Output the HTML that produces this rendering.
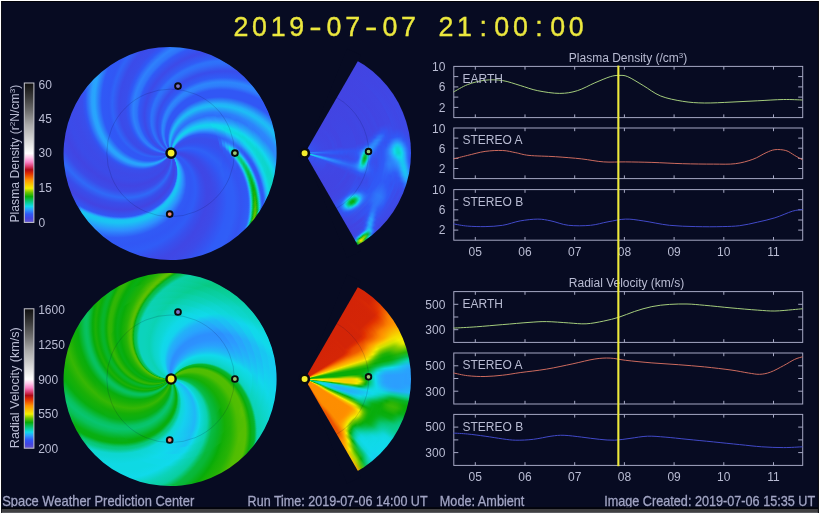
<!DOCTYPE html><html><head><meta charset="utf-8"><title>WSA-Enlil</title><style>
html,body{margin:0;padding:0;background:#070b22;}
#w{position:relative;width:820px;height:514px;overflow:hidden;background:#070b22;font-family:"Liberation Sans",sans-serif;}
.d{position:absolute;width:212.6px;height:212.6px;}
.d i{position:absolute;display:block;border-radius:50%;left:calc(106.3px - var(--r)*1px);top:calc(106.3px - var(--r)*1px);width:calc(var(--r)*2px);height:calc(var(--r)*2px);transform:rotate(calc(var(--r)*0.895deg));}
.f{position:absolute;width:212.6px;height:212.6px;}
.f i{position:absolute;display:block;border-radius:50%;}
.dn i{background:conic-gradient(from 90deg,#3f47e5 0deg,#384fed 8deg,#305cf7 16deg,#3157f5 24deg,#305bf6 32deg,#2d91fe 40deg,#1ac4f3 48deg,#19c6f2 51deg,#21b4f8 52deg,#2c96fe 53deg,#3157f5 55deg,#4244e2 63deg,#394deb 71deg,#2f6af8 78deg,#3c4be9 86deg,#4145e3 94deg,#3b4be9 102deg,#3d4ae8 110deg,#394eec 118deg,#3157f5 121deg,#2aa1fd 128deg,#27a6fc 131deg,#3059f6 139deg,#3157f5 147deg,#2f64f8 151deg,#3b4be9 159deg,#394eec 167deg,#3058f6 171deg,#2e82fc 177deg,#2e74fa 182deg,#3059f6 185deg,#3d4ae8 193deg,#305cf6 201deg,#2e73fa 204deg,#2f6ff9 207deg,#394deb 215deg,#305bf6 222deg,#2d87fc 227deg,#2e7efb 231deg,#3157f5 236deg,#3157f5 244deg,#23aff9 252deg,#1dbdf5 255deg,#2e7cfb 263deg,#2f6ff9 268deg,#23b1f9 276deg,#13d4ee 281deg,#19c7f2 285deg,#2c9cff 289deg,#3157f5 296deg,#394eec 304deg,#384fed 312deg,#3255f3 320deg,#2f61f7 328deg,#3058f6 336deg,#384fed 344deg,#3e48e6 352deg,#3f47e5 360deg);}
.dn i.k50{background:conic-gradient(from 90deg,#3f47e5 0deg,#384fed 8deg,#305cf7 16deg,#3157f5 24deg,#305bf6 32deg,#2d91fe 40deg,#1ac4f3 48deg,#19c6f2 51deg,#21b4f8 52deg,#2c96fe 53deg,#3157f5 55deg,#4244e2 63deg,#394deb 71deg,#2f6af8 78deg,#3c4be9 86deg,#4145e3 94deg,#3b4be9 102deg,#3d4ae8 110deg,#394eec 118deg,#3157f5 121deg,#2aa1fd 128deg,#27a6fc 131deg,#3059f6 139deg,#3157f5 147deg,#2f64f8 151deg,#3b4be9 159deg,#394eec 167deg,#3058f6 171deg,#2e82fc 177deg,#2e74fa 182deg,#3059f6 185deg,#3d4ae8 193deg,#305cf6 201deg,#2e73fa 204deg,#2f6ff9 207deg,#394deb 215deg,#305bf6 222deg,#2d87fc 227deg,#2e7efb 231deg,#3157f5 236deg,#3157f5 244deg,#23aff9 252deg,#1dbdf5 255deg,#2e7cfb 263deg,#2f6ef9 267deg,#2b9dff 274deg,#11d7ed 280deg,#10daec 283deg,#2d89fc 291deg,#305df7 296deg,#2f66f8 303deg,#384fed 311deg,#3355f3 319deg,#3060f7 327deg,#305af6 335deg,#3750ee 343deg,#3e49e7 351deg,#3f47e5 359deg,#3f47e5 360deg);}
.dn i.k53{background:conic-gradient(from 90deg,#3f47e5 0deg,#384fed 8deg,#305cf7 16deg,#3157f5 24deg,#305bf6 32deg,#2d91fe 40deg,#1ac4f3 48deg,#19c6f2 51deg,#21b4f8 52deg,#2c96fe 53deg,#3157f5 55deg,#4244e2 63deg,#394deb 71deg,#2f6af8 78deg,#3c4be9 86deg,#4145e3 94deg,#3b4be9 102deg,#3d4ae8 110deg,#394eec 118deg,#3157f5 121deg,#2aa1fd 128deg,#27a6fc 131deg,#3059f6 139deg,#3157f5 147deg,#2f64f8 151deg,#3b4be9 159deg,#394eec 167deg,#3058f6 171deg,#2e82fc 177deg,#2e74fa 182deg,#3059f6 185deg,#3d4ae8 193deg,#305cf6 201deg,#2e73fa 204deg,#2f6ff9 207deg,#394deb 215deg,#305bf6 222deg,#2d87fc 227deg,#2e7efb 231deg,#3157f5 236deg,#3157f5 244deg,#23aff9 252deg,#1dbdf5 255deg,#2e7cfb 263deg,#2f6ef9 267deg,#2d93fe 273deg,#11d9ec 280deg,#11d7ed 284deg,#2e7ffb 292deg,#2f63f7 296deg,#2d8dfd 302deg,#2d87fc 304deg,#305cf7 307deg,#3651ef 315deg,#3058f6 323deg,#2f61f7 331deg,#3355f3 339deg,#3b4cea 347deg,#3f47e5 355deg,#3f47e5 360deg);}
.dn i.k56{background:conic-gradient(from 90deg,#3f47e5 0deg,#384fed 8deg,#305cf7 16deg,#3157f5 24deg,#305bf6 32deg,#2d91fe 40deg,#1ac4f3 48deg,#19c6f2 51deg,#21b4f8 52deg,#2c96fe 53deg,#3157f5 55deg,#4244e2 63deg,#394deb 71deg,#2f6af8 78deg,#3c4be9 86deg,#4145e3 94deg,#3b4be9 102deg,#3d4ae8 110deg,#394eec 118deg,#3157f5 121deg,#2aa1fd 128deg,#27a6fc 131deg,#3059f6 139deg,#3157f5 147deg,#2f64f8 151deg,#3b4be9 159deg,#394eec 167deg,#3058f6 171deg,#2e82fc 177deg,#2e74fa 182deg,#3059f6 185deg,#3d4ae8 193deg,#305cf6 201deg,#2e73fa 204deg,#2f6ff9 207deg,#394deb 215deg,#305bf6 222deg,#2d87fc 227deg,#2e7efb 231deg,#3157f5 236deg,#3157f5 244deg,#23aff9 252deg,#1dbdf5 255deg,#2e7cfb 263deg,#2f6ef9 267deg,#2b9ffe 274deg,#10daec 280deg,#11d9ec 284deg,#2e80fb 292deg,#2f69f8 295deg,#2f6ef9 297deg,#2c99ff 300deg,#21b5f7 302deg,#20b6f7 303deg,#24adfa 304deg,#305cf6 308deg,#3552f0 316deg,#305af6 324deg,#3060f7 332deg,#3454f2 340deg,#3b4be9 348deg,#3f47e5 356deg,#3f47e5 360deg);}
.dn i.k59{background:conic-gradient(from 90deg,#3f47e5 0deg,#384fed 8deg,#305cf7 16deg,#3157f5 24deg,#305bf6 32deg,#2d91fe 40deg,#1ac4f3 48deg,#19c6f2 51deg,#21b4f8 52deg,#2c96fe 53deg,#3157f5 55deg,#4244e2 63deg,#394deb 71deg,#2f6af8 78deg,#3c4be9 86deg,#4145e3 94deg,#3b4be9 102deg,#3d4ae8 110deg,#394eec 118deg,#3157f5 121deg,#2aa1fd 128deg,#27a6fc 131deg,#3059f6 139deg,#3157f5 147deg,#2f64f8 151deg,#3b4be9 159deg,#394eec 167deg,#3058f6 171deg,#2e82fc 177deg,#2e74fa 182deg,#3059f6 185deg,#3d4ae8 193deg,#305cf6 201deg,#2e73fa 204deg,#2f6ff9 207deg,#394deb 215deg,#305bf6 222deg,#2d87fc 227deg,#2e7efb 231deg,#3157f5 236deg,#3157f5 244deg,#23aff9 252deg,#1dbdf5 255deg,#2e7cfb 263deg,#2f70f9 268deg,#2aa0fe 274deg,#12d5ed 279deg,#0fd9e5 283deg,#13d4ee 285deg,#2c99ff 290deg,#2f70f9 294deg,#2f6ff9 296deg,#2d87fc 298deg,#2b9dff 299deg,#15d0ef 301deg,#0fd9e5 302deg,#0fd9e3 303deg,#12d5ee 304deg,#2b9efe 306deg,#2f68f8 308deg,#3157f5 309deg,#3553f1 317deg,#305df7 325deg,#305ef7 333deg,#3553f1 341deg,#3c4ae8 349deg,#4047e5 357deg,#3f47e5 360deg);}
.dn i.k62{background:conic-gradient(from 90deg,#3f47e5 0deg,#384fed 8deg,#305cf7 16deg,#3157f5 24deg,#305bf6 32deg,#2d91fe 40deg,#1ac4f3 48deg,#19c6f2 51deg,#21b4f8 52deg,#2c96fe 53deg,#3157f5 55deg,#4244e2 63deg,#394deb 71deg,#2f6af8 78deg,#3c4be9 86deg,#4145e3 94deg,#3b4be9 102deg,#3d4ae8 110deg,#394eec 118deg,#3157f5 121deg,#2aa1fd 128deg,#27a6fc 131deg,#3059f6 139deg,#3157f5 147deg,#2f64f8 151deg,#3b4be9 159deg,#394eec 167deg,#3058f6 171deg,#2e82fc 177deg,#2e74fa 182deg,#3059f6 185deg,#3d4ae8 193deg,#305cf6 201deg,#2e73fa 204deg,#2f6ff9 207deg,#394deb 215deg,#305bf6 222deg,#2d87fc 227deg,#2e7efb 231deg,#3157f5 236deg,#3157f5 244deg,#23aff9 252deg,#1dbdf5 255deg,#2e7dfb 263deg,#2f70f9 267deg,#29a2fd 274deg,#11d7ed 279deg,#0fd8e1 282deg,#12d6ed 285deg,#2c9bff 290deg,#2f70f9 294deg,#2e72f9 296deg,#2c96fe 298deg,#11d7ed 300deg,#0dd5c8 301deg,#0bd1af 302deg,#0bd1ab 303deg,#0cd3bf 304deg,#0fd9e5 305deg,#1fb9f6 306deg,#2d93fe 307deg,#305cf7 309deg,#3553f1 317deg,#305df7 325deg,#305ef7 333deg,#3553f1 341deg,#3c4ae8 349deg,#4047e5 357deg,#3f47e5 360deg);}
.dn i.k65{background:conic-gradient(from 90deg,#3f47e5 0deg,#384fed 8deg,#305cf7 16deg,#3157f5 24deg,#305bf6 32deg,#2d91fe 40deg,#1ac4f3 48deg,#19c6f2 51deg,#21b4f8 52deg,#2c96fe 53deg,#3157f5 55deg,#4244e2 63deg,#394deb 71deg,#2f6af8 78deg,#3c4be9 86deg,#4145e3 94deg,#3b4be9 102deg,#3d4ae8 110deg,#394eec 118deg,#3157f5 121deg,#2aa1fd 128deg,#27a6fc 131deg,#3059f6 139deg,#3157f5 147deg,#2f64f8 151deg,#3b4be9 159deg,#394eec 167deg,#3058f6 171deg,#2e82fc 177deg,#2e74fa 182deg,#3059f6 185deg,#3d4ae8 193deg,#305cf6 201deg,#2e73fa 204deg,#2f6ff9 207deg,#394deb 215deg,#305bf6 222deg,#2d87fc 227deg,#2e7efb 231deg,#3157f5 236deg,#3157f5 244deg,#23aff9 252deg,#1dbdf5 255deg,#2e7efb 263deg,#2f71f9 267deg,#2c99ff 273deg,#10d9ec 279deg,#0fd8e0 283deg,#11d8ec 285deg,#2c9cff 290deg,#2f6af8 294deg,#2f68f8 295deg,#2f6ff9 296deg,#2e80fb 297deg,#2c9aff 298deg,#1dbef5 299deg,#0fd8df 300deg,#0bd2b4 301deg,#09ce98 302deg,#09cd94 303deg,#0ad0a8 304deg,#0ed6d2 305deg,#19c5f2 306deg,#2c9bff 307deg,#305ff7 309deg,#3553f1 317deg,#305df7 325deg,#305ef7 333deg,#3553f1 341deg,#3c4ae8 349deg,#4047e5 357deg,#3f47e5 360deg);}
.dn i.k68{background:conic-gradient(from 90deg,#3f47e5 0deg,#384fed 8deg,#305cf7 16deg,#3157f5 24deg,#305bf6 32deg,#2d91fe 40deg,#1ac4f3 48deg,#19c6f2 51deg,#21b4f8 52deg,#2c96fe 53deg,#3157f5 55deg,#4244e2 63deg,#394deb 71deg,#2f6af8 78deg,#3c4be9 86deg,#4145e3 94deg,#3b4be9 102deg,#3d4ae8 110deg,#394eec 118deg,#3157f5 121deg,#2aa1fd 128deg,#27a6fc 131deg,#3059f6 139deg,#3157f5 147deg,#2f64f8 151deg,#3b4be9 159deg,#394eec 167deg,#3058f6 171deg,#2e82fc 177deg,#2e74fa 182deg,#3059f6 185deg,#3d4ae8 193deg,#305cf6 201deg,#2e73fa 204deg,#2f6ff9 207deg,#394deb 215deg,#305bf6 222deg,#2d87fc 227deg,#2e7efb 231deg,#3157f5 236deg,#3157f5 244deg,#23aff9 252deg,#1dbdf5 255deg,#2e7efb 263deg,#2e73fa 267deg,#22b3f8 275deg,#10daeb 279deg,#0fd8dc 282deg,#10daeb 285deg,#2d8efd 291deg,#2f64f8 294deg,#2f63f7 295deg,#2f6cf9 296deg,#2e7ffb 297deg,#2c9dff 298deg,#1ac4f3 299deg,#0ed6d3 300deg,#0ad0a4 301deg,#08cb87 302deg,#08ca82 303deg,#09ce98 304deg,#0dd4c4 305deg,#16cef0 306deg,#2aa1fd 307deg,#2e7dfb 308deg,#2f62f7 309deg,#3255f3 310deg,#3454f2 318deg,#305ef7 326deg,#305cf7 334deg,#3652f0 342deg,#3d4ae8 350deg,#4047e5 358deg,#3f47e5 360deg);}
.dn i.k71{background:conic-gradient(from 90deg,#3f47e5 0deg,#384fed 8deg,#305cf7 16deg,#3157f5 24deg,#305bf6 32deg,#2d91fe 40deg,#1ac4f3 48deg,#19c6f2 51deg,#21b4f8 52deg,#2c96fe 53deg,#3157f5 55deg,#4244e2 63deg,#394deb 71deg,#2f6af8 78deg,#3c4be9 86deg,#4145e3 94deg,#3b4be9 102deg,#3d4ae8 110deg,#394eec 118deg,#3157f5 121deg,#2aa1fd 128deg,#27a6fc 131deg,#3059f6 139deg,#3157f5 147deg,#2f64f8 151deg,#3b4be9 159deg,#394eec 167deg,#3058f6 171deg,#2e82fc 177deg,#2e74fa 182deg,#3059f6 185deg,#3d4ae8 193deg,#305cf6 201deg,#2e73fa 204deg,#2f6ff9 207deg,#394deb 215deg,#305bf6 222deg,#2d87fc 227deg,#2e7efb 231deg,#3157f5 236deg,#3157f5 244deg,#23aff9 252deg,#1dbef5 255deg,#2e7ffb 263deg,#2e77fa 268deg,#1bc1f4 276deg,#10d9e8 279deg,#0ed7da 282deg,#10d9e8 285deg,#23b0f9 289deg,#2f6af8 293deg,#305ff7 294deg,#305df7 295deg,#2f68f8 296deg,#2e7ffb 297deg,#2aa0fe 298deg,#17cbf1 299deg,#0dd5c6 300deg,#09cd95 301deg,#08c775 302deg,#08c570 303deg,#08cb88 304deg,#0cd2b6 305deg,#12d6ed 306deg,#27a7fc 307deg,#2e81fb 308deg,#2f64f8 309deg,#3256f4 310deg,#3454f2 318deg,#305ef7 326deg,#305cf7 334deg,#3652f0 342deg,#3d4ae8 350deg,#4047e5 358deg,#3f47e5 360deg);}
.dn i.k74{background:conic-gradient(from 90deg,#3f47e5 0deg,#384fed 8deg,#305cf7 16deg,#3157f5 24deg,#305bf6 32deg,#2d91fe 40deg,#1ac4f3 48deg,#19c6f2 51deg,#21b4f8 52deg,#2c96fe 53deg,#3157f5 55deg,#4244e2 63deg,#394deb 71deg,#2f6af8 78deg,#3c4be9 86deg,#4145e3 94deg,#3b4be9 102deg,#3d4ae8 110deg,#394eec 118deg,#3157f5 121deg,#2aa1fd 128deg,#27a6fc 131deg,#3059f6 139deg,#3157f5 147deg,#2f64f8 151deg,#3b4be9 159deg,#394eec 167deg,#3058f6 171deg,#2e82fc 177deg,#2e74fa 182deg,#3059f6 185deg,#3d4ae8 193deg,#305cf6 201deg,#2e73fa 204deg,#2f6ff9 207deg,#394deb 215deg,#305bf6 222deg,#2d87fc 227deg,#2e7efb 231deg,#3157f5 236deg,#3157f5 244deg,#23aff9 252deg,#1dbef5 255deg,#2e80fb 263deg,#2e76fa 267deg,#2aa0fe 273deg,#11d7ed 278deg,#0ed7d9 281deg,#11d7ed 286deg,#22b2f8 289deg,#2f65f8 293deg,#3059f6 294deg,#3058f6 295deg,#2f64f8 296deg,#2e7efb 297deg,#29a3fd 298deg,#14d2ef 299deg,#0cd3ba 300deg,#08ca86 301deg,#08c264 302deg,#08c15e 303deg,#08c777 304deg,#0ad0a8 305deg,#10d9e6 306deg,#24adfa 307deg,#2d84fc 308deg,#2f66f8 309deg,#3256f4 310deg,#3454f2 318deg,#305ef7 326deg,#305cf7 334deg,#3652f0 342deg,#3d4ae8 350deg,#4047e5 358deg,#3f47e5 360deg);}
.dn i.k77{background:conic-gradient(from 90deg,#3f47e5 0deg,#384fed 8deg,#305cf7 16deg,#3157f5 24deg,#305bf6 32deg,#2d91fe 40deg,#1ac4f3 48deg,#19c6f2 51deg,#21b4f8 52deg,#2c96fe 53deg,#3157f5 55deg,#4244e2 63deg,#394deb 71deg,#2f6af8 78deg,#3c4be9 86deg,#4145e3 94deg,#3b4be9 102deg,#3d4ae8 110deg,#394eec 118deg,#3157f5 121deg,#2aa1fd 128deg,#27a6fc 131deg,#3059f6 139deg,#3157f5 147deg,#2f64f8 151deg,#3b4be9 159deg,#394eec 167deg,#3058f6 171deg,#2e82fc 177deg,#2e74fa 182deg,#3059f6 185deg,#3d4ae8 193deg,#305cf6 201deg,#2e73fa 204deg,#2f6ff9 207deg,#394deb 215deg,#305bf6 222deg,#2d87fc 227deg,#2e7efb 231deg,#3157f5 236deg,#3157f5 244deg,#23aff9 252deg,#1dbef5 255deg,#2e81fb 263deg,#2e78fa 267deg,#1fbaf6 275deg,#11d9ec 278deg,#0ed7d5 282deg,#10d9ec 286deg,#21b4f8 289deg,#2f61f7 293deg,#3156f4 294deg,#3256f4 295deg,#2f61f7 296deg,#2e7efb 297deg,#27a6fc 298deg,#11d8ed 299deg,#0bd1ad 300deg,#08c776 301deg,#08be52 302deg,#08bd4c 303deg,#08c367 304deg,#09ce9a 305deg,#0fd8db 306deg,#21b4f8 307deg,#2d88fc 308deg,#2f68f8 309deg,#3157f5 310deg,#3454f2 318deg,#305ef7 326deg,#305cf7 334deg,#3652f0 342deg,#3d4ae8 350deg,#4047e5 358deg,#3f47e5 360deg);}
.dn i.k80{background:conic-gradient(from 90deg,#3f47e5 0deg,#384fed 8deg,#305cf7 16deg,#3157f5 24deg,#305bf6 32deg,#2d91fe 40deg,#1ac4f3 48deg,#19c6f2 51deg,#21b4f8 52deg,#2c96fe 53deg,#3157f5 55deg,#4244e2 63deg,#394deb 71deg,#2f6af8 78deg,#3c4be9 86deg,#4145e3 94deg,#3b4be9 102deg,#3d4ae8 110deg,#394eec 118deg,#3157f5 121deg,#2aa1fd 128deg,#27a6fc 131deg,#3059f6 139deg,#3157f5 147deg,#2f64f8 151deg,#3b4be9 159deg,#394eec 167deg,#3058f6 171deg,#2e82fc 177deg,#2e74fa 182deg,#3059f6 185deg,#3d4ae8 193deg,#305cf6 201deg,#2e73fa 204deg,#2f6ff9 207deg,#394deb 215deg,#305bf6 222deg,#2d87fc 227deg,#2e7efb 231deg,#3157f5 236deg,#3157f5 244deg,#23aff9 252deg,#1dbef5 255deg,#2e82fc 263deg,#2e79fa 267deg,#1ebcf5 275deg,#10daec 278deg,#0ed7d5 281deg,#0ed7d9 284deg,#10daea 286deg,#20b6f7 289deg,#305cf7 293deg,#3355f3 295deg,#305df7 296deg,#2e7dfb 297deg,#26a9fb 298deg,#0fd9e6 299deg,#0acfa1 300deg,#08c366 301deg,#08ba40 302deg,#08b83a 303deg,#08bf56 304deg,#08cc8c 305deg,#0ed6d0 306deg,#1fbaf6 307deg,#2d8cfd 308deg,#2f6bf8 309deg,#3157f5 310deg,#3454f2 318deg,#305ef7 326deg,#305cf7 334deg,#3652f0 342deg,#3d4ae8 350deg,#4047e5 358deg,#3f47e5 360deg);}
.dn i.k83{background:conic-gradient(from 90deg,#3f47e5 0deg,#384fed 8deg,#305cf7 16deg,#3157f5 24deg,#305bf6 32deg,#2d91fe 40deg,#1ac4f3 48deg,#19c6f2 51deg,#21b4f8 52deg,#2c96fe 53deg,#3157f5 55deg,#4244e2 63deg,#394deb 71deg,#2f6af8 78deg,#3c4be9 86deg,#4145e3 94deg,#3b4be9 102deg,#3d4ae8 110deg,#394eec 118deg,#3157f5 121deg,#2aa1fd 128deg,#27a6fc 131deg,#3059f6 139deg,#3157f5 147deg,#2f64f8 151deg,#3b4be9 159deg,#394eec 167deg,#3058f6 171deg,#2e82fc 177deg,#2e74fa 182deg,#3059f6 185deg,#3d4ae8 193deg,#305cf6 201deg,#2e73fa 204deg,#2f6ff9 207deg,#394deb 215deg,#305bf6 222deg,#2d87fc 227deg,#2e7efb 231deg,#3157f5 236deg,#3157f5 244deg,#23b0f9 252deg,#1dbef5 255deg,#2d83fc 263deg,#2e7efb 268deg,#18c9f1 276deg,#10dae9 278deg,#0ed6d1 282deg,#0fd8dd 285deg,#13d4ee 287deg,#29a4fd 290deg,#3058f6 293deg,#3553f1 295deg,#3059f6 296deg,#2e7cfb 297deg,#25adfa 298deg,#0fd8dd 299deg,#09cd94 300deg,#08bf56 301deg,#08b52f 302deg,#08b428 303deg,#08bb45 304deg,#08c97e 305deg,#0dd4c5 306deg,#1cc0f4 307deg,#2d90fd 308deg,#2f6df9 309deg,#3157f5 310deg,#3454f2 318deg,#305ef7 326deg,#305cf7 334deg,#3652f0 342deg,#3d4ae8 350deg,#4047e5 358deg,#3f47e5 360deg);}
.dn i.k86{background:conic-gradient(from 90deg,#3f47e5 0deg,#384fed 8deg,#305cf7 16deg,#3157f5 24deg,#305bf6 32deg,#2d91fe 40deg,#1ac4f3 48deg,#19c6f2 51deg,#21b4f8 52deg,#2c96fe 53deg,#3157f5 55deg,#4244e2 63deg,#394deb 71deg,#2f6af8 78deg,#3c4be9 86deg,#4145e3 94deg,#3b4be9 102deg,#3d4ae8 110deg,#394eec 118deg,#3157f5 121deg,#2aa1fd 128deg,#27a6fc 131deg,#3059f6 139deg,#3157f5 147deg,#2f64f8 151deg,#3b4be9 159deg,#394eec 167deg,#3058f6 171deg,#2e82fc 177deg,#2e74fa 182deg,#3059f6 185deg,#3d4ae8 193deg,#305cf6 201deg,#2e73fa 204deg,#2f6ff9 207deg,#394deb 215deg,#305bf6 222deg,#2d87fc 227deg,#2e7efb 231deg,#3157f5 236deg,#3157f5 244deg,#23b0f9 252deg,#1dbef4 255deg,#2d84fc 263deg,#2e7cfb 267deg,#1cc0f4 275deg,#12d5ee 277deg,#0ed6d0 281deg,#0ed6d3 284deg,#12d6ed 287deg,#1fbaf6 289deg,#2d8bfd 291deg,#3157f5 293deg,#3652f0 295deg,#3058f6 296deg,#2e7dfb 297deg,#23b0f9 298deg,#0ed6d4 299deg,#08cb87 300deg,#08bb45 301deg,#08b11d 302deg,#08af16 303deg,#08b734 304deg,#08c56f 305deg,#0cd3ba 306deg,#19c6f2 307deg,#2c94fe 308deg,#2f70f9 309deg,#3058f6 310deg,#3454f2 318deg,#305ef7 326deg,#305cf7 334deg,#3652f0 342deg,#3d4ae8 350deg,#4047e5 358deg,#3f47e5 360deg);}
.dn i.k89{background:conic-gradient(from 90deg,#3f47e5 0deg,#384fed 8deg,#305cf7 16deg,#3157f5 24deg,#305bf6 32deg,#2d91fe 40deg,#1ac4f3 48deg,#19c6f2 51deg,#21b4f8 52deg,#2c96fe 53deg,#3157f5 55deg,#4244e2 63deg,#394deb 71deg,#2f6af8 78deg,#3c4be9 86deg,#4145e3 94deg,#3b4be9 102deg,#3d4ae8 110deg,#394eec 118deg,#3157f5 121deg,#2aa1fd 128deg,#27a6fc 131deg,#3059f6 139deg,#3157f5 147deg,#2f64f8 151deg,#3b4be9 159deg,#394eec 167deg,#3058f6 171deg,#2e82fc 177deg,#2e74fa 182deg,#3059f6 185deg,#3d4ae8 193deg,#305cf6 201deg,#2e73fa 204deg,#2f6ff9 207deg,#394deb 215deg,#305bf6 222deg,#2d87fc 227deg,#2e7efb 231deg,#3157f5 236deg,#3157f5 244deg,#23b0f9 252deg,#1cbff4 255deg,#2d85fc 263deg,#2e7efb 267deg,#1bc1f4 275deg,#12d7ed 277deg,#0ed6ce 281deg,#0ed6d1 284deg,#11d8ec 287deg,#1dbcf5 289deg,#2d8efd 291deg,#3057f5 293deg,#3553f1 295deg,#305af6 296deg,#2e81fb 297deg,#20b7f7 298deg,#0dd5c9 299deg,#08c779 300deg,#08b735 301deg,#08ad0b 302deg,#0cad08 303deg,#08b223 304deg,#08c160 305deg,#0bd1ae 306deg,#16cdf0 307deg,#2c98fe 308deg,#2e72f9 309deg,#3059f6 310deg,#3454f2 318deg,#305ef7 326deg,#305cf7 334deg,#3652f0 342deg,#3d4ae8 350deg,#4047e5 358deg,#3f47e5 360deg);}
.dn i.k92{background:conic-gradient(from 90deg,#3f47e5 0deg,#384fed 8deg,#305cf7 16deg,#3157f5 24deg,#305bf6 32deg,#2d91fe 40deg,#1ac4f3 48deg,#19c6f2 51deg,#21b4f8 52deg,#2c96fe 53deg,#3157f5 55deg,#4244e2 63deg,#394deb 71deg,#2f6af8 78deg,#3c4be9 86deg,#4145e3 94deg,#3b4be9 102deg,#3d4ae8 110deg,#394eec 118deg,#3157f5 121deg,#2aa1fd 128deg,#27a6fc 131deg,#3059f6 139deg,#3157f5 147deg,#2f64f8 151deg,#3b4be9 159deg,#394eec 167deg,#3058f6 171deg,#2e82fc 177deg,#2e74fa 182deg,#3059f6 185deg,#3d4ae8 193deg,#305cf6 201deg,#2e73fa 204deg,#2f6ff9 207deg,#394deb 215deg,#305bf6 222deg,#2d87fc 227deg,#2e7efb 231deg,#3157f5 236deg,#3157f5 244deg,#23b0f9 252deg,#1cbff4 255deg,#2d86fc 263deg,#2d83fc 268deg,#15cef0 276deg,#11d8ed 277deg,#0dd5cc 281deg,#0ed6ce 284deg,#10daeb 287deg,#1cbff4 289deg,#2d90fd 291deg,#3059f6 293deg,#3453f1 295deg,#305ef7 296deg,#2d86fc 297deg,#1dbdf5 298deg,#0cd3be 299deg,#08c46b 300deg,#08b324 301deg,#18b007 302deg,#1fb106 303deg,#08ae12 304deg,#08be52 305deg,#0acfa3 306deg,#13d3ee 307deg,#2c9cff 308deg,#2e75fa 309deg,#305af6 310deg,#3454f2 318deg,#305ef7 326deg,#305cf7 334deg,#3652f0 342deg,#3d4ae8 350deg,#4047e5 358deg,#3f47e5 360deg);}
.dn i.k95{background:conic-gradient(from 90deg,#3f47e5 0deg,#384fed 8deg,#305cf7 16deg,#3157f5 24deg,#305bf6 32deg,#2d91fe 40deg,#1ac4f3 48deg,#19c6f2 51deg,#21b4f8 52deg,#2c96fe 53deg,#3157f5 55deg,#4244e2 63deg,#394deb 71deg,#2f6af8 78deg,#3c4be9 86deg,#4145e3 94deg,#3b4be9 102deg,#3d4ae8 110deg,#394eec 118deg,#3157f5 121deg,#2aa1fd 128deg,#27a6fc 131deg,#3059f6 139deg,#3157f5 147deg,#2f64f8 151deg,#3b4be9 159deg,#394eec 167deg,#3058f6 171deg,#2e82fc 177deg,#2e74fa 182deg,#3059f6 185deg,#3d4ae8 193deg,#305cf6 201deg,#2e73fa 204deg,#2f6ff9 207deg,#394deb 215deg,#305bf6 222deg,#2d87fc 227deg,#2e7efb 231deg,#3157f5 236deg,#3157f5 244deg,#23b0f9 252deg,#1cbff4 255deg,#2d87fc 263deg,#2e81fb 267deg,#19c5f2 275deg,#10daec 277deg,#0dd5ca 281deg,#0ed6d2 285deg,#10d9e8 287deg,#1bc1f4 289deg,#2d92fe 291deg,#305bf6 293deg,#3354f2 295deg,#2f61f7 296deg,#2d8afd 297deg,#1ac4f3 298deg,#0bd2b3 299deg,#08c15d 300deg,#08af14 301deg,#2bb405 302deg,#32b605 303deg,#10ae07 304deg,#08ba43 305deg,#10daec 307deg,#2aa0fe 308deg,#2e77fa 309deg,#305cf6 310deg,#3454f2 318deg,#305ef7 326deg,#305cf7 334deg,#3652f0 342deg,#3d4ae8 350deg,#4047e5 358deg,#3f47e5 360deg);}
.dn i.k98{background:conic-gradient(from 90deg,#3f47e5 0deg,#384fed 8deg,#305cf7 16deg,#3157f5 24deg,#305bf6 32deg,#2d91fe 40deg,#1ac4f3 48deg,#19c6f2 51deg,#21b4f8 52deg,#2c96fe 53deg,#3157f5 55deg,#4244e2 63deg,#394deb 71deg,#2f6af8 78deg,#3c4be9 86deg,#4145e3 94deg,#3b4be9 102deg,#3d4ae8 110deg,#394eec 118deg,#3157f5 121deg,#2aa1fd 128deg,#27a6fc 131deg,#3059f6 139deg,#3157f5 147deg,#2f64f8 151deg,#3b4be9 159deg,#394eec 167deg,#3058f6 171deg,#2e82fc 177deg,#2e74fa 182deg,#3059f6 185deg,#3d4ae8 193deg,#305cf6 201deg,#2e73fa 204deg,#2f6ff9 207deg,#394deb 215deg,#305bf6 222deg,#2d87fc 227deg,#2e7efb 231deg,#3157f5 236deg,#3157f5 244deg,#23b0f9 252deg,#1cbff4 255deg,#2d88fc 263deg,#2d83fc 267deg,#19c7f2 275deg,#10daea 277deg,#0dd5c7 281deg,#0dd5c9 284deg,#0fd9e5 287deg,#13d3ee 288deg,#24aff9 290deg,#2c95fe 291deg,#305df7 293deg,#3355f3 295deg,#2f65f8 296deg,#2d8ffd 297deg,#17caf1 298deg,#0ad0a8 299deg,#08bd4f 300deg,#0dad08 301deg,#3db904 302deg,#45ba03 303deg,#21b206 304deg,#08b734 305deg,#0fd9e4 307deg,#28a4fc 308deg,#2e7afa 309deg,#305df7 310deg,#3454f2 318deg,#305ef7 326deg,#305cf7 334deg,#3652f0 342deg,#3d4ae8 350deg,#4047e5 358deg,#3f47e5 360deg);}
.dn i.k101{background:conic-gradient(from 90deg,#3f47e5 0deg,#384fed 8deg,#305cf7 16deg,#3157f5 24deg,#305bf6 32deg,#2d91fe 40deg,#1ac4f3 48deg,#19c6f2 51deg,#21b4f8 52deg,#2c96fe 53deg,#3157f5 55deg,#4244e2 63deg,#394deb 71deg,#2f6af8 78deg,#3c4be9 86deg,#4145e3 94deg,#3b4be9 102deg,#3d4ae8 110deg,#394eec 118deg,#3157f5 121deg,#2aa1fd 128deg,#27a6fc 131deg,#3059f6 139deg,#3157f5 147deg,#2f64f8 151deg,#3b4be9 159deg,#394eec 167deg,#3058f6 171deg,#2e82fc 177deg,#2e74fa 182deg,#3059f6 185deg,#3d4ae8 193deg,#305cf6 201deg,#2e73fa 204deg,#2f6ff9 207deg,#394deb 215deg,#305bf6 222deg,#2d87fc 227deg,#2e7efb 231deg,#3157f5 236deg,#3157f5 244deg,#23b0f9 252deg,#1cc0f4 255deg,#2d89fd 263deg,#2d84fc 267deg,#18c8f2 275deg,#10dae9 277deg,#0dd5c7 281deg,#0ed6cf 285deg,#0fd9e4 287deg,#13d4ee 288deg,#23b0f9 290deg,#2c96fe 291deg,#305ff7 293deg,#3255f3 294deg,#3256f4 295deg,#2f68f8 296deg,#2d93fe 297deg,#14d1ef 298deg,#09ce9d 299deg,#08ba41 300deg,#1eb106 301deg,#50bd02 302deg,#58bf02 303deg,#33b605 304deg,#08b325 305deg,#0fd8dc 307deg,#26a9fb 308deg,#2e7cfb 309deg,#305ff7 310deg,#3454f2 318deg,#305ef7 326deg,#305cf7 334deg,#3652f0 342deg,#3d4ae8 350deg,#4047e5 358deg,#3f47e5 360deg);}
.dn i.k104{background:conic-gradient(from 90deg,#3f47e5 0deg,#384fed 8deg,#305cf7 16deg,#3157f5 24deg,#305bf6 32deg,#2d91fe 40deg,#1ac4f3 48deg,#19c6f2 51deg,#21b4f8 52deg,#2c96fe 53deg,#3157f5 55deg,#4244e2 63deg,#394deb 71deg,#2f6af8 78deg,#3c4be9 86deg,#4145e3 94deg,#3b4be9 102deg,#3d4ae8 110deg,#394eec 118deg,#3157f5 121deg,#2aa1fd 128deg,#27a6fc 131deg,#3059f6 139deg,#3157f5 147deg,#2f64f8 151deg,#3b4be9 159deg,#394eec 167deg,#3058f6 171deg,#2e82fc 177deg,#2e74fa 182deg,#3059f6 185deg,#3d4ae8 193deg,#305cf6 201deg,#2e73fa 204deg,#2f6ff9 207deg,#394deb 215deg,#305bf6 222deg,#2d87fc 227deg,#2e7efb 231deg,#3157f5 236deg,#3157f5 244deg,#23b0f9 252deg,#1cc0f4 255deg,#2d8afd 263deg,#2d8afd 268deg,#13d3ee 276deg,#0dd5c7 281deg,#0dd5c8 284deg,#12d5ee 288deg,#22b1f9 290deg,#2f61f7 293deg,#3256f4 294deg,#3156f4 295deg,#2f6bf9 296deg,#2c97fe 297deg,#11d7ed 298deg,#09cd92 299deg,#08b633 300deg,#2fb505 301deg,#63c101 302deg,#6bc300 303deg,#45ba03 304deg,#08af16 305deg,#0ed6d3 307deg,#24adfa 308deg,#2e7ffb 309deg,#3060f7 310deg,#3454f2 318deg,#305ef7 326deg,#305cf7 334deg,#3652f0 342deg,#3d4ae8 350deg,#4047e5 358deg,#3f47e5 360deg);}
.dn i.k107{background:conic-gradient(from 90deg,#3f47e5 0deg,#384fed 8deg,#305cf7 16deg,#3157f5 24deg,#305bf6 32deg,#2d91fe 40deg,#1ac4f3 48deg,#19c6f2 51deg,#21b4f8 52deg,#2c96fe 53deg,#3157f5 55deg,#4244e2 63deg,#394deb 71deg,#2f6af8 78deg,#3c4be9 86deg,#4145e3 94deg,#3b4be9 102deg,#3d4ae8 110deg,#394eec 118deg,#3157f5 121deg,#2aa1fd 128deg,#27a6fc 131deg,#3059f6 139deg,#3157f5 147deg,#2f64f8 151deg,#3b4be9 159deg,#394eec 167deg,#3058f6 171deg,#2e82fc 177deg,#2e74fa 182deg,#3059f6 185deg,#3d4ae8 193deg,#305cf6 201deg,#2e73fa 204deg,#2f6ff9 207deg,#394deb 215deg,#305bf6 222deg,#2d87fc 227deg,#2e7efb 231deg,#3157f5 236deg,#3157f5 244deg,#23b1f9 252deg,#1cc1f4 255deg,#2d8bfd 263deg,#2d8bfd 268deg,#13d4ee 276deg,#0dd5c7 281deg,#0dd5c8 284deg,#12d5ed 288deg,#22b2f8 290deg,#2c98ff 291deg,#2f62f7 293deg,#3256f4 294deg,#3157f5 295deg,#2f6ef9 296deg,#2c9bff 297deg,#10d9e8 298deg,#08cb87 299deg,#08b325 300deg,#40b904 301deg,#78c700 302deg,#83cb00 303deg,#57bf02 304deg,#09ac08 305deg,#0dd5cb 307deg,#22b2f8 308deg,#2e81fb 309deg,#2f62f7 310deg,#3255f3 311deg,#3355f3 319deg,#3060f7 327deg,#305af6 335deg,#3750ee 343deg,#3e49e7 351deg,#3f47e5 359deg,#3f47e5 360deg);}
.vl i{background:conic-gradient(from 90deg,#0bd2b2 0deg,#0ed7d8 8deg,#10dae9 10deg,#20b7f7 17deg,#19c5f2 25deg,#14d1ef 33deg,#0fd8db 41deg,#0ed7d6 43deg,#08ca85 48deg,#08c87a 50deg,#08b221 54deg,#08ae10 55deg,#08ae0e 58deg,#08be50 66deg,#08c56f 71deg,#08c265 75deg,#08af15 83deg,#14af07 91deg,#36b704 99deg,#18b007 107deg,#08ad0c 113deg,#08c059 120deg,#08c262 122deg,#08bf57 124deg,#08ac0a 129deg,#1db106 132deg,#0bad08 135deg,#08b52b 139deg,#08b42b 141deg,#0bad08 144deg,#29b405 146deg,#35b704 148deg,#09ac08 154deg,#08af16 157deg,#08ac08 161deg,#26b306 168deg,#56be02 173deg,#58bf02 174deg,#4dbc03 175deg,#2fb505 176deg,#08ad0a 177deg,#08b734 178deg,#08be52 179deg,#08c264 181deg,#0bd1ab 184deg,#0cd3bd 185deg,#0cd3bb 193deg,#0bd2b4 201deg,#0dd5ca 209deg,#0ed7d5 217deg,#10d9e8 225deg,#13d4ee 233deg,#22b2f8 241deg,#28a4fd 249deg,#2d8ffd 257deg,#2d92fe 265deg,#29a2fd 273deg,#1ebcf5 281deg,#10daeb 287deg,#0ed6d3 295deg,#0cd3bf 300deg,#0bd1ac 301deg,#08bb44 303deg,#08b52e 304deg,#08b019 307deg,#08ac0a 308deg,#53be02 313deg,#4ebd02 321deg,#25b306 329deg,#13af07 337deg,#08b42b 345deg,#08bc4b 353deg,#0ad0a8 359deg,#0bd2b2 360deg);}
.vl i.k58{background:conic-gradient(from 90deg,#0bd1b1 0deg,#0ed7d5 8deg,#11d8ec 11deg,#1ebbf5 17deg,#18c8f1 25deg,#13d3ee 33deg,#0fd7da 41deg,#0ed7d6 43deg,#08ca85 48deg,#08c87a 50deg,#08b220 54deg,#08ae10 55deg,#08ad0e 58deg,#08be50 66deg,#08c56f 71deg,#08c265 75deg,#08af15 83deg,#14af07 91deg,#36b704 99deg,#18b007 107deg,#08ad0c 113deg,#08c059 120deg,#08c262 122deg,#08bf57 124deg,#08ac0a 129deg,#1db106 132deg,#0bad08 135deg,#08b52b 139deg,#08b42b 141deg,#0bad08 144deg,#29b405 146deg,#35b704 148deg,#09ac08 154deg,#08af16 157deg,#08ac08 161deg,#26b306 168deg,#56be02 173deg,#58bf02 174deg,#4dbc03 175deg,#2fb505 176deg,#08ac0a 177deg,#08b633 178deg,#08be51 179deg,#08c264 181deg,#0bd1ab 184deg,#0cd3bc 185deg,#0cd3ba 193deg,#0bd2b3 201deg,#0dd5c9 209deg,#0ed7d4 217deg,#10d9e8 225deg,#13d4ee 233deg,#22b2f8 241deg,#28a4fd 249deg,#2d8ffd 257deg,#2d92fe 265deg,#29a2fd 273deg,#1ebcf5 281deg,#10daeb 287deg,#0ed6d3 295deg,#0cd3bf 300deg,#0bd1ac 301deg,#08bb44 303deg,#08b52e 304deg,#08b019 307deg,#08ac0a 308deg,#53be02 313deg,#4ebd02 321deg,#25b306 329deg,#13af07 337deg,#08ac09 340deg,#08b83a 348deg,#08ba42 352deg,#08c366 355deg,#0ad0a7 359deg,#0bd1b1 360deg);}
.vl i.k64{background:conic-gradient(from 90deg,#0bd1ad 0deg,#0ed6cf 8deg,#11d7ed 12deg,#1bc2f3 17deg,#15cfef 25deg,#12d6ed 33deg,#0ed7d9 41deg,#0ed7d4 43deg,#08ca84 48deg,#08c87a 50deg,#08b220 54deg,#08ae10 55deg,#08ad0e 58deg,#08be50 66deg,#08c56f 71deg,#08c265 75deg,#08af15 83deg,#14af07 91deg,#36b704 99deg,#18b007 107deg,#08ad0c 113deg,#08c059 120deg,#08c262 122deg,#08bf57 124deg,#08ac0a 129deg,#1db106 132deg,#0bad08 135deg,#08b52b 139deg,#08b42b 141deg,#0bad08 144deg,#29b405 146deg,#35b704 148deg,#09ac08 154deg,#08af16 157deg,#09ac08 161deg,#27b306 168deg,#57bf02 173deg,#5abf02 174deg,#4fbd02 175deg,#31b605 176deg,#08ac08 177deg,#08b631 178deg,#08bd4f 179deg,#08c261 181deg,#0ad0a8 184deg,#0cd3b9 185deg,#0bd2b5 193deg,#0bd1ac 201deg,#0dd4c2 209deg,#0ed6cf 217deg,#0fd9e4 225deg,#12d6ed 233deg,#22b3f8 241deg,#28a4fd 249deg,#2d8ffd 257deg,#2d92fe 265deg,#29a2fd 273deg,#1ebcf5 281deg,#10daeb 287deg,#0ed6d3 295deg,#0cd3bf 300deg,#0bd1ac 301deg,#08bb44 303deg,#08b52e 304deg,#08b019 307deg,#08ac0a 308deg,#53be02 313deg,#4ebd02 321deg,#25b306 329deg,#14af07 337deg,#08b42a 345deg,#08bc48 353deg,#0acfa4 359deg,#0bd1ad 360deg);}
.vl i.k70{background:conic-gradient(from 90deg,#0ad0aa 0deg,#0dd5c9 8deg,#11d7ed 13deg,#16cef0 21deg,#11d8ed 29deg,#0fd8e0 37deg,#0ed6d3 43deg,#08ca84 48deg,#08c779 50deg,#08b220 54deg,#08ae10 55deg,#08ad0e 58deg,#08be50 66deg,#08c56f 71deg,#08c265 75deg,#08af15 83deg,#14af07 91deg,#36b704 99deg,#18b007 107deg,#08ad0c 113deg,#08c059 120deg,#08c262 122deg,#08bf57 124deg,#08ac0a 129deg,#1db106 132deg,#0bad08 135deg,#08b52b 139deg,#08b42b 141deg,#0bad08 144deg,#29b405 146deg,#35b704 148deg,#09ac08 154deg,#08af16 157deg,#09ac08 161deg,#27b306 168deg,#59bf02 173deg,#5bbf02 174deg,#50bd02 175deg,#33b605 176deg,#0aac08 177deg,#08b52f 178deg,#08bd4d 179deg,#08c15e 181deg,#0ad0a5 184deg,#0bd2b6 185deg,#0bd1b0 193deg,#0ad0a5 201deg,#0cd3bb 209deg,#0dd5c8 217deg,#0fd8de 225deg,#10daea 233deg,#1ebaf6 241deg,#24adfa 249deg,#2c97fe 257deg,#2c9bff 265deg,#25abfb 273deg,#1bc2f3 281deg,#10daea 286deg,#0ed7d6 294deg,#0cd3bd 300deg,#0bd0aa 301deg,#08ba43 303deg,#08b52c 304deg,#08b223 306deg,#08ac09 308deg,#54be02 313deg,#4fbd02 321deg,#25b306 329deg,#14af07 337deg,#08b429 345deg,#08bb46 353deg,#0acfa0 359deg,#0ad0aa 360deg);}
.vl i.k76{background:conic-gradient(from 90deg,#0ad0a7 0deg,#0dd4c4 8deg,#11d9ec 14deg,#12d6ed 22deg,#10daea 30deg,#0fd7da 38deg,#0ed6d2 43deg,#08ca83 48deg,#08c779 50deg,#08b220 54deg,#08ae0f 55deg,#08b019 60deg,#08c261 68deg,#08c570 72deg,#08c15d 76deg,#08ae0f 84deg,#19b007 92deg,#37b704 100deg,#12ae07 108deg,#08ad0c 113deg,#08c059 120deg,#08c262 122deg,#08bf57 124deg,#08ac0a 129deg,#1db106 132deg,#0bad08 135deg,#08b52b 139deg,#08b42b 141deg,#0cad08 144deg,#32b605 147deg,#2eb505 150deg,#09ac08 154deg,#08af16 157deg,#09ac08 161deg,#28b405 168deg,#5abf02 173deg,#5cc001 174deg,#52bd02 175deg,#34b605 176deg,#0cad08 177deg,#08bc4a 179deg,#08c05c 181deg,#0acfa2 184deg,#0bd2b3 185deg,#0bd1ab 193deg,#0acf9e 201deg,#0bd2b3 209deg,#0cd4c1 217deg,#0ed7d7 225deg,#0fd9e3 233deg,#1ac3f3 241deg,#20b7f7 249deg,#29a3fd 257deg,#28a6fc 265deg,#21b4f8 273deg,#18c9f1 281deg,#10dae9 285deg,#0ed7d8 293deg,#0cd3bb 300deg,#0ad0a9 301deg,#08ba41 303deg,#08b42a 304deg,#08b221 306deg,#08ac08 308deg,#49bb03 312deg,#5bc001 314deg,#4abc03 322deg,#21b206 330deg,#11ae07 338deg,#08b52e 346deg,#08bb44 353deg,#09cf9d 359deg,#0ad0a7 360deg);}
.vl i.k82{background:conic-gradient(from 90deg,#0acfa3 0deg,#0cd3be 8deg,#10daeb 15deg,#10d9e8 23deg,#10d9e6 31deg,#0ed7d6 39deg,#0ed6d1 43deg,#08ca82 48deg,#08c778 50deg,#08be51 52deg,#08b21f 54deg,#08ae0f 55deg,#08af12 59deg,#08c059 67deg,#08c570 72deg,#08c15d 76deg,#08ae0f 84deg,#19b007 92deg,#37b704 100deg,#12ae07 108deg,#08ad0c 113deg,#08c059 120deg,#08c262 122deg,#08bf57 124deg,#08ac0a 129deg,#1db106 132deg,#0bad08 135deg,#08b52b 139deg,#08b42b 141deg,#0cad08 144deg,#32b605 147deg,#2eb505 150deg,#09ac08 154deg,#08af16 157deg,#09ac08 161deg,#29b405 168deg,#5bbf02 173deg,#5dc001 174deg,#54be02 175deg,#36b704 176deg,#0ead08 177deg,#08bc48 179deg,#08c059 181deg,#0acf9f 184deg,#0bd1af 185deg,#0ad0a6 193deg,#09ce98 201deg,#0bd1ac 209deg,#0cd3b9 217deg,#0ed6d0 225deg,#0fd8db 233deg,#16ccf0 241deg,#1bc2f3 249deg,#24aef9 257deg,#22b1f9 265deg,#1dbef5 273deg,#14d0ef 281deg,#0ed7da 289deg,#0cd4c0 297deg,#0cd3b9 300deg,#0ad0a7 301deg,#08b93f 303deg,#08b429 304deg,#08b220 306deg,#0aac08 308deg,#55be02 313deg,#4fbd02 321deg,#25b306 329deg,#14af07 337deg,#08ac08 340deg,#08b736 348deg,#08b83b 352deg,#08c05c 355deg,#09ce9a 359deg,#0acfa3 360deg);}
.vl i.k88{background:conic-gradient(from 90deg,#0acfa2 0deg,#0cd3bb 8deg,#10daea 16deg,#0fd9e3 24deg,#0fd9e4 32deg,#0ed6d4 40deg,#0ed6d0 43deg,#08ca82 48deg,#08c778 50deg,#08be51 52deg,#08b21f 54deg,#08ae0f 55deg,#08af12 59deg,#08c059 67deg,#08c570 72deg,#08c15d 76deg,#08ae0f 84deg,#19b007 92deg,#37b704 100deg,#12ae07 108deg,#08ad0c 113deg,#08c059 120deg,#08c262 122deg,#08bf57 124deg,#08ac0a 129deg,#1db106 132deg,#0bad08 135deg,#08b52b 139deg,#08b42b 141deg,#0cad08 144deg,#32b605 147deg,#2eb505 150deg,#09ac08 154deg,#08af14 158deg,#20b206 166deg,#33b605 169deg,#5cc001 173deg,#5fc001 174deg,#55be02 175deg,#38b704 176deg,#0fae07 177deg,#08bb46 179deg,#08bf56 181deg,#09ce9c 184deg,#0bd1ac 185deg,#0acfa0 193deg,#08cd91 201deg,#0ad0a4 209deg,#0bd2b2 217deg,#0dd5c9 225deg,#0ed7d4 233deg,#12d5ee 241deg,#16ccf0 249deg,#1fbaf6 257deg,#1dbcf5 265deg,#18c8f2 273deg,#11d8ed 281deg,#0ed7d5 289deg,#0cd3bd 297deg,#0cd2b7 300deg,#0ad0a5 301deg,#08b93d 303deg,#08b327 304deg,#08b11e 306deg,#0bad08 308deg,#56be02 313deg,#54be02 320deg,#2ab405 328deg,#16af07 336deg,#08ac08 340deg,#08b736 348deg,#08ba41 353deg,#09ce99 359deg,#0acfa2 360deg);}
.vl i.k94{background:conic-gradient(from 90deg,#0acfa2 0deg,#0cd3bb 8deg,#10daea 16deg,#0fd9e3 24deg,#0fd9e4 32deg,#0ed6d4 40deg,#0ed6d0 43deg,#08ca82 48deg,#08c778 50deg,#08be51 52deg,#08b21f 54deg,#08ae0f 55deg,#08af12 59deg,#08c059 67deg,#08c570 72deg,#08c15d 76deg,#08ae0f 84deg,#19b007 92deg,#37b704 100deg,#12ae07 108deg,#08ad0c 113deg,#08c059 120deg,#08c262 122deg,#08bf57 124deg,#08ac0a 129deg,#1db106 132deg,#0bad08 135deg,#08b52b 139deg,#08b42b 141deg,#0cad08 144deg,#32b605 147deg,#2eb505 150deg,#09ac08 154deg,#08af14 158deg,#20b206 166deg,#5dc001 173deg,#60c101 174deg,#57bf02 175deg,#3ab804 176deg,#11ae07 177deg,#08b327 178deg,#08ba43 179deg,#08be53 181deg,#09ce99 184deg,#0ad0a9 185deg,#09ce9b 193deg,#08cb8a 201deg,#09ce9d 209deg,#0bd1ab 217deg,#0dd4c3 225deg,#0dd6cd 233deg,#10dae9 241deg,#11d7ed 249deg,#19c5f2 257deg,#18c8f2 265deg,#14d1ef 273deg,#10d9e8 281deg,#0ed6d1 289deg,#0cd3ba 297deg,#0bd2b5 300deg,#0acfa3 301deg,#08b83b 303deg,#08b325 304deg,#08b11d 306deg,#0cad08 308deg,#57bf02 313deg,#50bd02 321deg,#25b306 329deg,#14af07 337deg,#08ac08 340deg,#08b736 348deg,#08ba41 353deg,#09ce99 359deg,#0acfa2 360deg);}
.vl i.k100{background:conic-gradient(from 90deg,#0acfa2 0deg,#0cd3bb 8deg,#10daea 16deg,#0fd9e3 24deg,#0fd9e4 32deg,#0ed6d4 40deg,#0ed6d0 43deg,#08ca82 48deg,#08c778 50deg,#08be51 52deg,#08b21f 54deg,#08ae0f 55deg,#08af12 59deg,#08c059 67deg,#08c570 72deg,#08c15d 76deg,#08ae0f 84deg,#19b007 92deg,#37b704 100deg,#12ae07 108deg,#08ad0c 113deg,#08c059 120deg,#08c262 122deg,#08bf57 124deg,#08ac0a 129deg,#1db106 132deg,#0bad08 135deg,#08b52b 139deg,#08b42b 141deg,#0cad08 144deg,#32b605 147deg,#2eb505 150deg,#09ac08 154deg,#08af14 158deg,#0aad08 161deg,#2bb405 168deg,#5ec001 173deg,#61c101 174deg,#58bf02 175deg,#3bb804 176deg,#13af07 177deg,#08b324 178deg,#08ba41 179deg,#08be50 181deg,#09cd96 184deg,#0ad0a6 185deg,#09cd96 193deg,#08c982 201deg,#09cd96 209deg,#0ad0a5 217deg,#0cd3bd 225deg,#0dd5c9 233deg,#0fd9e4 241deg,#10daea 249deg,#17cbf1 257deg,#16cdf0 265deg,#12d6ed 273deg,#0fd9e4 281deg,#0ed6ce 289deg,#0cd3b9 297deg,#0bd2b4 300deg,#0acfa2 301deg,#08b83a 303deg,#08b324 304deg,#08b11c 306deg,#0dad08 308deg,#57bf02 313deg,#50bd02 321deg,#25b306 329deg,#14af07 337deg,#08ac08 340deg,#08b736 348deg,#08ba41 353deg,#09ce99 359deg,#0acfa2 360deg);}
.vl i.k106{background:conic-gradient(from 90deg,#0acfa2 0deg,#0cd3bb 8deg,#10daea 16deg,#0fd9e3 24deg,#0fd9e4 32deg,#0ed6d4 40deg,#0ed6d0 43deg,#08ca82 48deg,#08c778 50deg,#08be51 52deg,#08b21f 54deg,#08ae0f 55deg,#08af12 59deg,#08c059 67deg,#08c570 72deg,#08c15d 76deg,#08ae0f 84deg,#19b007 92deg,#37b704 100deg,#12ae07 108deg,#08ad0c 113deg,#08c059 120deg,#08c262 122deg,#08bf57 124deg,#08ac0a 129deg,#1db106 132deg,#0bad08 135deg,#08b52b 139deg,#08b42b 141deg,#0cad08 144deg,#32b605 147deg,#2eb505 150deg,#09ac08 154deg,#08af14 158deg,#0aad08 161deg,#2bb405 168deg,#58bf02 172deg,#61c101 174deg,#59bf02 175deg,#3cb804 176deg,#14af07 177deg,#08b324 178deg,#08ba40 179deg,#08bd50 181deg,#08c262 182deg,#09cd95 184deg,#0ad0a5 185deg,#09cd94 193deg,#08c97f 201deg,#09cd94 209deg,#0acfa3 217deg,#0cd3bc 225deg,#0dd5c8 233deg,#0fd9e4 241deg,#10daea 249deg,#17cbf1 257deg,#16cdf0 265deg,#12d6ed 273deg,#0fd9e4 281deg,#0ed6ce 289deg,#0cd3b9 297deg,#0bd2b4 300deg,#0acfa2 301deg,#08b83a 303deg,#08b324 304deg,#08b11c 306deg,#0dad08 308deg,#57bf02 313deg,#50bd02 321deg,#25b306 329deg,#14af07 337deg,#08ac08 340deg,#08b736 348deg,#08ba41 353deg,#09ce99 359deg,#0acfa2 360deg);}
svg{position:absolute;left:0;top:0;}
.t{font-family:"Liberation Sans",sans-serif;font-size:12px;fill:#b9bcd3;}
.b{font-family:"Liberation Sans",sans-serif;font-size:14.4px;fill:#a2a5c4;stroke:#a2a5c4;stroke-width:0.3px;}
.h{font-family:"Liberation Sans",sans-serif;font-size:26.8px;fill:#ece83e;stroke:#ece83e;stroke-width:0.35px;}
</style></head><body><div id="w">
<div class="d dn" style="left:64.3px;top:46.6px">
<i class="k104" style="--r:106.3"></i><i class="k104" style="--r:105"></i><i class="k104" style="--r:104"></i><i class="k101" style="--r:103"></i><i class="k101" style="--r:102"></i><i class="k101" style="--r:101"></i><i class="k98" style="--r:100"></i><i class="k98" style="--r:99"></i><i class="k98" style="--r:98"></i><i class="k95" style="--r:97"></i><i class="k95" style="--r:96"></i><i class="k95" style="--r:95"></i><i class="k92" style="--r:94"></i><i class="k92" style="--r:93"></i><i class="k92" style="--r:92"></i><i class="k89" style="--r:91"></i><i class="k89" style="--r:90"></i><i class="k89" style="--r:89"></i><i class="k86" style="--r:88"></i><i class="k86" style="--r:87"></i><i class="k86" style="--r:86"></i><i class="k83" style="--r:85"></i><i class="k83" style="--r:84"></i><i class="k83" style="--r:83"></i><i class="k80" style="--r:82"></i><i class="k80" style="--r:81"></i><i class="k80" style="--r:80"></i><i class="k77" style="--r:79"></i><i class="k77" style="--r:78"></i><i class="k77" style="--r:77"></i><i class="k74" style="--r:76"></i><i class="k74" style="--r:75"></i><i class="k74" style="--r:74"></i><i class="k71" style="--r:73"></i><i class="k71" style="--r:72"></i><i class="k71" style="--r:71"></i><i class="k68" style="--r:70"></i><i class="k68" style="--r:69"></i><i class="k68" style="--r:68"></i><i class="k65" style="--r:67"></i><i class="k65" style="--r:66"></i><i class="k65" style="--r:65"></i><i class="k62" style="--r:64"></i><i class="k62" style="--r:63"></i><i class="k62" style="--r:62"></i><i class="k59" style="--r:61"></i><i class="k59" style="--r:60"></i><i class="k59" style="--r:59"></i><i class="k56" style="--r:58"></i><i class="k56" style="--r:57"></i><i class="k56" style="--r:56"></i><i class="k53" style="--r:55"></i><i class="k53" style="--r:54"></i><i class="k53" style="--r:53"></i><i class="k50" style="--r:52"></i><i class="k50" style="--r:51"></i><i class="k50" style="--r:50"></i><i style="--r:49"></i><i style="--r:48"></i><i style="--r:47"></i><i style="--r:46"></i><i style="--r:45"></i><i style="--r:44"></i><i style="--r:43"></i><i style="--r:42"></i><i style="--r:41"></i><i style="--r:40"></i><i style="--r:39"></i><i style="--r:38"></i><i style="--r:37"></i><i style="--r:36"></i><i style="--r:35"></i><i style="--r:34"></i><i style="--r:33"></i><i style="--r:32"></i><i style="--r:31"></i><i style="--r:30"></i><i style="--r:29"></i><i style="--r:28"></i><i style="--r:27"></i><i style="--r:26"></i><i style="--r:25"></i><i style="--r:24"></i><i style="--r:23"></i><i style="--r:22"></i><i style="--r:21"></i><i style="--r:20"></i><i style="--r:19"></i><i style="--r:18"></i><i style="--r:17"></i><i style="--r:16"></i><i style="--r:15"></i><i style="--r:14"></i><i style="--r:13"></i><i style="--r:12"></i><i style="--r:11"></i><i style="--r:10"></i><i style="--r:9"></i><i style="--r:8"></i><i style="--r:7"></i><i style="--r:6"></i><i style="--r:5"></i><i style="--r:4"></i><i style="--r:3"></i><i style="--r:2"></i><i style="--r:1"></i>
</div>
<div class="d vl" style="left:64.3px;top:272.5px">
<i class="k106" style="--r:106.3"></i><i class="k100" style="--r:105"></i><i class="k100" style="--r:104"></i><i class="k100" style="--r:103"></i><i class="k100" style="--r:102"></i><i class="k100" style="--r:101"></i><i class="k100" style="--r:100"></i><i class="k94" style="--r:99"></i><i class="k94" style="--r:98"></i><i class="k94" style="--r:97"></i><i class="k94" style="--r:96"></i><i class="k94" style="--r:95"></i><i class="k94" style="--r:94"></i><i class="k88" style="--r:93"></i><i class="k88" style="--r:92"></i><i class="k88" style="--r:91"></i><i class="k88" style="--r:90"></i><i class="k88" style="--r:89"></i><i class="k88" style="--r:88"></i><i class="k82" style="--r:87"></i><i class="k82" style="--r:86"></i><i class="k82" style="--r:85"></i><i class="k82" style="--r:84"></i><i class="k82" style="--r:83"></i><i class="k82" style="--r:82"></i><i class="k76" style="--r:81"></i><i class="k76" style="--r:80"></i><i class="k76" style="--r:79"></i><i class="k76" style="--r:78"></i><i class="k76" style="--r:77"></i><i class="k76" style="--r:76"></i><i class="k70" style="--r:75"></i><i class="k70" style="--r:74"></i><i class="k70" style="--r:73"></i><i class="k70" style="--r:72"></i><i class="k70" style="--r:71"></i><i class="k70" style="--r:70"></i><i class="k64" style="--r:69"></i><i class="k64" style="--r:68"></i><i class="k64" style="--r:67"></i><i class="k64" style="--r:66"></i><i class="k64" style="--r:65"></i><i class="k64" style="--r:64"></i><i class="k58" style="--r:63"></i><i class="k58" style="--r:62"></i><i class="k58" style="--r:61"></i><i class="k58" style="--r:60"></i><i class="k58" style="--r:59"></i><i class="k58" style="--r:58"></i><i style="--r:57"></i><i style="--r:56"></i><i style="--r:55"></i><i style="--r:54"></i><i style="--r:53"></i><i style="--r:52"></i><i style="--r:51"></i><i style="--r:50"></i><i style="--r:49"></i><i style="--r:48"></i><i style="--r:47"></i><i style="--r:46"></i><i style="--r:45"></i><i style="--r:44"></i><i style="--r:43"></i><i style="--r:42"></i><i style="--r:41"></i><i style="--r:40"></i><i style="--r:39"></i><i style="--r:38"></i><i style="--r:37"></i><i style="--r:36"></i><i style="--r:35"></i><i style="--r:34"></i><i style="--r:33"></i><i style="--r:32"></i><i style="--r:31"></i><i style="--r:30"></i><i style="--r:29"></i><i style="--r:28"></i><i style="--r:27"></i><i style="--r:26"></i><i style="--r:25"></i><i style="--r:24"></i><i style="--r:23"></i><i style="--r:22"></i><i style="--r:21"></i><i style="--r:20"></i><i style="--r:19"></i><i style="--r:18"></i><i style="--r:17"></i><i style="--r:16"></i><i style="--r:15"></i><i style="--r:14"></i><i style="--r:13"></i><i style="--r:12"></i><i style="--r:11"></i><i style="--r:10"></i><i style="--r:9"></i><i style="--r:8"></i><i style="--r:7"></i><i style="--r:6"></i><i style="--r:5"></i><i style="--r:4"></i><i style="--r:3"></i><i style="--r:2"></i><i style="--r:1"></i>
</div>
<div class="f" style="left:198.5px;top:46.9px">
<i style="width:212.6px;height:212.6px;left:0px;top:0px;background:conic-gradient(from 26deg,#4244e2 0deg,#4244e2 4deg,#3e48e6 54deg,#3355f3 64deg,#3355f3 69deg,#2f67f8 71.5deg,#2d90fd 74deg,#24aff9 76.5deg,#29a2fd 79deg,#2f71f9 81.5deg,#3651ef 84deg,#3f47e5 89deg,#3e48e6 111.5deg,#305bf6 114deg,#0fd8dc 116.5deg,#08ba40 119deg,#9dd300 121.5deg,#08b838 124deg,#08b838 128deg,rgba(0,0,0,0) 128deg)"></i>
<i style="width:210.6px;height:210.6px;left:1px;top:1px;background:conic-gradient(from 26deg,#4244e2 0deg,#4244e2 4deg,#3d49e7 54deg,#3058f6 64deg,#3157f5 66.5deg,#305ef7 69deg,#2e7bfb 71.5deg,#28a4fc 74deg,#1fbaf6 76.5deg,#2aa0fe 79deg,#2f6af8 81.5deg,#3850ee 84deg,#3f47e5 89deg,#4046e4 109deg,#3c4be9 111.5deg,#2e79fa 114deg,#08cb88 116.5deg,#43ba03 119deg,#f6e000 121.5deg,#08ad0b 124deg,#08ad0b 128deg,rgba(0,0,0,0) 128deg)"></i>
<i style="width:208.6px;height:208.6px;left:2px;top:2px;background:conic-gradient(from 26deg,#4244e2 0deg,#4244e2 4deg,#3c4be9 54deg,#2f64f8 64deg,#2f65f8 66.5deg,#2f71f9 69deg,#2d90fd 71.5deg,#20b6f7 74deg,#1cbff4 76.5deg,#2c99ff 79deg,#2f62f7 81.5deg,#384fed 84deg,#3f47e5 109deg,#394eec 111.5deg,#2c96fe 114deg,#08bc4a 116.5deg,#8ecf00 119deg,#f6e300 121.5deg,#08b736 124deg,#08b736 128deg,rgba(0,0,0,0) 128deg)"></i>
<i style="width:206.6px;height:206.6px;left:3px;top:3px;background:conic-gradient(from 26deg,#4244e2 0deg,#4244e2 4deg,#3e48e6 51.5deg,#3057f5 59deg,#2f6af8 61.5deg,#2e76fa 66.5deg,#2d85fc 69deg,#28a5fc 71.5deg,#1bc2f3 74deg,#1dbdf5 76.5deg,#2d90fd 79deg,#305af6 81.5deg,#394eec 84deg,#3e48e6 109deg,#3652f0 111.5deg,#23b0f9 114deg,#08b83a 116.5deg,#85cc00 119deg,#99d200 121.5deg,#09ce9b 124deg,#09ce9b 128deg,rgba(0,0,0,0) 128deg)"></i>
<i style="width:204.6px;height:204.6px;left:4px;top:4px;background:conic-gradient(from 26deg,#4244e2 0deg,#4244e2 4deg,#3d49e7 51.5deg,#3453f1 56.5deg,#2f61f7 59deg,#2e78fa 61.5deg,#2d89fd 66.5deg,#2c99ff 69deg,#20b6f7 71.5deg,#18c8f2 74deg,#21b5f7 76.5deg,#2d84fc 79deg,#3156f4 81.5deg,#3d4ae8 86.5deg,#3c4ae8 109deg,#3157f5 111.5deg,#1cc0f4 114deg,#08c05a 116.5deg,#31b605 119deg,#08ae11 121.5deg,#19c5f2 124deg,#19c5f2 128deg,rgba(0,0,0,0) 128deg)"></i>
<i style="width:202.6px;height:202.6px;left:5px;top:5px;background:conic-gradient(from 26deg,#4244e2 0deg,#4244e2 4deg,#3d4ae8 51.5deg,#3256f4 56.5deg,#2d87fc 61.5deg,#2c96fe 64deg,#2b9dff 66.5deg,#25acfa 69deg,#1bc2f3 71.5deg,#19c6f2 74deg,#26a8fb 76.5deg,#2e77fa 79deg,#3355f3 81.5deg,#3c4ae8 86.5deg,#3a4deb 109deg,#2f6af8 111.5deg,#19c6f2 114deg,#0acf9f 116.5deg,#08c05b 119deg,#0acfa2 121.5deg,#2e82fc 124deg,#2e82fc 128deg,rgba(0,0,0,0) 128deg)"></i>
<i style="width:200.6px;height:200.6px;left:6px;top:6px;background:conic-gradient(from 26deg,#4244e2 0deg,#4244e2 4deg,#3f47e5 49deg,#3059f6 56.5deg,#2c98ff 61.5deg,#26aafb 64deg,#19c7f2 71.5deg,#1cbef4 74deg,#2c99ff 76.5deg,#2f6bf9 79deg,#3453f1 81.5deg,#3c4be9 86.5deg,#3c4be9 106.5deg,#3651ef 109deg,#2e81fb 111.5deg,#1cc0f4 114deg,#13d4ee 116.5deg,#0fd8de 119deg,#21b4f8 121.5deg,#3157f5 124deg,#3157f5 128deg,rgba(0,0,0,0) 128deg)"></i>
<i style="width:198.6px;height:198.6px;left:7px;top:7px;background:conic-gradient(from 26deg,#4244e2 0deg,#4244e2 4deg,#3f48e6 49deg,#3552f0 54deg,#2f63f7 56.5deg,#2d89fc 59deg,#25abfa 61.5deg,#1cbff4 64deg,#19c5f2 71.5deg,#22b2f8 74deg,#2d8afd 76.5deg,#2f61f7 79deg,#3552f0 81.5deg,#3a4deb 106.5deg,#3156f4 109deg,#2c96fe 111.5deg,#22b2f8 114deg,#2c96fe 116.5deg,#2d90fd 119deg,#2f6ff9 121.5deg,#394eec 124deg,#394eec 128deg,rgba(0,0,0,0) 128deg)"></i>
<i style="width:196.6px;height:196.6px;left:8px;top:8px;background:conic-gradient(from 26deg,#4244e2 0deg,#4244e2 4deg,#3e48e6 49deg,#3454f2 54deg,#2f6cf9 56.5deg,#2c97fe 59deg,#1cbff4 61.5deg,#14d2ee 64deg,#17cbf1 69deg,#1dbef5 71.5deg,#29a2fd 74deg,#3059f6 79deg,#3a4deb 86.5deg,#3750ee 106.5deg,#2f68f8 109deg,#27a8fb 111.5deg,#2b9efe 114deg,#2f68f8 116.5deg,#3058f6 119deg,#3e49e7 124deg,#3e49e7 128deg,rgba(0,0,0,0) 128deg)"></i>
<i style="width:194.6px;height:194.6px;left:9px;top:9px;background:conic-gradient(from 26deg,#4244e2 0deg,#4244e2 4deg,#3e49e7 49deg,#3255f3 54deg,#2e75fa 56.5deg,#28a5fc 59deg,#14d0ef 61.5deg,#0fd8e2 64deg,#10daeb 66.5deg,#22b3f8 71.5deg,#2c94fe 74deg,#2f70f9 76.5deg,#3157f5 79deg,#394eec 86.5deg,#3750ee 104deg,#3454f2 106.5deg,#2e7efb 109deg,#23b0f9 111.5deg,#2d87fc 114deg,#3453f1 116.5deg,#4046e4 124deg,#4046e4 128deg,rgba(0,0,0,0) 128deg)"></i>
<i style="width:192.6px;height:192.6px;left:10px;top:10px;background:conic-gradient(from 26deg,#4244e2 0deg,#4244e2 4deg,#3d49e7 49deg,#3157f5 54deg,#2e7dfb 56.5deg,#22b2f8 59deg,#0fd9e5 61.5deg,#0ed6d2 64deg,#10d9e6 66.5deg,#1ac3f3 69deg,#27a6fc 71.5deg,#2f67f8 76.5deg,#3256f4 79deg,#384fed 86.5deg,#3256f4 99deg,#3552f0 104deg,#3059f6 106.5deg,#2d91fe 109deg,#24adfa 111.5deg,#2f70f9 114deg,#3a4deb 116.5deg,#4145e3 124deg,#4145e3 128deg,rgba(0,0,0,0) 128deg)"></i>
<i style="width:190.6px;height:190.6px;left:11px;top:11px;background:conic-gradient(from 26deg,#4244e2 0deg,#4244e2 4deg,#3d4ae8 49deg,#3058f6 54deg,#2d83fc 56.5deg,#1ebbf5 59deg,#0ed7d7 61.5deg,#0dd5c9 64deg,#10d9e7 66.5deg,#2c9aff 71.5deg,#2f61f7 76.5deg,#3355f3 79deg,#305af6 96.5deg,#3355f3 104deg,#2f69f8 106.5deg,#2b9efe 109deg,#2b9ffe 111.5deg,#3059f6 114deg,#3d49e7 116.5deg,#4244e2 124deg,#4244e2 128deg,rgba(0,0,0,0) 128deg)"></i>
<i style="width:188.6px;height:188.6px;left:12px;top:12px;background:conic-gradient(from 26deg,#4244e2 0deg,#4244e2 4deg,#3c4ae8 49deg,#3059f6 54deg,#2d87fc 56.5deg,#1bc2f3 59deg,#0ed6cf 61.5deg,#0dd4c6 64deg,#10d9ec 66.5deg,#23b0f9 69deg,#2d90fd 71.5deg,#305ef7 76.5deg,#3355f3 79deg,#3057f5 91.5deg,#3060f7 96.5deg,#3157f5 101.5deg,#3058f6 104deg,#2e79fa 106.5deg,#2aa1fd 109deg,#2d8afd 111.5deg,#3552f0 114deg,#3f47e5 116.5deg,#4244e2 124deg,#4244e2 128deg,rgba(0,0,0,0) 128deg)"></i>
<i style="width:186.6px;height:186.6px;left:13px;top:13px;background:conic-gradient(from 26deg,#4244e2 0deg,#4244e2 4deg,#3c4be9 49deg,#384fed 51.5deg,#305af6 54deg,#2d88fc 56.5deg,#1ac4f3 59deg,#0dd6ce 61.5deg,#0dd5ca 64deg,#14d1ef 66.5deg,#27a6fc 69deg,#2e72f9 74deg,#305df7 76.5deg,#3552f0 84deg,#305cf7 91.5deg,#2f66f8 96.5deg,#305af6 101.5deg,#2f62f7 104deg,#2d84fc 106.5deg,#2c9aff 109deg,#2e72f9 111.5deg,#394eec 114deg,#4244e2 119deg,#4244e2 124deg,#4244e2 128deg,rgba(0,0,0,0) 128deg)"></i>
<i style="width:184.6px;height:184.6px;left:14px;top:14px;background:conic-gradient(from 26deg,#4244e2 0deg,#4244e2 4deg,#3b4be9 49deg,#3059f6 54deg,#2d87fc 56.5deg,#1bc1f4 59deg,#0ed6d4 61.5deg,#0ed6d3 64deg,#18c7f2 66.5deg,#2c9dff 69deg,#305df7 76.5deg,#3453f1 84deg,#3157f5 89deg,#2f69f8 94deg,#3060f7 101.5deg,#2f6bf9 104deg,#2d88fc 106.5deg,#2d8bfd 109deg,#305bf6 111.5deg,#3c4ae8 114deg,#4244e2 124deg,#4244e2 128deg,rgba(0,0,0,0) 128deg)"></i>
<i style="width:182.6px;height:182.6px;left:15px;top:15px;background:conic-gradient(from 26deg,#4244e2 0deg,#4244e2 4deg,#4046e4 44deg,#3750ee 51.5deg,#3058f6 54deg,#2d84fc 56.5deg,#1ebbf6 59deg,#0fd8df 61.5deg,#0fd8e2 64deg,#1dbcf5 66.5deg,#2c96fe 69deg,#305ff7 76.5deg,#3354f2 84deg,#305af6 89deg,#2f6ef9 94deg,#2f6ff9 96.5deg,#2f66f8 101.5deg,#2d85fc 106.5deg,#2e78fa 109deg,#3453f1 111.5deg,#3e48e6 114deg,#4244e2 124deg,#4244e2 128deg,rgba(0,0,0,0) 128deg)"></i>
<i style="width:180.6px;height:180.6px;left:16px;top:16px;background:conic-gradient(from 26deg,#4244e2 0deg,#4244e2 4deg,#4047e5 44deg,#3157f5 54deg,#2e7efb 56.5deg,#23b1f9 59deg,#11d7ed 61.5deg,#12d5ee 64deg,#23b1f9 66.5deg,#2d90fd 69deg,#2f61f7 76.5deg,#3157f5 79deg,#3157f5 86.5deg,#2e72f9 94deg,#2f6cf9 101.5deg,#2e7cfb 106.5deg,#2f63f7 109deg,#394fed 111.5deg,#4244e2 124deg,#4244e2 128deg,rgba(0,0,0,0) 128deg)"></i>
<i style="width:178.6px;height:178.6px;left:17px;top:17px;background:conic-gradient(from 26deg,#4244e2 0deg,#4244e2 4deg,#4047e5 44deg,#3256f4 54deg,#2e77fa 56.5deg,#28a5fc 59deg,#18c8f2 61.5deg,#19c6f2 64deg,#28a6fc 66.5deg,#2d8bfd 69deg,#2e74fa 74deg,#3058f6 79deg,#3058f6 86.5deg,#2e75fa 94deg,#2f70f9 101.5deg,#2e75fa 104deg,#2f6ff9 106.5deg,#3256f4 109deg,#4046e4 114deg,#4244e2 124deg,#4244e2 128deg,rgba(0,0,0,0) 128deg)"></i>
<i style="width:176.6px;height:176.6px;left:18px;top:18px;background:conic-gradient(from 26deg,#4244e2 0deg,#4244e2 4deg,#4047e5 44deg,#3355f3 54deg,#2f6ff9 56.5deg,#2c98fe 59deg,#1fb8f6 61.5deg,#20b6f7 64deg,#2c9bff 66.5deg,#2d87fc 69deg,#2e75fa 74deg,#3059f6 79deg,#305af6 86.5deg,#2e78fa 94deg,#2f70f9 104deg,#2f61f7 106.5deg,#3652f0 109deg,#4046e4 114deg,#4244e2 124deg,#4244e2 128deg,rgba(0,0,0,0) 128deg)"></i>
<i style="width:174.6px;height:174.6px;left:19px;top:19px;background:conic-gradient(from 26deg,#4244e2 0deg,#4244e2 4deg,#4047e5 44deg,#3454f2 54deg,#2f67f8 56.5deg,#2d8bfd 59deg,#27a7fb 61.5deg,#27a7fc 64deg,#2d91fe 66.5deg,#2d83fc 69deg,#2e80fb 71.5deg,#2e76fa 74deg,#2f65f8 76.5deg,#305bf6 79deg,#3058f6 84deg,#305cf7 86.5deg,#2e79fa 94deg,#2f70f9 101.5deg,#2f68f8 104deg,#3157f5 106.5deg,#4046e4 114deg,#4244e2 124deg,#4244e2 128deg,rgba(0,0,0,0) 128deg)"></i>
<i style="width:172.6px;height:172.6px;left:20px;top:20px;background:conic-gradient(from 26deg,#4244e2 0deg,#4244e2 4deg,#4047e5 44deg,#3652f0 49deg,#3453f1 54deg,#305ef7 56.5deg,#2e7ffb 59deg,#2c98fe 61.5deg,#2c99ff 64deg,#2d88fc 66.5deg,#2e7efb 69deg,#2e7efb 71.5deg,#2e76fa 74deg,#305cf7 79deg,#3058f6 84deg,#2e79fa 94deg,#2f6df9 101.5deg,#3454f2 106.5deg,#4244e2 124deg,#4244e2 128deg,rgba(0,0,0,0) 128deg)"></i>
<i style="width:170.6px;height:170.6px;left:21px;top:21px;background:conic-gradient(from 26deg,#4244e2 0deg,#4244e2 4deg,#4046e4 44deg,#3553f1 49deg,#3553f1 54deg,#3058f6 56.5deg,#2d8bfd 61.5deg,#2d8dfd 64deg,#2e80fb 66.5deg,#2e7afa 69deg,#2e7cfb 71.5deg,#2e74fa 74deg,#2f65f8 76.5deg,#3059f6 84deg,#2e78fa 94deg,#2e72f9 99deg,#3059f6 104deg,#4145e3 124deg,#4145e3 128deg,rgba(0,0,0,0) 128deg)"></i>
<i style="width:168.6px;height:168.6px;left:22px;top:22px;background:conic-gradient(from 26deg,#4244e2 0deg,#4244e2 4deg,#4046e4 44deg,#3354f2 49deg,#3256f4 56.5deg,#2e7ffb 61.5deg,#2e82fb 64deg,#2e78fa 66.5deg,#2e78fa 71.5deg,#305df7 79deg,#305af6 84deg,#2e77fa 94deg,#2f6ff9 99deg,#3157f5 104deg,#4145e3 124deg,#4145e3 128deg,rgba(0,0,0,0) 128deg)"></i>
<i style="width:166.6px;height:166.6px;left:23px;top:23px;background:conic-gradient(from 26deg,#4244e2 0deg,#4244e2 4deg,#4046e4 44deg,#3255f3 49deg,#3354f2 56.5deg,#3060f7 59deg,#2e74fa 61.5deg,#2e78fa 64deg,#2f70f9 66.5deg,#2e73fa 71.5deg,#305df7 79deg,#305df7 86.5deg,#2e74fa 94deg,#2f6cf9 99deg,#3256f4 104deg,#4145e3 124deg,#4145e3 128deg,rgba(0,0,0,0) 128deg)"></i>
<i style="width:164.6px;height:164.6px;left:24px;top:24px;background:conic-gradient(from 26deg,#4244e2 0deg,#4244e2 4deg,#4046e4 44deg,#3256f4 49deg,#305df7 51.5deg,#3453f1 56.5deg,#3058f6 59deg,#2f6af8 61.5deg,#2f6ff9 64deg,#2f69f8 69deg,#2f6df9 71.5deg,#3059f6 84deg,#2f71f9 94deg,#2f69f8 99deg,#3255f3 104deg,#4145e3 124deg,#4145e3 128deg,rgba(0,0,0,0) 128deg)"></i>
<i style="width:162.6px;height:162.6px;left:25px;top:25px;background:conic-gradient(from 26deg,#4244e2 0deg,#4244e2 4deg,#4146e4 44deg,#3156f4 49deg,#2f65f8 51.5deg,#3157f5 54deg,#3453f1 56.5deg,#3256f4 59deg,#2f62f7 61.5deg,#2f67f8 64deg,#2f62f7 69deg,#2f66f8 71.5deg,#3058f6 84deg,#2f6df9 94deg,#2f66f8 99deg,#3552f0 106.5deg,#4046e4 124deg,#4046e4 128deg,rgba(0,0,0,0) 128deg)"></i>
<i style="width:160.6px;height:160.6px;left:26px;top:26px;background:conic-gradient(from 26deg,#4244e2 0deg,#4244e2 4deg,#4145e3 44deg,#3156f4 49deg,#2f6bf9 51.5deg,#3454f2 56.5deg,#3060f7 64deg,#305cf6 69deg,#3058f6 86.5deg,#2f68f8 94deg,#4046e4 124deg,#4046e4 128deg,rgba(0,0,0,0) 128deg)"></i>
<i style="width:158.6px;height:158.6px;left:27px;top:27px;background:conic-gradient(from 26deg,#4244e2 0deg,#4244e2 4deg,#4145e3 44deg,#3d4ae8 46.5deg,#3256f4 49deg,#2f71f9 51.5deg,#3355f3 56.5deg,#305af6 64deg,#3059f6 89deg,#2f64f8 94deg,#3f47e5 124deg,#3f47e5 128deg,rgba(0,0,0,0) 128deg)"></i>
<i style="width:156.6px;height:156.6px;left:28px;top:28px;background:conic-gradient(from 26deg,#4244e2 0deg,#4244e2 4deg,#4145e3 44deg,#3d49e7 46.5deg,#3355f3 49deg,#2e74fa 51.5deg,#2f70f9 54deg,#3157f5 56.5deg,#305af6 91.5deg,#3060f7 101.5deg,#3f48e6 124deg,#3f48e6 128deg,rgba(0,0,0,0) 128deg)"></i>
<i style="width:154.6px;height:154.6px;left:29px;top:29px;background:conic-gradient(from 26deg,#4244e2 0deg,#4244e2 4deg,#3e48e6 46.5deg,#3453f1 49deg,#2e75fa 51.5deg,#2e79fa 54deg,#305cf7 56.5deg,#3354f2 59deg,#305af6 94deg,#2f67f8 104deg,#2f61f7 109deg,#3e48e6 124deg,#3e48e6 128deg,rgba(0,0,0,0) 128deg)"></i>
<i style="width:152.6px;height:152.6px;left:30px;top:30px;background:conic-gradient(from 26deg,#4244e2 0deg,#4244e2 4deg,#3f48e6 46.5deg,#3652f0 49deg,#2e73fa 51.5deg,#2e81fb 54deg,#2f66f8 56.5deg,#3256f4 59deg,#3157f5 94deg,#2e78fa 106.5deg,#2e74fa 109deg,#3059f6 114deg,#3d49e7 124deg,#3d49e7 128deg,rgba(0,0,0,0) 128deg)"></i>
<i style="width:150.6px;height:150.6px;left:31px;top:31px;background:conic-gradient(from 26deg,#4244e2 0deg,#4244e2 4deg,#3f47e5 46.5deg,#3750ee 49deg,#2f6ef9 51.5deg,#2d86fc 54deg,#3057f5 59deg,#3552f0 74deg,#3157f5 81.5deg,#3059f6 96.5deg,#2d90fd 106.5deg,#2d8ffd 109deg,#3157f5 116.5deg,#3d4ae8 124deg,#3d4ae8 128deg,rgba(0,0,0,0) 128deg)"></i>
<i style="width:148.6px;height:148.6px;left:32px;top:32px;background:conic-gradient(from 26deg,#4244e2 0deg,#4244e2 4deg,#4046e4 46.5deg,#394eec 49deg,#2f68f8 51.5deg,#2d88fc 54deg,#2e7bfb 56.5deg,#305ff7 59deg,#3156f4 61.5deg,#3651ef 74deg,#3156f4 81.5deg,#3058f6 96.5deg,#2f67f8 99deg,#2c9aff 104deg,#23b1f9 106.5deg,#21b3f8 109deg,#2aa0fe 111.5deg,#2f64f8 116.5deg,#3354f2 119deg,#3c4be9 124deg,#3c4be9 128deg,rgba(0,0,0,0) 128deg)"></i>
<i style="width:146.6px;height:146.6px;left:33px;top:33px;background:conic-gradient(from 26deg,#4244e2 0deg,#4244e2 4deg,#4046e4 46.5deg,#3a4cea 49deg,#305ff7 51.5deg,#2d86fc 54deg,#2d83fc 56.5deg,#2f68f8 59deg,#3058f6 61.5deg,#394eec 71.5deg,#3256f4 81.5deg,#3651ef 91.5deg,#3157f5 96.5deg,#2f69f8 99deg,#2d89fc 101.5deg,#21b4f8 104deg,#11d8ec 106.5deg,#0fd8e1 109deg,#17cbf0 111.5deg,#2aa1fe 114deg,#2e77fa 116.5deg,#3157f5 119deg,#3b4cea 124deg,#3b4cea 128deg,rgba(0,0,0,0) 128deg)"></i>
<i style="width:144.6px;height:144.6px;left:34px;top:34px;background:conic-gradient(from 26deg,#4244e2 0deg,#4244e2 4deg,#4145e3 46.5deg,#3157f5 51.5deg,#2e81fb 54deg,#2d89fc 56.5deg,#305ff7 61.5deg,#394eec 69deg,#3256f4 81.5deg,#3552f0 94deg,#3156f4 96.5deg,#2f6bf8 99deg,#2d93fe 101.5deg,#16cdf0 104deg,#0cd2b8 106.5deg,#0acf9e 109deg,#0cd3bf 111.5deg,#19c7f2 114deg,#2d8dfd 116.5deg,#2f62f7 119deg,#3552f0 121.5deg,#3a4deb 124deg,#3a4deb 128deg,rgba(0,0,0,0) 128deg)"></i>
<i style="width:142.6px;height:142.6px;left:35px;top:35px;background:conic-gradient(from 26deg,#4244e2 0deg,#4244e2 4deg,#4145e3 46.5deg,#3d49e7 49deg,#3354f2 51.5deg,#2e7afa 54deg,#2d8cfd 56.5deg,#3157f5 64deg,#394eec 71.5deg,#3058f6 79deg,#384fed 91.5deg,#3256f4 96.5deg,#2f6bf9 99deg,#2c9aff 101.5deg,#0fd8e1 104deg,#08cb86 106.5deg,#08c05c 109deg,#08c87d 111.5deg,#0ed6d2 114deg,#28a5fc 116.5deg,#2f6ff9 119deg,#3354f2 121.5deg,#394eec 124deg,#394eec 128deg,rgba(0,0,0,0) 128deg)"></i>
<i style="width:140.6px;height:140.6px;left:36px;top:36px;background:conic-gradient(from 26deg,#4244e2 0deg,#4244e2 4deg,#3e48e6 49deg,#3651ef 51.5deg,#2d8bfd 56.5deg,#2d85fc 59deg,#305df7 64deg,#384fed 69deg,#3058f6 79deg,#394eec 91.5deg,#3355f3 96.5deg,#2f69f8 99deg,#2c9dff 101.5deg,#0ed6d0 104deg,#08c262 106.5deg,#08b327 109deg,#08ba43 111.5deg,#0acfa4 114deg,#1dbcf5 116.5deg,#2e7afb 119deg,#3256f4 121.5deg,#384fed 124deg,#384fed 128deg,rgba(0,0,0,0) 128deg)"></i>
<i style="width:138.6px;height:138.6px;left:37px;top:37px;background:conic-gradient(from 26deg,#4244e2 0deg,#4244e2 4deg,#3f47e5 49deg,#384fed 51.5deg,#2f64f8 54deg,#2d87fc 56.5deg,#2d8cfd 59deg,#3355f3 66.5deg,#384fed 71.5deg,#305bf6 79deg,#3b4cea 89deg,#3454f2 96.5deg,#2f66f8 99deg,#2c9aff 101.5deg,#0ed6cf 104deg,#08be54 106.5deg,#08ac0a 109deg,#08b21f 111.5deg,#08ca83 114deg,#16cef0 116.5deg,#2d83fc 119deg,#3157f5 121.5deg,#384fed 124deg,#384fed 128deg,rgba(0,0,0,0) 128deg)"></i>
<i style="width:136.6px;height:136.6px;left:38px;top:38px;background:conic-gradient(from 26deg,#4244e2 0deg,#4244e2 4deg,#4046e4 49deg,#3059f6 54deg,#2e80fb 56.5deg,#2d91fd 59deg,#2d89fc 61.5deg,#3059f6 66.5deg,#3651ef 71.5deg,#305ef7 79deg,#3b4be9 89deg,#3553f1 96.5deg,#3060f7 99deg,#2d92fe 101.5deg,#0fd8dc 104deg,#08c15f 106.5deg,#08ad0c 109deg,#08b017 111.5deg,#08c777 114deg,#12d6ed 116.5deg,#2d88fc 119deg,#3058f6 121.5deg,#3750ee 124deg,#3750ee 128deg,rgba(0,0,0,0) 128deg)"></i>
<i style="width:134.6px;height:134.6px;left:39px;top:39px;background:conic-gradient(from 26deg,#4244e2 0deg,#4244e2 4deg,#4046e4 49deg,#3355f3 54deg,#2e78fa 56.5deg,#2c94fe 59deg,#2c96fe 61.5deg,#2d85fc 64deg,#2f69f8 66.5deg,#3156f4 69deg,#3156f4 74deg,#2f64f8 79deg,#3a4deb 86.5deg,#3651ef 96.5deg,#305af6 99deg,#2d86fc 101.5deg,#14d2ef 104deg,#08c982 106.5deg,#08b52d 109deg,#08b52e 111.5deg,#08ca82 114deg,#13d3ee 116.5deg,#2d88fc 119deg,#3058f6 121.5deg,#3750ee 124deg,#3750ee 128deg,rgba(0,0,0,0) 128deg)"></i>
<i style="width:132.6px;height:132.6px;left:40px;top:40px;background:conic-gradient(from 26deg,#4244e2 0deg,#4244e2 4deg,#4145e3 49deg,#3552f0 54deg,#2f6ff9 56.5deg,#2c95fe 59deg,#27a7fc 61.5deg,#2b9dff 64deg,#2f69f8 69deg,#305cf7 71.5deg,#305ff7 74deg,#2f69f8 76.5deg,#2f6af8 79deg,#3552f0 84deg,#3c4be9 91.5deg,#3156f4 99deg,#2e79fa 101.5deg,#20b7f7 104deg,#0bd2b3 106.5deg,#08c366 109deg,#08c15f 111.5deg,#0acfa3 114deg,#19c5f2 116.5deg,#2e82fc 119deg,#3157f5 121.5deg,#3850ee 124deg,#3850ee 128deg,rgba(0,0,0,0) 128deg)"></i>
<i style="width:130.6px;height:130.6px;left:41px;top:41px;background:conic-gradient(from 26deg,#4244e2 0deg,#4244e2 4deg,#3e48e6 51.5deg,#384fed 54deg,#2f65f8 56.5deg,#2c94fe 59deg,#1fb8f6 61.5deg,#1cc0f4 64deg,#25abfa 66.5deg,#2d8dfd 69deg,#2e78fa 71.5deg,#2e72f9 74deg,#2e73fa 79deg,#3453f1 84deg,#3d4ae8 91.5deg,#3354f2 99deg,#2f6af8 101.5deg,#2c9bff 104deg,#10daeb 106.5deg,#0ad0aa 109deg,#0acf9f 111.5deg,#0ed6d1 114deg,#23b0f9 116.5deg,#2e78fa 119deg,#3256f4 121.5deg,#384fed 124deg,#384fed 128deg,rgba(0,0,0,0) 128deg)"></i>
<i style="width:128.6px;height:128.6px;left:42px;top:42px;background:conic-gradient(from 26deg,#4244e2 0deg,#4244e2 4deg,#3f47e5 51.5deg,#3a4deb 54deg,#305bf6 56.5deg,#2d90fd 59deg,#19c7f2 61.5deg,#0fd8dc 64deg,#0fd8e1 66.5deg,#1ac5f3 69deg,#29a3fd 71.5deg,#2d8ffd 74deg,#2e7efb 79deg,#3354f2 84deg,#3c4ae8 89deg,#3552f0 99deg,#305df7 101.5deg,#2e82fc 104deg,#22b1f9 106.5deg,#10d9ec 109deg,#0fd8e2 111.5deg,#19c7f2 114deg,#2c97fe 116.5deg,#2f6cf9 119deg,#3355f3 121.5deg,#394eec 124deg,#394eec 128deg,rgba(0,0,0,0) 128deg)"></i>
<i style="width:126.6px;height:126.6px;left:43px;top:43px;background:conic-gradient(from 26deg,#4244e2 0deg,#4244e2 4deg,#4046e4 51.5deg,#3256f4 56.5deg,#2d89fc 59deg,#15cfef 61.5deg,#0bd1b0 64deg,#09cd94 66.5deg,#0bd1ac 69deg,#0fd9e3 71.5deg,#1fb9f6 74deg,#2aa0fe 76.5deg,#2d8bfd 79deg,#3255f3 84deg,#3d49e7 91.5deg,#3256f4 101.5deg,#2f6df9 104deg,#25aafb 109deg,#22b3f8 111.5deg,#2aa0fe 114deg,#3060f7 119deg,#3553f1 121.5deg,#394deb 124deg,#394deb 128deg,rgba(0,0,0,0) 128deg)"></i>
<i style="width:124.6px;height:124.6px;left:44px;top:44px;background:conic-gradient(from 26deg,#4244e2 0deg,#4244e2 4deg,#4046e4 51.5deg,#3453f1 56.5deg,#2e7ffb 59deg,#16ccf0 61.5deg,#09ce98 64deg,#08bf55 66.5deg,#08be54 69deg,#08cc8d 71.5deg,#0ed7d5 74deg,#1cbff4 76.5deg,#2c9bff 79deg,#3157f5 84deg,#3c4ae8 89deg,#3453f1 101.5deg,#305cf7 104deg,#2d87fc 109deg,#2d8dfd 111.5deg,#2e82fc 114deg,#3157f5 119deg,#3a4deb 124deg,#3a4deb 128deg,rgba(0,0,0,0) 128deg)"></i>
<i style="width:122.6px;height:122.6px;left:45px;top:45px;background:conic-gradient(from 26deg,#4244e2 0deg,#4244e2 4deg,#3e49e7 54deg,#3651ef 56.5deg,#2e73fa 59deg,#1dbef5 61.5deg,#0acf9e 64deg,#08b93f 66.5deg,#08b11d 69deg,#08bb47 71.5deg,#09ce9a 74deg,#10d9e8 76.5deg,#25acfa 79deg,#2e80fb 81.5deg,#3058f6 84deg,#3c4ae8 89deg,#3255f3 104deg,#2f6cf9 109deg,#2f71f9 111.5deg,#2f6af8 114deg,#305bf6 116.5deg,#3b4cea 124deg,#3b4cea 128deg,rgba(0,0,0,0) 128deg)"></i>
<i style="width:120.6px;height:120.6px;left:46px;top:46px;background:conic-gradient(from 26deg,#4244e2 0deg,#4244e2 4deg,#3e48e6 54deg,#384fed 56.5deg,#2f66f8 59deg,#26a8fb 61.5deg,#0cd4c0 64deg,#08c059 66.5deg,#08b21f 69deg,#08b631 71.5deg,#08c87b 74deg,#0ed6ce 76.5deg,#1fb8f6 79deg,#2d86fc 81.5deg,#305af6 84deg,#3c4ae8 89deg,#305cf7 111.5deg,#3c4be9 124deg,#3c4be9 128deg,rgba(0,0,0,0) 128deg)"></i>
<i style="width:118.6px;height:118.6px;left:47px;top:47px;background:conic-gradient(from 26deg,#4244e2 0deg,#4244e2 4deg,#3f47e5 54deg,#3a4deb 56.5deg,#305bf6 59deg,#2d92fe 61.5deg,#12d7ed 64deg,#09ce98 66.5deg,#08bf57 69deg,#08be51 71.5deg,#08ca84 74deg,#0dd5cb 76.5deg,#1dbcf5 79deg,#2d89fc 81.5deg,#305cf7 84deg,#3c4ae8 89deg,#3652f0 116.5deg,#3d4ae8 124deg,#3d4ae8 128deg,rgba(0,0,0,0) 128deg)"></i>
<i style="width:116.6px;height:116.6px;left:48px;top:48px;background:conic-gradient(from 26deg,#4244e2 0deg,#4244e2 4deg,#3f47e5 54deg,#3256f4 59deg,#2e7ffb 61.5deg,#23b0f9 64deg,#0fd9e3 66.5deg,#0bd1ae 69deg,#09ce9a 71.5deg,#0bd1b0 74deg,#0fd8df 76.5deg,#20b7f7 79deg,#2d88fc 81.5deg,#305cf6 84deg,#384fed 86.5deg,#3e49e7 124deg,#3e49e7 128deg,rgba(0,0,0,0) 128deg)"></i>
<i style="width:114.6px;height:114.6px;left:49px;top:49px;background:conic-gradient(from 26deg,#4244e2 0deg,#4244e2 4deg,#4046e4 54deg,#3454f2 59deg,#2d91fe 64deg,#18c7f2 69deg,#10d9ec 71.5deg,#10daec 74deg,#17caf1 76.5deg,#25acfa 79deg,#2d84fc 81.5deg,#305af6 84deg,#3d4ae8 89deg,#3e48e6 124deg,#3e48e6 128deg,rgba(0,0,0,0) 128deg)"></i>
<i style="width:112.6px;height:112.6px;left:50px;top:50px;background:conic-gradient(from 26deg,#4244e2 0deg,#4244e2 4deg,#4046e4 54deg,#3552f0 59deg,#2e7cfb 64deg,#2aa1fe 71.5deg,#25acfa 74deg,#24adfa 76.5deg,#2b9dff 79deg,#2e7efb 81.5deg,#3058f6 84deg,#3d49e7 89deg,#3f47e5 124deg,#3f47e5 128deg,rgba(0,0,0,0) 128deg)"></i>
<i style="width:110.6px;height:110.6px;left:51px;top:51px;background:conic-gradient(from 26deg,#4244e2 0deg,#4244e2 4deg,#4046e4 54deg,#3651ef 59deg,#2f6ef9 64deg,#2f71f9 69deg,#2c96fe 76.5deg,#2d91fe 79deg,#3157f5 84deg,#3e49e7 89deg,#3f47e5 124deg,#3f47e5 128deg,rgba(0,0,0,0) 128deg)"></i>
<i style="width:108.6px;height:108.6px;left:52px;top:52px;background:conic-gradient(from 26deg,#4244e2 0deg,#4244e2 4deg,#4146e4 54deg,#3058f6 61.5deg,#2f64f8 64deg,#305bf6 69deg,#2f62f7 71.5deg,#2d85fc 76.5deg,#2d86fc 79deg,#3256f4 84deg,#3e48e6 89deg,#4046e4 124deg,#4046e4 128deg,rgba(0,0,0,0) 128deg)"></i>
<i style="width:106.6px;height:106.6px;left:53px;top:53px;background:conic-gradient(from 26deg,#4244e2 0deg,#4244e2 4deg,#4145e3 54deg,#3157f5 61.5deg,#305df7 64deg,#3355f3 69deg,#3256f4 71.5deg,#2e79fa 76.5deg,#2e7efb 79deg,#3355f3 84deg,#3f48e6 89deg,#4046e4 124deg,#4046e4 128deg,rgba(0,0,0,0) 128deg)"></i>
<i style="width:104.6px;height:104.6px;left:54px;top:54px;background:conic-gradient(from 26deg,#4244e2 0deg,#4244e2 4deg,#3e48e6 56.5deg,#3256f4 61.5deg,#3453f1 71.5deg,#305bf6 74deg,#2f71f9 76.5deg,#2e78fa 79deg,#3454f2 84deg,#3f47e5 89deg,#4145e3 124deg,#4145e3 128deg,rgba(0,0,0,0) 128deg)"></i>
<i style="width:102.6px;height:102.6px;left:55px;top:55px;background:conic-gradient(from 26deg,#4244e2 0deg,#4244e2 4deg,#3e48e6 56.5deg,#3157f5 64deg,#3751ef 71.5deg,#3157f5 74deg,#2f6af8 76.5deg,#2e73fa 79deg,#3553f1 84deg,#4145e3 91.5deg,#4145e3 124deg,#4145e3 128deg,rgba(0,0,0,0) 128deg)"></i>
<i style="width:100.6px;height:100.6px;left:56px;top:56px;background:conic-gradient(from 26deg,#4244e2 0deg,#4244e2 4deg,#3e48e6 56.5deg,#3355f3 61.5deg,#384fed 71.5deg,#3355f3 74deg,#2f66f8 76.5deg,#2f70f9 79deg,#3552f0 84deg,#4145e3 91.5deg,#4145e3 124deg,#4145e3 128deg,rgba(0,0,0,0) 128deg)"></i>
<i style="width:98.6px;height:98.6px;left:57px;top:57px;background:conic-gradient(from 26deg,#4244e2 0deg,#4244e2 4deg,#3e48e6 56.5deg,#3354f2 61.5deg,#394eec 71.5deg,#3454f2 74deg,#2f6df9 79deg,#3552f0 84deg,#4046e4 89deg,#4145e3 124deg,#4145e3 128deg,rgba(0,0,0,0) 128deg)"></i>
<i style="width:96.6px;height:96.6px;left:58px;top:58px;background:conic-gradient(from 26deg,#4244e2 0deg,#4244e2 4deg,#3e48e6 56.5deg,#3354f2 61.5deg,#3a4deb 71.5deg,#3553f1 74deg,#2f6cf9 79deg,#3652f0 84deg,#4046e4 89deg,#4244e2 124deg,#4244e2 128deg,rgba(0,0,0,0) 128deg)"></i>
<i style="width:94.6px;height:94.6px;left:59px;top:59px;background:conic-gradient(from 26deg,#4244e2 0deg,#4244e2 4deg,#3e48e6 56.5deg,#3354f2 61.5deg,#3b4cea 71.5deg,#3552f0 74deg,#2f6bf9 79deg,#3c4ae8 86.5deg,#4244e2 124deg,#4244e2 128deg,rgba(0,0,0,0) 128deg)"></i>
<i style="width:92.6px;height:92.6px;left:60px;top:60px;background:conic-gradient(from 26deg,#4244e2 0deg,#4244e2 4deg,#3e48e6 56.5deg,#3354f2 61.5deg,#3b4cea 71.5deg,#3552f0 74deg,#2f6bf9 79deg,#3c4ae8 86.5deg,#4244e2 124deg,#4244e2 128deg,rgba(0,0,0,0) 128deg)"></i>
<i style="width:90.6px;height:90.6px;left:61px;top:61px;background:conic-gradient(from 26deg,#4244e2 0deg,#4244e2 4deg,#3e48e6 56.5deg,#3354f2 61.5deg,#3b4cea 71.5deg,#3552f0 74deg,#2f6cf9 79deg,#3652f0 84deg,#4046e4 89deg,#4244e2 124deg,#4244e2 128deg,rgba(0,0,0,0) 128deg)"></i>
<i style="width:88.6px;height:88.6px;left:62px;top:62px;background:conic-gradient(from 26deg,#4244e2 0deg,#4244e2 4deg,#3e48e6 56.5deg,#3355f3 61.5deg,#3b4be9 69deg,#3552f0 74deg,#2f6df9 79deg,#3652f0 84deg,#4046e4 89deg,#4244e2 124deg,#4244e2 128deg,rgba(0,0,0,0) 128deg)"></i>
<i style="width:86.6px;height:86.6px;left:63px;top:63px;background:conic-gradient(from 26deg,#4244e2 0deg,#4244e2 4deg,#3e48e6 56.5deg,#3355f3 61.5deg,#3b4be9 69deg,#3552f0 74deg,#2f6ff9 79deg,#3552f0 84deg,#4046e4 89deg,#4244e2 124deg,#4244e2 128deg,rgba(0,0,0,0) 128deg)"></i>
<i style="width:84.6px;height:84.6px;left:64px;top:64px;background:conic-gradient(from 26deg,#4244e2 0deg,#4244e2 4deg,#3e48e6 56.5deg,#3355f3 61.5deg,#3256f4 64deg,#3b4be9 69deg,#3553f1 74deg,#2f70f9 79deg,#3552f0 84deg,#4046e4 89deg,#4244e2 124deg,#4244e2 128deg,rgba(0,0,0,0) 128deg)"></i>
<i style="width:82.6px;height:82.6px;left:65px;top:65px;background:conic-gradient(from 26deg,#4244e2 0deg,#4244e2 4deg,#3e48e6 56.5deg,#3355f3 61.5deg,#3b4be9 69deg,#3553f1 74deg,#2e72f9 79deg,#3553f1 84deg,#4046e4 89deg,#4244e2 124deg,#4244e2 128deg,rgba(0,0,0,0) 128deg)"></i>
<i style="width:80.6px;height:80.6px;left:66px;top:66px;background:conic-gradient(from 26deg,#4244e2 0deg,#4244e2 4deg,#3e48e6 56.5deg,#3255f3 61.5deg,#3b4cea 71.5deg,#3453f1 74deg,#2e73fa 79deg,#3553f1 84deg,#4046e4 89deg,#4244e2 124deg,#4244e2 128deg,rgba(0,0,0,0) 128deg)"></i>
<i style="width:78.6px;height:78.6px;left:67px;top:67px;background:conic-gradient(from 26deg,#4244e2 0deg,#4244e2 4deg,#3e48e6 56.5deg,#3255f3 61.5deg,#3a4cea 71.5deg,#3453f1 74deg,#2e75fa 79deg,#3453f1 84deg,#4046e4 89deg,#4244e2 124deg,#4244e2 128deg,rgba(0,0,0,0) 128deg)"></i>
<i style="width:76.6px;height:76.6px;left:68px;top:68px;background:conic-gradient(from 26deg,#4244e2 0deg,#4244e2 4deg,#4145e3 54deg,#3256f4 61.5deg,#3157f5 64deg,#3b4cea 69deg,#3a4cea 71.5deg,#3454f2 74deg,#2e77fa 79deg,#3453f1 84deg,#4046e4 89deg,#4244e2 124deg,#4244e2 128deg,rgba(0,0,0,0) 128deg)"></i>
<i style="width:74.6px;height:74.6px;left:69px;top:69px;background:conic-gradient(from 26deg,#4244e2 0deg,#4244e2 4deg,#4145e3 54deg,#3256f4 61.5deg,#3157f5 64deg,#3b4cea 69deg,#3454f2 74deg,#2f6af8 76.5deg,#2e79fa 79deg,#2f6af8 81.5deg,#3454f2 84deg,#4046e4 89deg,#4244e2 124deg,#4244e2 128deg,rgba(0,0,0,0) 128deg)"></i>
<i style="width:72.6px;height:72.6px;left:70px;top:70px;background:conic-gradient(from 26deg,#4244e2 0deg,#4244e2 4deg,#4145e3 54deg,#3256f4 61.5deg,#3157f5 64deg,#3b4cea 69deg,#3354f2 74deg,#2f6cf9 76.5deg,#2e7bfb 79deg,#2f6cf9 81.5deg,#3454f2 84deg,#4046e4 89deg,#4244e2 124deg,#4244e2 128deg,rgba(0,0,0,0) 128deg)"></i>
<i style="width:70.6px;height:70.6px;left:71px;top:71px;background:conic-gradient(from 26deg,#4244e2 0deg,#4244e2 4deg,#4145e3 54deg,#3156f4 61.5deg,#3b4cea 69deg,#3a4deb 71.5deg,#3355f3 74deg,#2f6df9 76.5deg,#2e7dfb 79deg,#2f6df9 81.5deg,#3354f2 84deg,#4047e5 89deg,#4244e2 124deg,#4244e2 128deg,rgba(0,0,0,0) 128deg)"></i>
<i style="width:68.6px;height:68.6px;left:72px;top:72px;background:conic-gradient(from 26deg,#4244e2 0deg,#4244e2 4deg,#4145e3 54deg,#3157f5 61.5deg,#3057f5 64deg,#3b4cea 69deg,#3a4deb 71.5deg,#3355f3 74deg,#2f6ff9 76.5deg,#2e7ffb 79deg,#2f6ff9 81.5deg,#3355f3 84deg,#4047e5 89deg,#4244e2 124deg,#4244e2 128deg,rgba(0,0,0,0) 128deg)"></i>
<i style="width:66.6px;height:66.6px;left:73px;top:73px;background:conic-gradient(from 26deg,#4244e2 0deg,#4244e2 4deg,#3e49e7 56.5deg,#3157f5 61.5deg,#3058f6 64deg,#3a4cea 69deg,#3a4deb 71.5deg,#3255f3 74deg,#2f71f9 76.5deg,#2e81fb 79deg,#2f71f9 81.5deg,#3355f3 84deg,#4047e5 89deg,#4244e2 124deg,#4244e2 128deg,rgba(0,0,0,0) 128deg)"></i>
<i style="width:64.6px;height:64.6px;left:74px;top:74px;background:conic-gradient(from 26deg,#4244e2 0deg,#4244e2 4deg,#4146e4 54deg,#3157f5 61.5deg,#3058f6 64deg,#3a4deb 69deg,#394eec 71.5deg,#3256f4 74deg,#2e73fa 76.5deg,#2d83fc 79deg,#2e73fa 81.5deg,#3255f3 84deg,#3f47e5 89deg,#4244e2 124deg,#4244e2 128deg,rgba(0,0,0,0) 128deg)"></i>
<i style="width:62.6px;height:62.6px;left:75px;top:75px;background:conic-gradient(from 26deg,#4244e2 0deg,#4244e2 4deg,#3d49e7 56.5deg,#3157f5 61.5deg,#3059f6 64deg,#3a4deb 69deg,#394eec 71.5deg,#3256f4 74deg,#2e75fa 76.5deg,#2d85fc 79deg,#2e75fa 81.5deg,#3256f4 84deg,#3f47e5 89deg,#4244e2 124deg,#4244e2 128deg,rgba(0,0,0,0) 128deg)"></i>
<i style="width:60.6px;height:60.6px;left:76px;top:76px;background:conic-gradient(from 26deg,#4245e3 0deg,#4245e3 4deg,#3d49e7 56.5deg,#3058f6 61.5deg,#305af6 64deg,#3a4deb 69deg,#394eec 71.5deg,#3156f4 74deg,#2e77fa 76.5deg,#2d88fc 79deg,#2e77fa 81.5deg,#3256f4 84deg,#3f47e5 89deg,#4245e3 124deg,#4245e3 128deg,rgba(0,0,0,0) 128deg)"></i>
<i style="width:58.6px;height:58.6px;left:77px;top:77px;background:conic-gradient(from 26deg,#4145e3 0deg,#4145e3 4deg,#3d49e7 56.5deg,#3058f6 61.5deg,#305bf6 64deg,#3a4deb 69deg,#394eec 71.5deg,#3157f5 74deg,#2e79fa 76.5deg,#2d8afd 79deg,#2e79fa 81.5deg,#3156f4 84deg,#3f47e5 89deg,#4145e3 124deg,#4145e3 128deg,rgba(0,0,0,0) 128deg)"></i>
<i style="width:56.6px;height:56.6px;left:78px;top:78px;background:conic-gradient(from 26deg,#4145e3 0deg,#4145e3 4deg,#4046e4 54deg,#3059f6 61.5deg,#305cf7 64deg,#3a4deb 69deg,#394fed 71.5deg,#3157f5 74deg,#2e7bfb 76.5deg,#2d8cfd 79deg,#2e7bfb 81.5deg,#3157f5 84deg,#3f47e5 89deg,#4145e3 124deg,#4145e3 128deg,rgba(0,0,0,0) 128deg)"></i>
<i style="width:54.6px;height:54.6px;left:79px;top:79px;background:conic-gradient(from 26deg,#4145e3 0deg,#4145e3 4deg,#4046e4 54deg,#305af6 61.5deg,#305df7 64deg,#394eec 69deg,#384fed 71.5deg,#3058f6 74deg,#2e7dfb 76.5deg,#2d8ffd 79deg,#2e7dfb 81.5deg,#3157f5 84deg,#3f47e5 89deg,#4145e3 124deg,#4145e3 128deg,rgba(0,0,0,0) 128deg)"></i>
<i style="width:52.6px;height:52.6px;left:80px;top:80px;background:conic-gradient(from 26deg,#4145e3 0deg,#4145e3 4deg,#4046e4 54deg,#305bf6 61.5deg,#305ef7 64deg,#394eec 69deg,#384fed 71.5deg,#3058f6 74deg,#2e7ffb 76.5deg,#2d92fe 79deg,#2e7ffb 81.5deg,#3058f6 84deg,#3f48e6 89deg,#4145e3 124deg,#4145e3 128deg,rgba(0,0,0,0) 128deg)"></i>
<i style="width:50.6px;height:50.6px;left:81px;top:81px;background:conic-gradient(from 26deg,#4145e3 0deg,#4145e3 4deg,#4046e4 54deg,#305cf7 61.5deg,#3060f7 64deg,#394eec 69deg,#384fed 71.5deg,#305af6 74deg,#2e82fc 76.5deg,#2c94fe 79deg,#2e82fc 81.5deg,#3059f6 84deg,#3f48e6 89deg,#4145e3 124deg,#4145e3 128deg,rgba(0,0,0,0) 128deg)"></i>
<i style="width:48.6px;height:48.6px;left:82px;top:82px;background:conic-gradient(from 26deg,#4145e3 0deg,#4145e3 4deg,#4047e5 54deg,#3552f0 59deg,#305ef7 61.5deg,#2f61f7 64deg,#3354f2 66.5deg,#394eec 69deg,#3750ee 71.5deg,#305cf7 74deg,#2d84fc 76.5deg,#2c97fe 79deg,#2d84fc 81.5deg,#305bf6 84deg,#394eec 86.5deg,#4145e3 124deg,#4145e3 128deg,rgba(0,0,0,0) 128deg)"></i>
<i style="width:46.6px;height:46.6px;left:83px;top:83px;background:conic-gradient(from 26deg,#4145e3 0deg,#4145e3 4deg,#4047e5 54deg,#3552f0 59deg,#305ff7 61.5deg,#2f63f7 64deg,#3355f3 66.5deg,#384fed 69deg,#3750ee 71.5deg,#305ef7 74deg,#2d87fc 76.5deg,#2c9aff 79deg,#2d87fc 81.5deg,#305df7 84deg,#394eec 86.5deg,#4145e3 124deg,#4145e3 128deg,rgba(0,0,0,0) 128deg)"></i>
<i style="width:44.6px;height:44.6px;left:84px;top:84px;background:conic-gradient(from 26deg,#4146e4 0deg,#4146e4 4deg,#3f47e5 54deg,#3553f1 59deg,#2f61f7 61.5deg,#2f64f8 64deg,#3355f3 66.5deg,#384fed 69deg,#3751ef 71.5deg,#3060f7 74deg,#2d8afd 76.5deg,#2b9dff 79deg,#2d8afd 81.5deg,#305ff7 84deg,#384fed 86.5deg,#4146e4 124deg,#4146e4 128deg,rgba(0,0,0,0) 128deg)"></i>
<i style="width:42.6px;height:42.6px;left:85px;top:85px;background:conic-gradient(from 26deg,#4046e4 0deg,#4046e4 4deg,#3f47e5 54deg,#3553f1 59deg,#2f62f7 61.5deg,#2f66f8 64deg,#3255f3 66.5deg,#384fed 69deg,#3651ef 71.5deg,#2f62f7 74deg,#2d8dfd 76.5deg,#2aa1fe 79deg,#2d8cfd 81.5deg,#2f61f7 84deg,#384fed 86.5deg,#4046e4 124deg,#4046e4 128deg,rgba(0,0,0,0) 128deg)"></i>
<i style="width:40.6px;height:40.6px;left:86px;top:86px;background:conic-gradient(from 26deg,#4046e4 0deg,#4046e4 4deg,#3f48e6 54deg,#3453f1 59deg,#2f64f8 61.5deg,#2f68f8 64deg,#3256f4 66.5deg,#3750ee 69deg,#3651ef 71.5deg,#2f64f8 74deg,#2d90fd 76.5deg,#28a5fc 79deg,#2d90fd 81.5deg,#2f63f7 84deg,#3850ee 86.5deg,#4046e4 124deg,#4046e4 128deg,rgba(0,0,0,0) 128deg)"></i>
<i style="width:38.6px;height:38.6px;left:87px;top:87px;background:conic-gradient(from 26deg,#4046e4 0deg,#4046e4 4deg,#3f48e6 54deg,#3454f2 59deg,#2f66f8 61.5deg,#2f6af8 64deg,#3156f4 66.5deg,#3750ee 69deg,#3552f0 71.5deg,#2f67f8 74deg,#2d93fe 76.5deg,#26a9fb 79deg,#2d93fe 81.5deg,#2f65f8 84deg,#3750ee 86.5deg,#4046e4 124deg,#4046e4 128deg,rgba(0,0,0,0) 128deg)"></i>
<i style="width:36.6px;height:36.6px;left:88px;top:88px;background:conic-gradient(from 26deg,#3f47e5 0deg,#3f47e5 4deg,#3e48e6 54deg,#3354f2 59deg,#2f68f8 61.5deg,#2f6cf9 64deg,#3157f5 66.5deg,#3751ef 69deg,#3553f1 71.5deg,#2f69f8 74deg,#2c96fe 76.5deg,#24adfa 79deg,#2c96fe 81.5deg,#2f68f8 84deg,#3751ef 86.5deg,#3f47e5 124deg,#3f47e5 128deg,rgba(0,0,0,0) 128deg)"></i>
<i style="width:34.6px;height:34.6px;left:89px;top:89px;background:conic-gradient(from 26deg,#3f47e5 0deg,#3f47e5 4deg,#3e49e7 54deg,#3355f3 59deg,#2f6af8 61.5deg,#2f6ef9 64deg,#3058f6 66.5deg,#3651ef 69deg,#3453f1 71.5deg,#2f6cf9 74deg,#2c9aff 76.5deg,#22b1f8 79deg,#2c9aff 81.5deg,#2f6bf8 84deg,#3651ef 86.5deg,#3f47e5 124deg,#3f47e5 128deg,rgba(0,0,0,0) 128deg)"></i>
<i style="width:32.6px;height:32.6px;left:90px;top:90px;background:conic-gradient(from 26deg,#3f48e6 0deg,#3f48e6 4deg,#3d49e7 54deg,#3256f4 59deg,#2f6df9 61.5deg,#2f71f9 64deg,#3059f6 66.5deg,#3552f0 69deg,#3454f2 71.5deg,#2f6ff9 74deg,#2b9efe 76.5deg,#20b6f7 79deg,#2b9efe 81.5deg,#2f6ef9 84deg,#3652f0 86.5deg,#3f48e6 124deg,#3f48e6 128deg,rgba(0,0,0,0) 128deg)"></i>
<i style="width:30.6px;height:30.6px;left:91px;top:91px;background:conic-gradient(from 26deg,#3e48e6 0deg,#3e48e6 4deg,#3d4ae8 54deg,#3156f4 59deg,#2f70f9 61.5deg,#2e73fa 64deg,#305cf6 66.5deg,#3553f1 69deg,#3355f3 71.5deg,#2e72fa 74deg,#29a3fd 76.5deg,#1ebbf5 79deg,#29a3fd 81.5deg,#2f71f9 84deg,#3553f1 86.5deg,#3e48e6 124deg,#3e48e6 128deg,rgba(0,0,0,0) 128deg)"></i>
<i style="width:28.6px;height:28.6px;left:92px;top:92px;background:conic-gradient(from 26deg,#3d49e7 0deg,#3d49e7 4deg,#3c4be9 54deg,#3157f5 59deg,#2e73fa 61.5deg,#2e77fa 64deg,#305ff7 66.5deg,#3454f2 69deg,#3256f4 71.5deg,#2e76fa 74deg,#27a8fb 76.5deg,#1bc1f4 79deg,#27a8fb 81.5deg,#2e75fa 84deg,#3453f1 86.5deg,#3d49e7 124deg,#3d49e7 128deg,rgba(0,0,0,0) 128deg)"></i>
<i style="width:26.6px;height:26.6px;left:93px;top:93px;background:conic-gradient(from 26deg,#3d4ae8 0deg,#3d4ae8 4deg,#3b4be9 54deg,#3058f6 59deg,#2e76fa 61.5deg,#2e7afb 64deg,#2f62f7 66.5deg,#3354f2 69deg,#3157f5 71.5deg,#2e7afb 74deg,#24adfa 76.5deg,#19c7f2 79deg,#24adfa 81.5deg,#2e79fa 84deg,#3354f2 86.5deg,#3d4ae8 124deg,#3d4ae8 128deg,rgba(0,0,0,0) 128deg)"></i>
<i style="width:24.6px;height:24.6px;left:94px;top:94px;background:conic-gradient(from 26deg,#3c4be9 0deg,#3c4be9 4deg,#3b4cea 54deg,#305cf7 59deg,#2e7afb 61.5deg,#2e7efb 64deg,#2f66f8 66.5deg,#3255f3 69deg,#3058f6 71.5deg,#2e7ffb 74deg,#21b3f8 76.5deg,#16cdf0 79deg,#22b3f8 81.5deg,#2e7efb 84deg,#3256f4 86.5deg,#3b4be9 91.5deg,#3c4be9 124deg,#3c4be9 128deg,rgba(0,0,0,0) 128deg)"></i>
<i style="width:22.6px;height:22.6px;left:95px;top:95px;background:conic-gradient(from 26deg,#3b4cea 0deg,#3b4cea 4deg,#3a4deb 54deg,#3652f0 56.5deg,#3060f7 59deg,#2e7ffb 61.5deg,#2d83fc 64deg,#3157f5 69deg,#305bf6 71.5deg,#2d84fc 74deg,#1fbaf6 76.5deg,#13d4ee 79deg,#1fbaf6 81.5deg,#2d83fc 84deg,#3157f5 86.5deg,#3b4cea 124deg,#3b4cea 128deg,rgba(0,0,0,0) 128deg)"></i>
<i style="width:20.6px;height:20.6px;left:96px;top:96px;background:conic-gradient(from 26deg,#3a4deb 0deg,#3a4deb 4deg,#394eec 54deg,#3553f1 56.5deg,#2f65f8 59deg,#2d83fc 61.5deg,#2d88fc 64deg,#3058f6 69deg,#3060f7 71.5deg,#2d89fd 74deg,#1bc1f4 76.5deg,#10daea 79deg,#1bc1f4 81.5deg,#2d88fc 84deg,#3059f6 86.5deg,#3a4deb 124deg,#3a4deb 128deg,rgba(0,0,0,0) 128deg)"></i>
<i style="width:18.6px;height:18.6px;left:97px;top:97px;background:conic-gradient(from 26deg,#394eec 0deg,#394eec 4deg,#3750ee 54deg,#3354f2 56.5deg,#2f6af8 59deg,#2d89fc 61.5deg,#2d8dfd 64deg,#305df7 69deg,#2f65f8 71.5deg,#2d90fd 74deg,#18c9f1 76.5deg,#0fd8df 79deg,#18c9f1 81.5deg,#2d8efd 84deg,#305ef7 86.5deg,#3552f0 89deg,#394eec 124deg,#394eec 128deg,rgba(0,0,0,0) 128deg)"></i>
<i style="width:16.6px;height:16.6px;left:98px;top:98px;background:conic-gradient(from 26deg,#3750ee 0deg,#3750ee 4deg,#3651ef 54deg,#3256f4 56.5deg,#2d8ffd 61.5deg,#2d93fe 64deg,#2f63f7 69deg,#2f6bf9 71.5deg,#2c97fe 74deg,#14d2ef 76.5deg,#0ed6d3 79deg,#14d1ef 81.5deg,#2c95fe 84deg,#2f64f8 86.5deg,#3454f2 89deg,#3750ee 124deg,#3750ee 128deg,rgba(0,0,0,0) 128deg)"></i>
<i style="width:14.6px;height:14.6px;left:99px;top:99px;background:conic-gradient(from 26deg,#3652f0 0deg,#3652f0 4deg,#3453f1 54deg,#3058f6 56.5deg,#2c96fe 61.5deg,#2c9bff 64deg,#2f6af8 69deg,#2e72f9 71.5deg,#2b9ffe 74deg,#10daea 76.5deg,#0dd4c6 79deg,#10daeb 81.5deg,#2b9dff 84deg,#2f6bf8 86.5deg,#3255f3 89deg,#3652f0 124deg,#3652f0 128deg,rgba(0,0,0,0) 128deg)"></i>
<i style="width:12.6px;height:12.6px;left:100px;top:100px;background:conic-gradient(from 26deg,#3454f2 0deg,#3454f2 4deg,#3255f3 54deg,#305ff7 56.5deg,#2b9ffe 61.5deg,#29a3fd 64deg,#2f71f9 69deg,#2e7afb 71.5deg,#26a8fb 74deg,#0fd8dd 76.5deg,#0cd2b8 79deg,#0fd8dd 81.5deg,#27a7fc 84deg,#2e73fa 86.5deg,#3058f6 89deg,#3454f2 124deg,#3454f2 128deg,rgba(0,0,0,0) 128deg)"></i>
<i style="width:10.6px;height:10.6px;left:101px;top:101px;background:conic-gradient(from 26deg,#3256f4 0deg,#3256f4 4deg,#3058f6 54deg,#2f67f8 56.5deg,#26a9fb 61.5deg,#24adfa 64deg,#2d92fe 66.5deg,#2e7afa 69deg,#2d83fc 71.5deg,#22b3f8 74deg,#0dd5cd 76.5deg,#0ad0a8 79deg,#0dd6cd 81.5deg,#22b2f8 84deg,#2e7cfb 86.5deg,#305ff7 89deg,#3157f5 91.5deg,#3256f4 124deg,#3256f4 128deg,rgba(0,0,0,0) 128deg)"></i>
<i style="width:8.6px;height:8.6px;left:102px;top:102px;background:conic-gradient(from 26deg,#305bf6 0deg,#305bf6 4deg,#305cf7 51.5deg,#2f61f7 54deg,#2f71f9 56.5deg,#2d91fe 59deg,#21b4f8 61.5deg,#1fb9f6 64deg,#2c9cff 66.5deg,#2d84fc 69deg,#2d8efd 71.5deg,#1cbff4 74deg,#0cd3bc 76.5deg,#09cd96 79deg,#0cd3bc 81.5deg,#1dbef5 84deg,#2d86fc 86.5deg,#2f69f8 89deg,#305ef7 91.5deg,#305bf6 124deg,#305bf6 128deg,rgba(0,0,0,0) 128deg)"></i>
<i style="width:6.6px;height:6.6px;left:103px;top:103px;background:conic-gradient(from 26deg,#2f66f8 0deg,#2f66f8 4deg,#2f67f8 51.5deg,#2f6cf9 54deg,#2e7cfb 56.5deg,#2c9dff 59deg,#1bc1f4 61.5deg,#19c6f2 64deg,#26a9fb 66.5deg,#2d8ffd 69deg,#2c99ff 71.5deg,#16cdf0 74deg,#0ad0a8 76.5deg,#08c981 79deg,#0ad0a9 81.5deg,#16ccf0 84deg,#2d92fe 86.5deg,#2e74fa 89deg,#2f69f8 91.5deg,#2f66f8 124deg,#2f66f8 128deg,rgba(0,0,0,0) 128deg)"></i>
<i style="width:4.6px;height:4.6px;left:104px;top:104px;background:conic-gradient(from 26deg,#2e73fa 0deg,#2e73fa 4deg,#2e74fa 51.5deg,#2e78fa 54deg,#2d89fc 56.5deg,#25abfa 59deg,#15d0ef 61.5deg,#12d5ee 64deg,#2c9dff 69deg,#27a8fb 71.5deg,#10d9e8 74deg,#09cd92 76.5deg,#08c46a 79deg,#09cd93 81.5deg,#10daea 84deg,#2b9ffe 86.5deg,#2e81fb 89deg,#2e76fa 91.5deg,#2e73fa 124deg,#2e73fa 128deg,rgba(0,0,0,0) 128deg)"></i>
<i style="width:2.6px;height:2.6px;left:105px;top:105px;background:conic-gradient(from 26deg,#2e81fb 0deg,#2e81fb 4deg,#2e82fc 51.5deg,#2d87fc 54deg,#2c98fe 56.5deg,#1ebcf5 59deg,#0fd9e3 61.5deg,#0fd8dd 64deg,#18c8f2 66.5deg,#24adfa 69deg,#1fb9f6 71.5deg,#0ed6d1 74deg,#08c779 76.5deg,#08bd50 79deg,#08c779 81.5deg,#0ed6d3 84deg,#23b0f9 86.5deg,#2d90fd 89deg,#2d85fc 91.5deg,#2e81fb 124deg,#2e81fb 128deg,rgba(0,0,0,0) 128deg)"></i>
</div>
<div class="f" style="left:198.5px;top:272.7px">
<i style="width:212.6px;height:212.6px;left:0px;top:0px;background:conic-gradient(from 26deg,#d32407 0deg,#d32407 4deg,#d52606 14deg,#e02e01 16.5deg,#eb4d00 21.5deg,#f87c00 26.5deg,#fd8b00 29deg,#fe9000 31.5deg,#fda400 34deg,#f6dd00 39deg,#f5eb00 41.5deg,#eced00 44deg,#89cd00 46.5deg,#29b405 49deg,#08bc4b 51.5deg,#0cd3be 54deg,#21b4f8 56.5deg,#2aa1fe 59deg,#2b9efe 66.5deg,#20b6f7 71.5deg,#0acfa0 74deg,#08b429 76.5deg,#08ac09 79deg,#08ac09 81.5deg,#08b220 84deg,#08be54 86.5deg,#08c981 89deg,#08cc8d 91.5deg,#08cd90 94deg,#0bd1b1 96.5deg,#0fd8e1 99deg,#10daea 101.5deg,#10daec 109deg,#14d1ef 111.5deg,#14d1ef 114deg,#0cd2b7 116.5deg,#08c05c 119deg,#60c101 121.5deg,#fca900 124deg,#fca900 128deg,rgba(0,0,0,0) 128deg)"></i>
<i style="width:210.6px;height:210.6px;left:1px;top:1px;background:conic-gradient(from 26deg,#d32407 0deg,#d32407 4deg,#d52606 14deg,#e53c00 19deg,#f16200 24deg,#f87a00 26.5deg,#fc8900 29deg,#fe8f00 31.5deg,#fda400 34deg,#f6dd00 39deg,#f5ec00 41.5deg,#e8ec00 44deg,#87cc00 46.5deg,#29b405 49deg,#08bc4a 51.5deg,#0cd3bc 54deg,#21b5f7 56.5deg,#2aa1fd 59deg,#2b9efe 66.5deg,#20b6f7 71.5deg,#0acfa0 74deg,#08b429 76.5deg,#08ac08 79deg,#09ac08 81.5deg,#08b11d 84deg,#08be51 86.5deg,#08c87d 89deg,#08cc8c 91.5deg,#08cd90 94deg,#0bd1b1 96.5deg,#0fd8e1 99deg,#10daea 101.5deg,#10daec 109deg,#14d1ef 111.5deg,#14d2ee 114deg,#0bd2b4 116.5deg,#08bf57 119deg,#62c101 121.5deg,#fcaa00 124deg,#fcaa00 128deg,rgba(0,0,0,0) 128deg)"></i>
<i style="width:208.6px;height:208.6px;left:2px;top:2px;background:conic-gradient(from 26deg,#d32407 0deg,#d32407 4deg,#d52606 14deg,#e53a00 19deg,#f05e00 24deg,#f77600 26.5deg,#fc8700 29deg,#fe8f00 31.5deg,#fda400 34deg,#f6dd00 39deg,#f4ed00 41.5deg,#e1ea00 44deg,#29b405 49deg,#08bc48 51.5deg,#0cd3b9 54deg,#20b6f7 56.5deg,#29a2fd 59deg,#2b9efe 66.5deg,#27a6fc 69deg,#21b5f7 71.5deg,#0acfa0 74deg,#08b428 76.5deg,#0aac08 79deg,#0cad08 81.5deg,#08b01a 84deg,#08bd4c 86.5deg,#08c777 89deg,#08cc8a 91.5deg,#08cd90 94deg,#0bd1b1 96.5deg,#0fd8e1 99deg,#10daea 101.5deg,#10daec 109deg,#14d2ee 111.5deg,#13d4ee 114deg,#0bd1af 116.5deg,#08be50 119deg,#65c201 121.5deg,#fcac00 124deg,#fcac00 128deg,rgba(0,0,0,0) 128deg)"></i>
<i style="width:206.6px;height:206.6px;left:3px;top:3px;background:conic-gradient(from 26deg,#d32407 0deg,#d32407 4deg,#d42606 14deg,#e43700 19deg,#e84500 21.5deg,#f67200 26.5deg,#fe8e00 31.5deg,#f6dd00 39deg,#f4ee00 41.5deg,#d9e700 44deg,#29b405 49deg,#08bb46 51.5deg,#0bd2b6 54deg,#20b7f7 56.5deg,#29a3fd 59deg,#2b9efe 66.5deg,#21b4f8 71.5deg,#0acfa0 74deg,#08b428 76.5deg,#0dad08 79deg,#10ae07 81.5deg,#08af16 84deg,#08bb46 86.5deg,#08c56f 89deg,#08cb88 91.5deg,#08cd90 94deg,#0bd1b1 96.5deg,#0fd8e1 99deg,#10daea 101.5deg,#10daec 109deg,#13d3ee 111.5deg,#12d6ed 114deg,#0ad0a8 116.5deg,#08bb47 119deg,#6ac300 121.5deg,#fcae00 124deg,#fcae00 128deg,rgba(0,0,0,0) 128deg)"></i>
<i style="width:204.6px;height:204.6px;left:4px;top:4px;background:conic-gradient(from 26deg,#d32407 0deg,#d32407 4deg,#d42506 14deg,#e33400 19deg,#e74100 21.5deg,#f97f00 29deg,#fe8d00 31.5deg,#f6dd00 39deg,#f4f000 41.5deg,#cee400 44deg,#80ca00 46.5deg,#29b405 49deg,#08ba43 51.5deg,#0bd1b1 54deg,#1fbaf6 56.5deg,#28a5fc 59deg,#2b9efe 61.5deg,#2b9efe 66.5deg,#28a5fc 69deg,#21b3f8 71.5deg,#0acfa0 74deg,#08b428 76.5deg,#10ae07 79deg,#15af07 81.5deg,#08ae11 84deg,#08b93f 86.5deg,#08ca85 91.5deg,#08cd90 94deg,#0bd1b1 96.5deg,#0fd8e1 99deg,#10daea 101.5deg,#10daeb 109deg,#13d4ee 111.5deg,#11d8ec 114deg,#0acfa0 116.5deg,#08b93c 119deg,#71c500 121.5deg,#fbb100 124deg,#fbb100 128deg,rgba(0,0,0,0) 128deg)"></i>
<i style="width:202.6px;height:202.6px;left:5px;top:5px;background:conic-gradient(from 26deg,#d32407 0deg,#d32407 4deg,#d42506 14deg,#e23100 19deg,#e53c00 21.5deg,#fd8c00 31.5deg,#f6de00 39deg,#eeee00 41.5deg,#c2e000 44deg,#7cc900 46.5deg,#29b405 49deg,#08b93f 51.5deg,#0bd1ac 54deg,#1ebcf5 56.5deg,#27a6fc 59deg,#2b9efe 61.5deg,#2b9efe 66.5deg,#29a4fd 69deg,#22b2f8 71.5deg,#0acfa0 74deg,#08b427 76.5deg,#13af07 79deg,#1bb007 81.5deg,#08ad0b 84deg,#08b736 86.5deg,#08ca82 91.5deg,#08cd90 94deg,#0bd1b1 96.5deg,#0fd8e1 99deg,#10daea 101.5deg,#10daeb 109deg,#12d5ee 111.5deg,#10daea 114deg,#09cd96 116.5deg,#08b630 119deg,#79c800 121.5deg,#fbb400 124deg,#fbb400 128deg,rgba(0,0,0,0) 128deg)"></i>
<i style="width:200.6px;height:200.6px;left:6px;top:6px;background:conic-gradient(from 26deg,#d32407 0deg,#d32407 4deg,#d42506 14deg,#e43600 21.5deg,#fd8b00 31.5deg,#fabf00 36.5deg,#f6de00 39deg,#e8ec00 41.5deg,#b6db00 44deg,#78c700 46.5deg,#29b405 49deg,#08b83b 51.5deg,#0ad0a6 54deg,#1cbff4 56.5deg,#27a8fb 59deg,#2b9ffe 61.5deg,#2b9efe 66.5deg,#29a3fd 69deg,#22b1f8 71.5deg,#0acfa0 74deg,#08b427 76.5deg,#17b007 79deg,#21b206 81.5deg,#0cad08 84deg,#08bd4e 89deg,#08c97e 91.5deg,#08cd90 94deg,#0bd1b1 96.5deg,#0fd8e0 99deg,#10dae9 101.5deg,#12d6ed 111.5deg,#0fd9e6 114deg,#08cc8c 116.5deg,#08b222 119deg,#83cb00 121.5deg,#fbb800 124deg,#fbb800 128deg,rgba(0,0,0,0) 128deg)"></i>
<i style="width:198.6px;height:198.6px;left:7px;top:7px;background:conic-gradient(from 26deg,#d32407 0deg,#d32407 4deg,#d32506 14deg,#e23100 21.5deg,#fd8a00 31.5deg,#f6de00 39deg,#e2ea00 41.5deg,#73c600 46.5deg,#29b405 49deg,#08b838 51.5deg,#0acfa0 54deg,#1bc1f4 56.5deg,#26a9fb 59deg,#2b9ffe 61.5deg,#29a2fd 69deg,#23b0f9 71.5deg,#0acfa0 74deg,#08b327 76.5deg,#1bb007 79deg,#26b306 81.5deg,#12ae07 84deg,#08b325 86.5deg,#08ba43 89deg,#08c87a 91.5deg,#08cc8f 94deg,#0bd1b0 96.5deg,#0fd8df 99deg,#10dae9 101.5deg,#11d8ed 111.5deg,#0fd9e2 114deg,#08ca82 116.5deg,#08af15 119deg,#8cce00 121.5deg,#fabb00 124deg,#fabb00 128deg,rgba(0,0,0,0) 128deg)"></i>
<i style="width:196.6px;height:196.6px;left:8px;top:8px;background:conic-gradient(from 26deg,#d32407 0deg,#d32407 4deg,#da2a04 19deg,#df2e01 21.5deg,#ed5400 26.5deg,#fc8900 31.5deg,#f6dd00 39deg,#dce800 41.5deg,#9dd300 44deg,#6dc400 46.5deg,#28b405 49deg,#08b733 51.5deg,#09ce9a 54deg,#1ac4f3 56.5deg,#25abfa 59deg,#2b9ffe 61.5deg,#2aa1fe 69deg,#23aff9 71.5deg,#0acfa0 74deg,#08b326 76.5deg,#1eb106 79deg,#2cb405 81.5deg,#18b007 84deg,#08b11d 86.5deg,#08b838 89deg,#08c776 91.5deg,#08cc8f 94deg,#0bd1b0 96.5deg,#0fd8de 99deg,#10d9e8 101.5deg,#11d9ec 111.5deg,#0fd8de 114deg,#08c779 116.5deg,#08ac09 119deg,#94d000 121.5deg,#fabe00 124deg,#fabe00 128deg,rgba(0,0,0,0) 128deg)"></i>
<i style="width:194.6px;height:194.6px;left:9px;top:9px;background:conic-gradient(from 26deg,#d32407 0deg,#d32407 4deg,#db2b03 21.5deg,#e53900 24deg,#f36900 29deg,#fc8800 31.5deg,#fabd00 36.5deg,#f6dd00 39deg,#d7e700 41.5deg,#93d000 44deg,#68c300 46.5deg,#27b306 49deg,#08b62f 51.5deg,#09cd94 54deg,#19c7f2 56.5deg,#25acfa 59deg,#2b9ffe 61.5deg,#2aa0fe 69deg,#24aef9 71.5deg,#0acfa0 74deg,#08b326 76.5deg,#21b206 79deg,#30b605 81.5deg,#1db106 84deg,#08af16 86.5deg,#08b52e 89deg,#08c672 91.5deg,#0bd1ae 96.5deg,#0fd7db 99deg,#0fd9e6 101.5deg,#10daec 111.5deg,#0fd8db 114deg,#08c571 116.5deg,#11ae07 119deg,#9bd300 121.5deg,#fac100 124deg,#fac100 128deg,rgba(0,0,0,0) 128deg)"></i>
<i style="width:192.6px;height:192.6px;left:10px;top:10px;background:conic-gradient(from 26deg,#d32407 0deg,#d32407 4deg,#d92904 21.5deg,#e43500 24deg,#f26600 29deg,#fc8700 31.5deg,#fabb00 36.5deg,#f6dc00 39deg,#d3e500 41.5deg,#8acd00 44deg,#62c101 46.5deg,#25b306 49deg,#08b52b 51.5deg,#08cc8d 54deg,#18c9f1 56.5deg,#24adfa 59deg,#2b9ffe 61.5deg,#2b9ffe 69deg,#24aefa 71.5deg,#0acfa0 74deg,#08b326 76.5deg,#24b306 79deg,#34b605 81.5deg,#21b206 84deg,#08ae10 86.5deg,#08b326 89deg,#08c46d 91.5deg,#0bd1ac 96.5deg,#0ed7d6 99deg,#0fd9e3 101.5deg,#10daeb 111.5deg,#0ed7d8 114deg,#08c46a 116.5deg,#1ab007 119deg,#a1d500 121.5deg,#f9c300 124deg,#f9c300 128deg,rgba(0,0,0,0) 128deg)"></i>
<i style="width:190.6px;height:190.6px;left:11px;top:11px;background:conic-gradient(from 26deg,#d32407 0deg,#d32407 4deg,#d72705 21.5deg,#e33300 24deg,#f16400 29deg,#fb8600 31.5deg,#fab900 36.5deg,#f6dc00 39deg,#d1e400 41.5deg,#83cb00 44deg,#5bc001 46.5deg,#22b206 49deg,#08b427 51.5deg,#08cb87 54deg,#16ccf0 56.5deg,#24aef9 59deg,#2b9ffe 61.5deg,#2b9ffe 69deg,#24adfa 71.5deg,#0acfa0 74deg,#08b326 76.5deg,#25b306 79deg,#37b704 81.5deg,#24b306 84deg,#08ad0c 86.5deg,#08b220 89deg,#08c368 91.5deg,#0ad0aa 96.5deg,#0ed6d1 99deg,#0fd8e0 101.5deg,#10daea 106.5deg,#10daeb 111.5deg,#0ed7d7 114deg,#08c366 116.5deg,#20b206 119deg,#a5d600 121.5deg,#f9c400 124deg,#f9c400 128deg,rgba(0,0,0,0) 128deg)"></i>
<i style="width:188.6px;height:188.6px;left:12px;top:12px;background:conic-gradient(from 26deg,#d32407 0deg,#d32407 4deg,#d52606 21.5deg,#e23100 24deg,#f16300 29deg,#fb8500 31.5deg,#fbb500 36.5deg,#f7db00 39deg,#cfe400 41.5deg,#7ec900 44deg,#53be02 46.5deg,#1fb106 49deg,#08b323 51.5deg,#08c981 54deg,#15cef0 56.5deg,#23aff9 59deg,#2b9ffe 61.5deg,#2b9efe 69deg,#24adfa 71.5deg,#0acfa0 74deg,#08b326 76.5deg,#26b306 79deg,#38b704 81.5deg,#26b306 84deg,#08ac0a 86.5deg,#08b11c 89deg,#08c263 91.5deg,#08cb88 94deg,#0dd5ca 99deg,#0fd8dc 101.5deg,#10d9e7 104deg,#10daea 111.5deg,#0ed7d5 114deg,#08c263 116.5deg,#24b306 119deg,#a8d700 121.5deg,#f9c500 124deg,#f9c500 128deg,rgba(0,0,0,0) 128deg)"></i>
<i style="width:186.6px;height:186.6px;left:13px;top:13px;background:conic-gradient(from 26deg,#d32407 0deg,#d32407 4deg,#d52606 21.5deg,#e23000 24deg,#f16200 29deg,#fb8500 31.5deg,#fbb200 36.5deg,#f7d900 39deg,#cee400 41.5deg,#7ac800 44deg,#1bb007 49deg,#08b220 51.5deg,#08c87a 54deg,#14d1ef 56.5deg,#23b0f9 59deg,#2b9ffe 61.5deg,#2b9efe 69deg,#24adfa 71.5deg,#0acfa0 74deg,#08b326 76.5deg,#27b306 79deg,#39b804 81.5deg,#27b306 84deg,#08ac08 86.5deg,#08b01a 89deg,#08c15d 91.5deg,#08ca85 94deg,#0cd4c1 99deg,#0ed7d7 101.5deg,#10d9e6 104deg,#10daea 111.5deg,#0ed7d5 114deg,#08c261 116.5deg,#26b306 119deg,#a9d800 121.5deg,#f9c600 124deg,#f9c600 128deg,rgba(0,0,0,0) 128deg)"></i>
<i style="width:184.6px;height:184.6px;left:14px;top:14px;background:conic-gradient(from 26deg,#d32407 0deg,#d32407 4deg,#d42606 21.5deg,#e13000 24deg,#e84500 26.5deg,#fb8400 31.5deg,#fcae00 36.5deg,#f7d800 39deg,#cee300 41.5deg,#77c700 44deg,#42ba03 46.5deg,#17b007 49deg,#08b11c 51.5deg,#08c674 54deg,#13d3ee 56.5deg,#23b0f9 59deg,#2b9ffe 61.5deg,#2b9efe 69deg,#24adfa 71.5deg,#0acfa1 74deg,#08b327 76.5deg,#27b306 79deg,#39b804 81.5deg,#27b306 84deg,#08ac08 86.5deg,#08b018 89deg,#08bf57 91.5deg,#08ca82 94deg,#0ed6d1 101.5deg,#0fd9e5 104deg,#10daea 111.5deg,#0ed7d4 114deg,#08c160 116.5deg,#28b405 119deg,#abd800 121.5deg,#f9c600 124deg,#f9c600 128deg,rgba(0,0,0,0) 128deg)"></i>
<i style="width:182.6px;height:182.6px;left:15px;top:15px;background:conic-gradient(from 26deg,#d32407 0deg,#d32407 4deg,#d42506 21.5deg,#e12f00 24deg,#f16100 29deg,#fb8300 31.5deg,#ff9600 34deg,#fcab00 36.5deg,#f7d700 39deg,#cee300 41.5deg,#74c600 44deg,#3ab804 46.5deg,#13af07 49deg,#08b018 51.5deg,#08c56e 54deg,#12d5ed 56.5deg,#23b0f9 59deg,#2b9ffe 61.5deg,#2b9efe 69deg,#24adfa 71.5deg,#0acfa1 74deg,#08b428 76.5deg,#26b306 79deg,#39b704 81.5deg,#27b306 84deg,#09ac08 86.5deg,#08af16 89deg,#08be52 91.5deg,#08c97e 94deg,#0fd9e3 104deg,#10daea 111.5deg,#0ed7d4 114deg,#08c15f 116.5deg,#2ab405 119deg,#add900 121.5deg,#f9c500 124deg,#f9c500 128deg,rgba(0,0,0,0) 128deg)"></i>
<i style="width:180.6px;height:180.6px;left:16px;top:16px;background:conic-gradient(from 26deg,#d32407 0deg,#d32407 4deg,#d42506 21.5deg,#e12f00 24deg,#f06100 29deg,#fa8200 31.5deg,#ff9300 34deg,#fda700 36.5deg,#f7d600 39deg,#cee300 41.5deg,#72c500 44deg,#32b605 46.5deg,#0fae07 49deg,#08af15 51.5deg,#08c469 54deg,#11d7ed 56.5deg,#23b1f9 59deg,#2b9ffe 61.5deg,#2b9efe 69deg,#24adfa 71.5deg,#0acfa3 74deg,#08b42b 76.5deg,#24b306 79deg,#38b704 81.5deg,#26b306 84deg,#09ac08 86.5deg,#08af15 89deg,#08bc4c 91.5deg,#08c779 94deg,#08cd92 96.5deg,#0ad0a4 99deg,#0fd8e1 104deg,#10daea 111.5deg,#0ed6d4 114deg,#08c15d 116.5deg,#2cb505 119deg,#b0da00 121.5deg,#f9c400 124deg,#f9c400 128deg,rgba(0,0,0,0) 128deg)"></i>
<i style="width:178.6px;height:178.6px;left:17px;top:17px;background:conic-gradient(from 26deg,#d32407 0deg,#d32407 4deg,#d42506 21.5deg,#e12f00 24deg,#f06000 29deg,#fa8000 31.5deg,#ff9000 34deg,#fda400 36.5deg,#f7d500 39deg,#cee300 41.5deg,#71c500 44deg,#2cb405 46.5deg,#0cad08 49deg,#08ae12 51.5deg,#08c265 54deg,#11d9ec 56.5deg,#23b1f9 59deg,#2b9ffe 61.5deg,#2b9ffe 69deg,#24aef9 71.5deg,#0ad0a5 74deg,#08b52f 76.5deg,#21b206 79deg,#36b704 81.5deg,#25b306 84deg,#09ac08 86.5deg,#08af14 89deg,#08c672 94deg,#08cb8a 96.5deg,#09ce99 99deg,#0fd8dd 104deg,#10dae9 109deg,#10daea 111.5deg,#0ed6d4 114deg,#08c05b 116.5deg,#30b505 119deg,#b6db00 121.5deg,#f9c300 124deg,#f9c300 128deg,rgba(0,0,0,0) 128deg)"></i>
<i style="width:176.6px;height:176.6px;left:18px;top:18px;background:conic-gradient(from 26deg,#d32407 0deg,#d32407 4deg,#d42506 21.5deg,#e12f00 24deg,#f05f00 29deg,#f97d00 31.5deg,#fda200 36.5deg,#f7d400 39deg,#cee300 41.5deg,#6fc400 44deg,#27b306 46.5deg,#0aac08 49deg,#08ae10 51.5deg,#08c261 54deg,#10daec 56.5deg,#22b1f8 59deg,#2b9ffe 61.5deg,#2b9ffe 69deg,#23aff9 71.5deg,#0ad0a9 74deg,#08b736 76.5deg,#1cb106 79deg,#33b605 81.5deg,#23b206 84deg,#08ac08 86.5deg,#08af13 89deg,#08c46b 94deg,#08c980 96.5deg,#08cc8d 99deg,#0ed7d7 104deg,#10dae9 109deg,#10daea 111.5deg,#0ed6d3 114deg,#08bf57 116.5deg,#36b704 119deg,#bede00 121.5deg,#fac000 124deg,#fac000 128deg,rgba(0,0,0,0) 128deg)"></i>
<i style="width:174.6px;height:174.6px;left:19px;top:19px;background:conic-gradient(from 26deg,#d32407 0deg,#d32407 4deg,#d42506 21.5deg,#e12f00 24deg,#f87900 31.5deg,#fc8900 34deg,#fda000 36.5deg,#f7d300 39deg,#cee300 41.5deg,#6ec400 44deg,#23b206 46.5deg,#08ac08 49deg,#08ae0e 51.5deg,#08c15f 54deg,#10daeb 56.5deg,#22b1f8 59deg,#2b9ffe 61.5deg,#2aa0fe 69deg,#22b1f9 71.5deg,#0bd1ad 74deg,#08b93f 76.5deg,#16af07 79deg,#2fb505 81.5deg,#21b206 84deg,#08ac08 86.5deg,#08ae12 89deg,#08c261 94deg,#08c674 96.5deg,#08c97f 99deg,#0ed6d0 104deg,#0fd8e0 106.5deg,#10daea 111.5deg,#0ed6d2 114deg,#08be52 116.5deg,#3eb904 119deg,#c8e200 121.5deg,#fabd00 124deg,#fabd00 128deg,rgba(0,0,0,0) 128deg)"></i>
<i style="width:172.6px;height:172.6px;left:20px;top:20px;background:conic-gradient(from 26deg,#d32407 0deg,#d32407 4deg,#d42506 21.5deg,#e12f00 24deg,#f67500 31.5deg,#fb8500 34deg,#fd9f00 36.5deg,#f7d300 39deg,#cee300 41.5deg,#6ec400 44deg,#21b206 46.5deg,#08ac09 49deg,#08ad0d 51.5deg,#08c15d 54deg,#10daea 56.5deg,#22b2f8 59deg,#2b9ffe 61.5deg,#2aa1fd 69deg,#22b3f8 71.5deg,#0bd2b3 74deg,#08bc4a 76.5deg,#0ead08 79deg,#2ab405 81.5deg,#1db106 84deg,#08ac08 86.5deg,#08ae11 89deg,#08bf56 94deg,#08c367 96.5deg,#08c571 99deg,#0dd5c8 104deg,#0fd8dc 106.5deg,#10d9e7 109deg,#10dae9 111.5deg,#0ed6d1 114deg,#08bc4c 116.5deg,#48bb03 119deg,#d5e600 121.5deg,#fab900 124deg,#fab900 128deg,rgba(0,0,0,0) 128deg)"></i>
<i style="width:170.6px;height:170.6px;left:21px;top:21px;background:conic-gradient(from 26deg,#d32407 0deg,#d32407 4deg,#d42506 21.5deg,#e12f00 24deg,#fa8200 34deg,#fe9e00 36.5deg,#f7d300 39deg,#cee400 41.5deg,#6ec400 44deg,#20b206 46.5deg,#08ac09 49deg,#08ad0d 51.5deg,#08c05c 54deg,#10dae9 56.5deg,#22b2f8 59deg,#2a9ffe 61.5deg,#29a2fd 69deg,#21b5f7 71.5deg,#0cd3ba 74deg,#08bf56 76.5deg,#08ad0b 79deg,#24b306 81.5deg,#1ab007 84deg,#08ac08 86.5deg,#08ae10 89deg,#08bc4a 94deg,#08c262 99deg,#0cd3be 104deg,#0ed7d7 106.5deg,#10d9e6 109deg,#10dae9 111.5deg,#0ed6d0 114deg,#08bb45 116.5deg,#54be02 119deg,#e5eb00 121.5deg,#fbb400 124deg,#fbb400 128deg,rgba(0,0,0,0) 128deg)"></i>
<i style="width:168.6px;height:168.6px;left:22px;top:22px;background:conic-gradient(from 26deg,#d32407 0deg,#d32407 4deg,#d42506 21.5deg,#e12f00 24deg,#f97e00 34deg,#fe9e00 36.5deg,#f7d200 39deg,#cfe400 41.5deg,#6fc400 44deg,#1fb206 46.5deg,#08ac0a 49deg,#08ad0d 51.5deg,#08c05b 54deg,#10d9e8 56.5deg,#22b2f8 59deg,#2aa0fe 61.5deg,#2b9efe 66.5deg,#29a4fd 69deg,#1fb8f6 71.5deg,#0cd4c1 74deg,#08c264 76.5deg,#08af14 79deg,#1db106 81.5deg,#16af07 84deg,#08ac09 86.5deg,#08ae0f 89deg,#08b93e 94deg,#08be53 99deg,#0bd2b4 104deg,#0ed6d1 106.5deg,#0fd9e5 109deg,#10d9e9 111.5deg,#0dd6ce 114deg,#08b93d 116.5deg,#61c101 119deg,#f4f000 121.5deg,#fcaf00 124deg,#fcaf00 128deg,rgba(0,0,0,0) 128deg)"></i>
<i style="width:166.6px;height:166.6px;left:23px;top:23px;background:conic-gradient(from 26deg,#d32407 0deg,#d32407 4deg,#d42506 21.5deg,#e12f00 24deg,#ed5700 29deg,#f87b00 34deg,#fe9d00 36.5deg,#f8d200 39deg,#d1e400 41.5deg,#70c500 44deg,#20b206 46.5deg,#08ac09 49deg,#08ad0c 51.5deg,#08c05b 54deg,#10d9e7 56.5deg,#22b3f8 59deg,#2aa0fe 61.5deg,#2b9ffe 66.5deg,#28a5fc 69deg,#1ebbf6 71.5deg,#0dd5c8 74deg,#08b11e 79deg,#17af07 81.5deg,#08ac09 86.5deg,#08ad0e 89deg,#08b632 94deg,#08bb44 99deg,#0ad0a9 104deg,#0dd5cb 106.5deg,#0fd9e3 109deg,#10d9e7 111.5deg,#0dd5cb 114deg,#08b734 116.5deg,#6ec400 119deg,#f5e900 121.5deg,#fcaa00 124deg,#fcaa00 128deg,rgba(0,0,0,0) 128deg)"></i>
<i style="width:164.6px;height:164.6px;left:24px;top:24px;background:conic-gradient(from 26deg,#d32407 0deg,#d32407 4deg,#d42506 21.5deg,#e12f01 24deg,#ed5400 29deg,#f06100 31.5deg,#f77800 34deg,#fe9d00 36.5deg,#f8d100 39deg,#d4e500 41.5deg,#74c600 44deg,#23b206 46.5deg,#08ac08 49deg,#08ad0c 51.5deg,#08c05a 54deg,#0fd9e6 56.5deg,#21b4f8 59deg,#2aa1fd 61.5deg,#2aa0fe 66.5deg,#27a7fc 69deg,#1dbdf5 71.5deg,#0ed6ce 74deg,#08c97f 76.5deg,#08b429 79deg,#10ae07 81.5deg,#08ad0d 89deg,#08b427 94deg,#08b737 99deg,#09cf9e 104deg,#0dd4c3 106.5deg,#0fd8e0 109deg,#0fd9e4 111.5deg,#0dd5c7 114deg,#08b52b 116.5deg,#80ca00 119deg,#f6e300 121.5deg,#fda600 124deg,#fda600 128deg,rgba(0,0,0,0) 128deg)"></i>
<i style="width:162.6px;height:162.6px;left:25px;top:25px;background:conic-gradient(from 26deg,#d32407 0deg,#d32407 4deg,#d42506 21.5deg,#e02f01 24deg,#ec5100 29deg,#ef5d00 31.5deg,#f77500 34deg,#fe9c00 36.5deg,#f8d000 39deg,#d9e700 41.5deg,#79c800 44deg,#26b306 46.5deg,#09ac08 49deg,#08ad0c 51.5deg,#08c059 54deg,#0fd9e3 56.5deg,#21b5f7 59deg,#29a2fd 61.5deg,#2aa1fd 66.5deg,#26aafb 69deg,#1cc0f4 71.5deg,#0ed7d4 74deg,#08cc8c 76.5deg,#08b734 79deg,#09ac08 81.5deg,#08ad0c 89deg,#08b11e 94deg,#08b52b 99deg,#08cd92 104deg,#0cd3bb 106.5deg,#0fd8dc 109deg,#0fd8e0 111.5deg,#0cd4c0 114deg,#08b221 116.5deg,#93d000 119deg,#f6dc00 121.5deg,#fda200 124deg,#fda200 128deg,rgba(0,0,0,0) 128deg)"></i>
<i style="width:160.6px;height:160.6px;left:26px;top:26px;background:conic-gradient(from 26deg,#d32407 0deg,#d32407 4deg,#d42506 21.5deg,#df2e01 24deg,#eb4e00 29deg,#ee5900 31.5deg,#f67300 34deg,#fe9c00 36.5deg,#f8ce00 39deg,#e1ea00 41.5deg,#81ca00 44deg,#2cb405 46.5deg,#0bad08 49deg,#08ad0c 51.5deg,#08bf57 54deg,#0fd8de 56.5deg,#1fb8f6 59deg,#28a5fc 61.5deg,#29a3fd 66.5deg,#24adfa 69deg,#1ac3f3 71.5deg,#0ed7d9 74deg,#09ce98 76.5deg,#08ba40 79deg,#08ae0f 81.5deg,#09ac08 84deg,#08b019 96.5deg,#08b222 99deg,#08bd50 101.5deg,#08ca85 104deg,#0bd2b2 106.5deg,#0ed7d6 109deg,#0ed7d9 111.5deg,#0cd2b8 114deg,#08af15 116.5deg,#a8d700 119deg,#f7d500 121.5deg,#fe9e00 124deg,#fe9e00 128deg,rgba(0,0,0,0) 128deg)"></i>
<i style="width:158.6px;height:158.6px;left:27px;top:27px;background:conic-gradient(from 26deg,#d32407 0deg,#d32407 4deg,#d42506 21.5deg,#de2d02 24deg,#ed5600 31.5deg,#f57200 34deg,#fe9b00 36.5deg,#f8cb00 39deg,#eced00 41.5deg,#8cce00 44deg,#34b605 46.5deg,#0ead08 49deg,#08ad0c 51.5deg,#08be54 54deg,#0ed7d8 56.5deg,#1ebcf5 59deg,#27a8fb 61.5deg,#27a6fc 66.5deg,#23b0f9 69deg,#19c6f2 71.5deg,#0fd8dd 74deg,#0acfa3 76.5deg,#08bd4d 79deg,#08af16 81.5deg,#08ac09 84deg,#08af13 96.5deg,#08b11b 99deg,#08bb45 101.5deg,#0ad0a7 106.5deg,#0dd6ce 109deg,#0ed6cf 111.5deg,#0bd1ac 114deg,#08ac08 116.5deg,#bdde00 119deg,#f8cd00 121.5deg,#fe9b00 124deg,#fe9b00 128deg,rgba(0,0,0,0) 128deg)"></i>
<i style="width:156.6px;height:156.6px;left:28px;top:28px;background:conic-gradient(from 26deg,#d32407 0deg,#d32407 4deg,#d42506 21.5deg,#ed5400 31.5deg,#f57100 34deg,#fe9a00 36.5deg,#f9c800 39deg,#f4ee00 41.5deg,#3db904 46.5deg,#12ae07 49deg,#08ad0c 51.5deg,#08be51 54deg,#0ed6d1 56.5deg,#1cc0f4 59deg,#25abfa 61.5deg,#26aafb 66.5deg,#21b5f7 69deg,#18c9f1 71.5deg,#0fd8e0 74deg,#0bd1ae 76.5deg,#08c05a 79deg,#08b11e 81.5deg,#08ad0a 84deg,#08ae0e 96.5deg,#08af15 99deg,#08b93c 101.5deg,#09ce9c 106.5deg,#0dd4c4 109deg,#0dd4c3 111.5deg,#09cf9e 114deg,#17af07 116.5deg,#d3e500 119deg,#f9c500 121.5deg,#fe9800 124deg,#fe9800 128deg,rgba(0,0,0,0) 128deg)"></i>
<i style="width:154.6px;height:154.6px;left:29px;top:29px;background:conic-gradient(from 26deg,#d32407 0deg,#d32407 4deg,#d42506 21.5deg,#e33500 26.5deg,#ec5200 31.5deg,#f57000 34deg,#fe9900 36.5deg,#f5e900 41.5deg,#a9d800 44deg,#48bb03 46.5deg,#16af07 49deg,#08ad0b 51.5deg,#08bd4d 54deg,#0dd5c9 56.5deg,#19c5f2 59deg,#23b0f9 61.5deg,#24aff9 66.5deg,#1fb9f6 69deg,#16ccf0 71.5deg,#0fd9e2 74deg,#0cd2b7 76.5deg,#08c368 79deg,#08b326 81.5deg,#08ad0c 84deg,#08ad0c 96.5deg,#08ae12 99deg,#08b632 101.5deg,#08c05b 104deg,#08cc8f 106.5deg,#0cd3b9 109deg,#0bd2b6 111.5deg,#08cc8e 114deg,#26b306 116.5deg,#eaed00 119deg,#fabd00 121.5deg,#ff9600 124deg,#ff9600 128deg,rgba(0,0,0,0) 128deg)"></i>
<i style="width:152.6px;height:152.6px;left:30px;top:30px;background:conic-gradient(from 26deg,#d32407 0deg,#d32407 4deg,#d32506 21.5deg,#e23000 26.5deg,#ec5100 31.5deg,#f57000 34deg,#fe9800 36.5deg,#f6e300 41.5deg,#badd00 44deg,#54be02 46.5deg,#1bb007 49deg,#08ad0b 51.5deg,#08bc49 54deg,#0cd3bf 56.5deg,#17cbf1 59deg,#21b5f7 61.5deg,#21b4f8 66.5deg,#15d0ef 71.5deg,#0fd9e4 74deg,#0cd4c1 76.5deg,#08b52e 81.5deg,#08ad0d 84deg,#08ac09 96.5deg,#08ae0e 99deg,#08b429 101.5deg,#08bd4d 104deg,#08c981 106.5deg,#0bd1ad 109deg,#0ad0a7 111.5deg,#08c87c 114deg,#37b704 116.5deg,#f5eb00 119deg,#fbb500 121.5deg,#ff9400 124deg,#ff9400 128deg,rgba(0,0,0,0) 128deg)"></i>
<i style="width:150.6px;height:150.6px;left:31px;top:31px;background:conic-gradient(from 26deg,#d32407 0deg,#d32407 4deg,#d32507 21.5deg,#df2e01 26.5deg,#e53a00 29deg,#eb4f00 31.5deg,#f56f00 34deg,#ff9600 36.5deg,#f6dd00 41.5deg,#cce300 44deg,#60c101 46.5deg,#20b206 49deg,#08ad0a 51.5deg,#08bb45 54deg,#0bd2b5 56.5deg,#14d1ef 59deg,#1ebaf6 61.5deg,#1fbaf6 66.5deg,#13d3ee 71.5deg,#0fd9e6 74deg,#0dd5c9 76.5deg,#08ca84 79deg,#08b737 81.5deg,#08ae0f 84deg,#08ad0a 99deg,#08b220 101.5deg,#08b93e 104deg,#08c673 106.5deg,#0acf9f 109deg,#09ce96 111.5deg,#08c368 114deg,#48bb03 116.5deg,#f6e300 119deg,#fcad00 121.5deg,#ff9200 124deg,#ff9200 128deg,rgba(0,0,0,0) 128deg)"></i>
<i style="width:148.6px;height:148.6px;left:32px;top:32px;background:conic-gradient(from 26deg,#d32407 0deg,#d32407 4deg,#d32507 21.5deg,#dc2b03 26.5deg,#e43600 29deg,#eb4e00 31.5deg,#ff9400 36.5deg,#f7d700 41.5deg,#dee900 44deg,#6dc400 46.5deg,#26b306 49deg,#08ac09 51.5deg,#08ba41 54deg,#0bd0ab 56.5deg,#11d9ec 59deg,#1cc0f4 61.5deg,#1bc1f4 66.5deg,#12d7ed 71.5deg,#10d9e7 74deg,#0ed6d2 76.5deg,#08cd91 79deg,#08ba40 81.5deg,#08af12 84deg,#0fae07 96.5deg,#0cad08 99deg,#08af15 101.5deg,#08b62f 104deg,#08c263 106.5deg,#08cd90 109deg,#08ca84 111.5deg,#08be53 114deg,#5bc001 116.5deg,#f6db00 119deg,#fda500 121.5deg,#fe8f00 124deg,#fe8f00 128deg,rgba(0,0,0,0) 128deg)"></i>
<i style="width:146.6px;height:146.6px;left:33px;top:33px;background:conic-gradient(from 26deg,#d32407 0deg,#d32407 4deg,#d52606 24deg,#e33200 29deg,#f46d00 34deg,#ff9200 36.5deg,#f0ef00 44deg,#7ec900 46.5deg,#2eb505 49deg,#09ac08 51.5deg,#08b93c 54deg,#0acf9f 56.5deg,#0fd9e3 59deg,#18c7f2 61.5deg,#17caf1 66.5deg,#10daec 71.5deg,#10d9e8 74deg,#0ed7d9 76.5deg,#09ce9d 79deg,#08bc4a 81.5deg,#08b018 84deg,#08ad0b 89deg,#17b007 96.5deg,#15af07 99deg,#08ac0a 101.5deg,#08b220 104deg,#08be53 106.5deg,#08c97f 109deg,#08c56f 111.5deg,#08b93c 114deg,#70c500 116.5deg,#f7d200 119deg,#fe9d00 121.5deg,#fd8c00 124deg,#fd8c00 128deg,rgba(0,0,0,0) 128deg)"></i>
<i style="width:144.6px;height:144.6px;left:34px;top:34px;background:conic-gradient(from 26deg,#d32407 0deg,#d32407 4deg,#d72705 26.5deg,#e23000 29deg,#fe8e00 36.5deg,#f5eb00 44deg,#8fcf00 46.5deg,#36b704 49deg,#0dad08 51.5deg,#08b737 54deg,#09cd93 56.5deg,#0ed7d7 59deg,#15cfef 61.5deg,#10daeb 69deg,#10d9e6 71.5deg,#10dae9 74deg,#0fd8df 76.5deg,#0ad0a9 79deg,#08bf55 81.5deg,#08b21f 84deg,#08ad0b 89deg,#1eb106 94deg,#23b206 96.5deg,#21b206 99deg,#14af07 101.5deg,#08ae11 104deg,#08ba42 106.5deg,#08c46b 109deg,#08bf58 111.5deg,#08b223 114deg,#8dce00 116.5deg,#f9c900 119deg,#ff9600 121.5deg,#fc8700 124deg,#fc8700 128deg,rgba(0,0,0,0) 128deg)"></i>
<i style="width:142.6px;height:142.6px;left:35px;top:35px;background:conic-gradient(from 26deg,#d32407 0deg,#d32407 4deg,#d52606 26.5deg,#e02f01 29deg,#fc8900 36.5deg,#f5e500 44deg,#a0d500 46.5deg,#40b904 49deg,#11ae07 51.5deg,#08b631 54deg,#08ca85 56.5deg,#0dd5c9 59deg,#11d9ec 61.5deg,#10daeb 64deg,#0fd8de 69deg,#10daea 74deg,#0fd9e5 76.5deg,#0bd2b3 79deg,#08c261 81.5deg,#08b429 84deg,#08b220 86.5deg,#08ad0b 89deg,#2cb405 94deg,#34b605 96.5deg,#32b605 99deg,#24b306 101.5deg,#0ead08 104deg,#08bf55 109deg,#08b93e 111.5deg,#09ac08 114deg,#add900 116.5deg,#fac000 119deg,#fe8e00 121.5deg,#fa8200 124deg,#fa8200 128deg,rgba(0,0,0,0) 128deg)"></i>
<i style="width:140.6px;height:140.6px;left:36px;top:36px;background:conic-gradient(from 26deg,#d32407 0deg,#d32407 4deg,#d42506 26.5deg,#df2e01 29deg,#fb8400 36.5deg,#f6df00 44deg,#b2da00 46.5deg,#4bbc03 49deg,#16af07 51.5deg,#08b52c 54deg,#0cd3ba 59deg,#0fd8e0 61.5deg,#0ed6d0 66.5deg,#0ed6d0 69deg,#10daea 74deg,#10daea 76.5deg,#0cd3be 79deg,#08c56e 81.5deg,#08b736 84deg,#08b429 86.5deg,#08ad0b 89deg,#3cb804 94deg,#48bb03 96.5deg,#46bb03 99deg,#1eb106 104deg,#08b11c 106.5deg,#08b93c 109deg,#08b222 111.5deg,#28b306 114deg,#cee400 116.5deg,#fbb700 119deg,#fb8500 121.5deg,#f87c00 124deg,#f87c00 128deg,rgba(0,0,0,0) 128deg)"></i>
<i style="width:138.6px;height:138.6px;left:37px;top:37px;background:conic-gradient(from 26deg,#d32407 0deg,#d32407 4deg,#d32506 26.5deg,#df2e01 29deg,#f97e00 36.5deg,#fe9e00 39deg,#f7d900 44deg,#c4e000 46.5deg,#57bf02 49deg,#1cb106 51.5deg,#08b326 54deg,#0ad0a9 59deg,#0ed6d2 61.5deg,#0cd3bc 66.5deg,#0cd4c0 69deg,#10daea 74deg,#11d8ec 76.5deg,#0dd5c7 79deg,#08c87b 81.5deg,#08ba44 84deg,#08b734 86.5deg,#08ad0c 89deg,#50bd02 94deg,#60c101 96.5deg,#5cc001 99deg,#2eb505 104deg,#09ac08 106.5deg,#08b221 109deg,#0cad08 111.5deg,#48bb03 114deg,#f2ef00 116.5deg,#fcae00 119deg,#f97d00 121.5deg,#f67500 124deg,#f67500 128deg,rgba(0,0,0,0) 128deg)"></i>
<i style="width:136.6px;height:136.6px;left:38px;top:38px;background:conic-gradient(from 26deg,#d32407 0deg,#d32407 4deg,#d32507 26.5deg,#df2d02 29deg,#ea4a00 31.5deg,#f77700 36.5deg,#fe9900 39deg,#f7d300 44deg,#d5e600 46.5deg,#63c101 49deg,#22b206 51.5deg,#08b220 54deg,#08bf58 56.5deg,#09ce98 59deg,#0dd4c3 61.5deg,#0cd2b8 64deg,#0ad0a6 66.5deg,#0bd1b0 69deg,#10daeb 74deg,#12d6ed 76.5deg,#0ed6d0 79deg,#08cb88 81.5deg,#08be53 84deg,#08b93f 86.5deg,#08ad0b 89deg,#64c201 94deg,#7cc900 96.5deg,#77c700 99deg,#1fb106 106.5deg,#0bad08 109deg,#2bb405 111.5deg,#68c300 114deg,#f5e400 116.5deg,#fda500 119deg,#f67500 121.5deg,#f56f00 124deg,#f56f00 128deg,rgba(0,0,0,0) 128deg)"></i>
<i style="width:134.6px;height:134.6px;left:39px;top:39px;background:conic-gradient(from 26deg,#d32407 0deg,#d32407 4deg,#d32507 26.5deg,#de2d02 29deg,#ea4a00 31.5deg,#f57100 36.5deg,#ff9400 39deg,#f8ce00 44deg,#e5eb00 46.5deg,#6fc400 49deg,#28b306 51.5deg,#08b01a 54deg,#08bc49 56.5deg,#08cb87 59deg,#0bd2b3 61.5deg,#0ad0a5 64deg,#08cc8e 66.5deg,#0acf9f 69deg,#10daeb 74deg,#13d3ee 76.5deg,#0ed7d8 79deg,#09cd95 81.5deg,#08c262 84deg,#08bc4a 86.5deg,#08ad0b 89deg,#7dc900 94deg,#9fd400 96.5deg,#98d200 99deg,#51bd02 104deg,#36b704 106.5deg,#28b405 109deg,#4cbc03 111.5deg,#92d000 114deg,#f7d800 116.5deg,#fe9d00 119deg,#f46e00 121.5deg,#f36800 124deg,#f36800 128deg,rgba(0,0,0,0) 128deg)"></i>
<i style="width:132.6px;height:132.6px;left:40px;top:40px;background:conic-gradient(from 26deg,#d32407 0deg,#d32407 4deg,#d32507 26.5deg,#de2d02 29deg,#ea4a00 31.5deg,#f46b00 36.5deg,#fe8e00 39deg,#f9c900 44deg,#f4f000 46.5deg,#7dc900 49deg,#2db505 51.5deg,#08af15 54deg,#08b93c 56.5deg,#08c776 59deg,#0acfa2 61.5deg,#08cd90 64deg,#08c675 66.5deg,#08cc8c 69deg,#10daeb 74deg,#14d0ef 76.5deg,#0fd8e0 79deg,#0acfa2 81.5deg,#08c570 84deg,#08be54 86.5deg,#08ac09 89deg,#4cbc03 91.5deg,#9ad200 94deg,#c1df00 96.5deg,#bbdd00 99deg,#64c201 104deg,#4fbd02 106.5deg,#47bb03 109deg,#6cc400 111.5deg,#bcde00 114deg,#f8cc00 116.5deg,#ff9500 119deg,#f26700 121.5deg,#f16200 124deg,#f16200 128deg,rgba(0,0,0,0) 128deg)"></i>
<i style="width:130.6px;height:130.6px;left:41px;top:41px;background:conic-gradient(from 26deg,#d32407 0deg,#d32407 4deg,#d32507 26.5deg,#de2d02 29deg,#ea4a00 31.5deg,#f26700 36.5deg,#fc8900 39deg,#f9c400 44deg,#f5ec00 46.5deg,#89cd00 49deg,#32b605 51.5deg,#08ae11 54deg,#08b630 56.5deg,#08c367 59deg,#08cd91 61.5deg,#08c779 64deg,#08c05a 66.5deg,#08c776 69deg,#10daea 74deg,#15cef0 76.5deg,#10d9e8 79deg,#0bd1ad 81.5deg,#08c97e 84deg,#08c05c 86.5deg,#0aac08 89deg,#58bf02 91.5deg,#b7dc00 94deg,#e4eb00 96.5deg,#dde800 99deg,#7fca00 104deg,#6ac300 106.5deg,#67c201 109deg,#97d100 111.5deg,#e5eb00 114deg,#f9c200 116.5deg,#fe8d00 119deg,#f16100 121.5deg,#ef5d00 124deg,#ef5d00 128deg,rgba(0,0,0,0) 128deg)"></i>
<i style="width:128.6px;height:128.6px;left:42px;top:42px;background:conic-gradient(from 26deg,#d32407 0deg,#d32407 4deg,#d32507 26.5deg,#de2d02 29deg,#ea4900 31.5deg,#f16300 36.5deg,#fb8500 39deg,#fac100 44deg,#f5e800 46.5deg,#36b704 51.5deg,#08ad0d 54deg,#08b326 56.5deg,#08bf58 59deg,#08c97e 61.5deg,#08b93e 66.5deg,#08c15f 69deg,#10dae9 74deg,#17ccf0 76.5deg,#11d8ed 79deg,#0cd2b8 81.5deg,#08c262 86.5deg,#0fae07 89deg,#65c201 91.5deg,#d3e500 94deg,#f5ea00 96.5deg,#f4ec00 99deg,#d1e400 101.5deg,#a1d500 104deg,#90cf00 106.5deg,#90cf00 109deg,#c2df00 111.5deg,#f5e800 114deg,#fb8600 119deg,#ef5d00 121.5deg,#ee5900 124deg,#ee5900 128deg,rgba(0,0,0,0) 128deg)"></i>
<i style="width:126.6px;height:126.6px;left:43px;top:43px;background:conic-gradient(from 26deg,#d32407 0deg,#d32407 4deg,#d32507 26.5deg,#de2d02 29deg,#e94900 31.5deg,#f06000 36.5deg,#fa8200 39deg,#fabf00 44deg,#f5e600 46.5deg,#99d200 49deg,#39b704 51.5deg,#08ad0b 54deg,#08b11f 56.5deg,#08bc4c 59deg,#08c46a 61.5deg,#08b21f 66.5deg,#08bb45 69deg,#10d9e8 74deg,#18c9f1 76.5deg,#13d4ee 79deg,#0dd4c2 81.5deg,#08c366 86.5deg,#16af07 89deg,#73c600 91.5deg,#efee00 94deg,#f6de00 96.5deg,#f6e000 99deg,#f4f000 101.5deg,#c7e100 104deg,#badd00 106.5deg,#bede00 109deg,#eced00 111.5deg,#f6db00 114deg,#fa8100 119deg,#ee5a00 121.5deg,#ed5600 124deg,#ed5600 128deg,rgba(0,0,0,0) 128deg)"></i>
<i style="width:124.6px;height:124.6px;left:44px;top:44px;background:conic-gradient(from 26deg,#d32407 0deg,#d32407 4deg,#d32507 26.5deg,#de2d02 29deg,#e94900 31.5deg,#f05e00 36.5deg,#fa8000 39deg,#fabd00 44deg,#f5e400 46.5deg,#9ed400 49deg,#3ab804 51.5deg,#08ac09 54deg,#08b019 56.5deg,#08ba40 59deg,#08bf54 61.5deg,#08b429 64deg,#10ae07 66.5deg,#08b429 69deg,#08ca83 71.5deg,#10d9e6 74deg,#19c7f2 76.5deg,#15d0ef 79deg,#0dd5cb 81.5deg,#09cf9e 84deg,#08c367 86.5deg,#1fb106 89deg,#85cc00 91.5deg,#f5e800 94deg,#f7d200 96.5deg,#f7d400 99deg,#f1ef00 104deg,#e7ec00 106.5deg,#eced00 109deg,#f5e400 111.5deg,#f8cf00 114deg,#fcaa00 116.5deg,#f97d00 119deg,#ee5800 121.5deg,#ed5400 124deg,#ed5400 128deg,rgba(0,0,0,0) 128deg)"></i>
<i style="width:122.6px;height:122.6px;left:45px;top:45px;background:conic-gradient(from 26deg,#d32407 0deg,#d32407 4deg,#d32507 26.5deg,#de2d02 29deg,#e94900 31.5deg,#ef5d00 36.5deg,#fa7f00 39deg,#fabc00 44deg,#f6e300 46.5deg,#a0d400 49deg,#3bb804 51.5deg,#08ac08 54deg,#08af15 56.5deg,#08b736 59deg,#08b93f 61.5deg,#08ad0c 64deg,#32b605 66.5deg,#08ad0c 69deg,#08c570 71.5deg,#0fd9e4 74deg,#19c5f2 76.5deg,#16cdf0 79deg,#0ed6d3 81.5deg,#0ad0a6 84deg,#08c367 86.5deg,#28b405 89deg,#97d200 91.5deg,#f6de00 94deg,#f9c700 96.5deg,#f9c800 99deg,#f6e100 104deg,#f6e200 109deg,#f9c400 114deg,#fda400 116.5deg,#ee5700 121.5deg,#ec5300 124deg,#ec5300 128deg,rgba(0,0,0,0) 128deg)"></i>
<i style="width:120.6px;height:120.6px;left:46px;top:46px;background:conic-gradient(from 26deg,#d32407 0deg,#d32407 4deg,#d32507 26.5deg,#de2d02 29deg,#e94900 31.5deg,#ef5d00 36.5deg,#fd9f00 41.5deg,#fabc00 44deg,#f6e300 46.5deg,#a1d500 49deg,#3cb804 51.5deg,#08ac08 54deg,#08af12 56.5deg,#08b52d 59deg,#08b429 61.5deg,#23b206 64deg,#54be02 66.5deg,#23b206 69deg,#08c05c 71.5deg,#0fd9e2 74deg,#1ac3f3 76.5deg,#18c9f1 79deg,#0fd8db 81.5deg,#0bd1ad 84deg,#08c365 86.5deg,#33b605 89deg,#a9d700 91.5deg,#f7d500 94deg,#fabc00 96.5deg,#fabd00 99deg,#f8d200 104deg,#f8d200 109deg,#fab900 114deg,#fda000 116.5deg,#ed5600 121.5deg,#ec5300 124deg,#ec5300 128deg,rgba(0,0,0,0) 128deg)"></i>
<i style="width:118.6px;height:118.6px;left:47px;top:47px;background:conic-gradient(from 26deg,#d32407 0deg,#d32407 4deg,#d32507 26.5deg,#de2d02 29deg,#e94800 31.5deg,#ef5c00 36.5deg,#fe9f00 41.5deg,#fabc00 44deg,#f6e200 46.5deg,#a2d500 49deg,#3cb804 51.5deg,#08ac08 54deg,#08ae10 56.5deg,#08b324 59deg,#08af14 61.5deg,#42ba03 64deg,#76c700 66.5deg,#41b904 69deg,#08bc49 71.5deg,#0fd8e0 74deg,#1bc1f4 76.5deg,#19c6f2 79deg,#0fd9e2 81.5deg,#0bd2b3 84deg,#08c263 86.5deg,#3db904 89deg,#badd00 91.5deg,#f8cc00 94deg,#fbb100 96.5deg,#fbb200 99deg,#f9c200 104deg,#f9c200 109deg,#fcaf00 114deg,#fe9b00 116.5deg,#ed5600 121.5deg,#ec5200 124deg,#ec5200 128deg,rgba(0,0,0,0) 128deg)"></i>
<i style="width:116.6px;height:116.6px;left:48px;top:48px;background:conic-gradient(from 26deg,#d32407 0deg,#d32407 4deg,#d32507 26.5deg,#de2d02 29deg,#e94700 31.5deg,#ef5c00 36.5deg,#fe9f00 41.5deg,#fabb00 44deg,#f6e200 46.5deg,#a2d500 49deg,#3cb804 51.5deg,#08ac08 54deg,#08ae0f 56.5deg,#08b11d 59deg,#11ae07 61.5deg,#5fc001 64deg,#9ed400 66.5deg,#5ec001 69deg,#08b736 71.5deg,#0fd8de 74deg,#1cbff4 76.5deg,#1ac4f3 79deg,#10dae9 81.5deg,#0cd3b9 84deg,#08c15f 86.5deg,#47bb03 89deg,#cae200 91.5deg,#f9c400 94deg,#fca800 96.5deg,#fbb500 106.5deg,#fda600 114deg,#fe9800 116.5deg,#ed5600 121.5deg,#ec5200 124deg,#ec5200 128deg,rgba(0,0,0,0) 128deg)"></i>
<i style="width:114.6px;height:114.6px;left:49px;top:49px;background:conic-gradient(from 26deg,#d32407 0deg,#d32407 4deg,#d32507 26.5deg,#dd2d02 29deg,#e84600 31.5deg,#ef5c00 36.5deg,#fe9f00 41.5deg,#fabb00 44deg,#f6e200 46.5deg,#a2d500 49deg,#3cb804 51.5deg,#08ac08 54deg,#08af16 59deg,#24b306 61.5deg,#7ec900 64deg,#c2e000 66.5deg,#7dc900 69deg,#08b324 71.5deg,#0fd8dc 74deg,#1dbef5 76.5deg,#1bc1f4 79deg,#11d7ed 81.5deg,#0cd3bd 84deg,#08c05a 86.5deg,#50bd02 89deg,#d7e700 91.5deg,#fabe00 94deg,#fda000 96.5deg,#fca800 109deg,#ff9500 116.5deg,#f87900 119deg,#ed5600 121.5deg,#ec5200 124deg,#ec5200 128deg,rgba(0,0,0,0) 128deg)"></i>
<i style="width:112.6px;height:112.6px;left:50px;top:50px;background:conic-gradient(from 26deg,#d32407 0deg,#d32407 4deg,#d32507 26.5deg,#dd2c02 29deg,#e84300 31.5deg,#ef5c00 36.5deg,#fe9f00 41.5deg,#fabb00 44deg,#f6e200 46.5deg,#a2d500 49deg,#3cb804 51.5deg,#08ac08 54deg,#08ae11 59deg,#35b704 61.5deg,#9ed400 64deg,#e0e900 66.5deg,#9dd300 69deg,#08af15 71.5deg,#0fd7da 74deg,#1dbdf5 76.5deg,#1cbff4 79deg,#13d3ee 81.5deg,#0cd3bf 84deg,#08be54 86.5deg,#57bf02 89deg,#e2ea00 91.5deg,#fbb800 94deg,#fe9a00 96.5deg,#fe9c00 111.5deg,#ff9200 116.5deg,#f77900 119deg,#ed5600 121.5deg,#ec5200 124deg,#ec5200 128deg,rgba(0,0,0,0) 128deg)"></i>
<i style="width:110.6px;height:110.6px;left:51px;top:51px;background:conic-gradient(from 26deg,#d32407 0deg,#d32407 4deg,#d32507 26.5deg,#dc2b03 29deg,#e74000 31.5deg,#ef5c00 36.5deg,#fe9f00 41.5deg,#fabb00 44deg,#f6e200 46.5deg,#a2d500 49deg,#3cb804 51.5deg,#08ac08 54deg,#08ad0d 59deg,#43ba03 61.5deg,#badd00 64deg,#f4ee00 66.5deg,#b9dd00 69deg,#09ac08 71.5deg,#0ed7d9 74deg,#1ebcf5 76.5deg,#1dbcf5 79deg,#15cfef 81.5deg,#0cd4c0 84deg,#08bc4c 86.5deg,#5dc001 89deg,#e9ec00 91.5deg,#fbb400 94deg,#ff9500 96.5deg,#ff9400 114deg,#fe9000 116.5deg,#f77800 119deg,#ed5600 121.5deg,#ec5200 124deg,#ec5200 128deg,rgba(0,0,0,0) 128deg)"></i>
<i style="width:108.6px;height:108.6px;left:52px;top:52px;background:conic-gradient(from 26deg,#d32407 0deg,#d32407 4deg,#d32507 26.5deg,#db2b03 29deg,#e63c00 31.5deg,#ef5c00 36.5deg,#fe9f00 41.5deg,#fabb00 44deg,#f6e200 46.5deg,#a2d500 49deg,#3cb804 51.5deg,#08ac08 54deg,#08ad0b 59deg,#4fbd02 61.5deg,#d3e500 64deg,#f5e800 66.5deg,#d2e500 69deg,#15af07 71.5deg,#0ed7d9 74deg,#1ebbf5 76.5deg,#1ebaf6 79deg,#16ccf0 81.5deg,#0cd3bf 84deg,#08ba43 86.5deg,#62c101 89deg,#eeee00 91.5deg,#fbb200 94deg,#ff9200 96.5deg,#fe8e00 116.5deg,#f77800 119deg,#ed5600 121.5deg,#ec5200 124deg,#ec5200 128deg,rgba(0,0,0,0) 128deg)"></i>
<i style="width:106.6px;height:106.6px;left:53px;top:53px;background:conic-gradient(from 26deg,#d32407 0deg,#d32407 4deg,#d32407 26.5deg,#da2a04 29deg,#e94700 34deg,#ef5b00 36.5deg,#fe9f00 41.5deg,#fabb00 44deg,#f6e200 46.5deg,#a2d500 49deg,#3cb804 51.5deg,#08ac08 54deg,#08ac0a 59deg,#5abf02 61.5deg,#e8ec00 64deg,#f6e200 66.5deg,#e8ec00 69deg,#20b206 71.5deg,#0ed7d8 74deg,#1ebbf6 76.5deg,#1fb9f6 79deg,#18c9f1 81.5deg,#0cd3be 84deg,#08b839 86.5deg,#65c201 89deg,#f0ef00 91.5deg,#fbb100 94deg,#ff9000 96.5deg,#fe8e00 116.5deg,#f77800 119deg,#ed5600 121.5deg,#ec5200 124deg,#ec5200 128deg,rgba(0,0,0,0) 128deg)"></i>
<i style="width:104.6px;height:104.6px;left:54px;top:54px;background:conic-gradient(from 26deg,#d32407 0deg,#d32407 4deg,#d32407 26.5deg,#e33400 31.5deg,#e84400 34deg,#ef5b00 36.5deg,#fe9f00 41.5deg,#fabb00 44deg,#f6e200 46.5deg,#a2d500 49deg,#3cb804 51.5deg,#08ac08 54deg,#08ac09 59deg,#63c101 61.5deg,#f4ed00 64deg,#f6de00 66.5deg,#f4ed00 69deg,#29b405 71.5deg,#0ed7d8 74deg,#1ebaf6 76.5deg,#20b7f7 79deg,#19c6f2 81.5deg,#0cd3bb 84deg,#08b52f 86.5deg,#68c300 89deg,#f2ef00 91.5deg,#fbb000 94deg,#fe8f00 96.5deg,#fe8d00 116.5deg,#f77800 119deg,#ed5600 121.5deg,#ec5200 124deg,#ec5200 128deg,rgba(0,0,0,0) 128deg)"></i>
<i style="width:102.6px;height:102.6px;left:55px;top:55px;background:conic-gradient(from 26deg,#d32407 0deg,#d32407 4deg,#d32407 26.5deg,#e12f00 31.5deg,#ef5b00 36.5deg,#fe9f00 41.5deg,#fabb00 44deg,#f6e200 46.5deg,#a2d500 49deg,#3cb804 51.5deg,#08ac08 54deg,#08ac08 59deg,#6bc300 61.5deg,#f5e700 64deg,#f7da00 66.5deg,#f5e700 69deg,#32b605 71.5deg,#0ed7d7 74deg,#1ebaf6 76.5deg,#21b5f7 79deg,#1ac4f3 81.5deg,#0cd2b9 84deg,#08b325 86.5deg,#6ac300 89deg,#f2ef00 91.5deg,#fcb000 94deg,#fe8f00 96.5deg,#fd8d00 116.5deg,#f77800 119deg,#ed5600 121.5deg,#ec5200 124deg,#ec5200 128deg,rgba(0,0,0,0) 128deg)"></i>
<i style="width:100.6px;height:100.6px;left:56px;top:56px;background:conic-gradient(from 26deg,#d32407 0deg,#d32407 4deg,#d62705 29deg,#de2d02 31.5deg,#e63f00 34deg,#ef5b00 36.5deg,#fe9f00 41.5deg,#fabb00 44deg,#f6e200 46.5deg,#a2d500 49deg,#3cb804 51.5deg,#08ac08 54deg,#08ac08 59deg,#73c600 61.5deg,#f6e100 64deg,#f7d700 66.5deg,#f6e200 69deg,#39b804 71.5deg,#0ed7d7 74deg,#1ebaf6 76.5deg,#21b4f8 79deg,#1bc1f4 81.5deg,#0bd2b6 84deg,#08b11b 86.5deg,#6cc400 89deg,#f3f000 91.5deg,#fcb000 94deg,#fe8f00 96.5deg,#fd8d00 116.5deg,#f77800 119deg,#ed5600 121.5deg,#ec5200 124deg,#ec5200 128deg,rgba(0,0,0,0) 128deg)"></i>
<i style="width:98.6px;height:98.6px;left:57px;top:57px;background:conic-gradient(from 26deg,#d32407 0deg,#d32407 4deg,#d52606 29deg,#db2b03 31.5deg,#e63d00 34deg,#ef5a00 36.5deg,#fe9f00 41.5deg,#fabb00 44deg,#f6e200 46.5deg,#a2d500 49deg,#3cb804 51.5deg,#08ac08 54deg,#08ac08 59deg,#7bc800 61.5deg,#f6dd00 64deg,#f7d500 66.5deg,#f6dd00 69deg,#3fb904 71.5deg,#0ed7d7 74deg,#1ebaf6 76.5deg,#22b3f8 79deg,#1cc0f4 81.5deg,#0bd2b4 84deg,#08af13 86.5deg,#6ec400 89deg,#f3f000 91.5deg,#fcb000 94deg,#fe8e00 96.5deg,#fd8d00 116.5deg,#f77800 119deg,#ed5600 121.5deg,#ec5200 124deg,#ec5200 128deg,rgba(0,0,0,0) 128deg)"></i>
<i style="width:96.6px;height:96.6px;left:58px;top:58px;background:conic-gradient(from 26deg,#d32407 0deg,#d32407 4deg,#d42506 29deg,#d92904 31.5deg,#e53b00 34deg,#f97f00 39deg,#fe9f00 41.5deg,#fabb00 44deg,#f6e200 46.5deg,#a2d500 49deg,#3cb804 51.5deg,#08ac08 54deg,#08ac08 59deg,#81ca00 61.5deg,#f7d900 64deg,#f7d300 66.5deg,#f7d900 69deg,#44ba03 71.5deg,#0ed7d7 74deg,#1fbaf6 76.5deg,#22b2f8 79deg,#1dbef5 81.5deg,#0bd2b2 84deg,#08ad0d 86.5deg,#6fc400 89deg,#f3f000 91.5deg,#fcb000 94deg,#fe8e00 96.5deg,#fd8d00 116.5deg,#f77800 119deg,#ed5600 121.5deg,#ec5200 124deg,#ec5200 128deg,rgba(0,0,0,0) 128deg)"></i>
<i style="width:94.6px;height:94.6px;left:59px;top:59px;background:conic-gradient(from 26deg,#d32407 0deg,#d32407 4deg,#d32506 29deg,#d72805 31.5deg,#e53a00 34deg,#f97f00 39deg,#fe9f00 41.5deg,#fabb00 44deg,#f6e200 46.5deg,#a2d500 49deg,#3cb804 51.5deg,#08ac08 54deg,#08ac08 59deg,#86cc00 61.5deg,#f7d700 64deg,#f8d100 66.5deg,#f7d700 69deg,#48bb03 71.5deg,#0ed7d7 74deg,#1fbaf6 76.5deg,#23b1f9 79deg,#1dbdf5 81.5deg,#0bd1b1 84deg,#08ac09 86.5deg,#71c500 89deg,#f3f000 91.5deg,#fcb000 94deg,#fe8e00 96.5deg,#fd8d00 116.5deg,#f77800 119deg,#ed5600 121.5deg,#ec5200 124deg,#ec5200 128deg,rgba(0,0,0,0) 128deg)"></i>
<i style="width:92.6px;height:92.6px;left:60px;top:60px;background:conic-gradient(from 26deg,#d32407 0deg,#d32407 4deg,#d62705 31.5deg,#e53900 34deg,#f97f00 39deg,#fe9f00 41.5deg,#fabb00 44deg,#f6e200 46.5deg,#a2d500 49deg,#3cb804 51.5deg,#08ac08 54deg,#08ac08 59deg,#88cd00 61.5deg,#f7d500 64deg,#f8d000 66.5deg,#f7d500 69deg,#4abb03 71.5deg,#0ed7d7 74deg,#1fbaf6 76.5deg,#23b1f9 79deg,#1dbdf5 81.5deg,#0bd1b0 84deg,#0aad08 86.5deg,#71c500 89deg,#f3f000 91.5deg,#fcb000 94deg,#fe8e00 96.5deg,#fd8d00 116.5deg,#f77800 119deg,#ed5600 121.5deg,#ec5200 124deg,#ec5200 128deg,rgba(0,0,0,0) 128deg)"></i>
<i style="width:90.6px;height:90.6px;left:61px;top:61px;background:conic-gradient(from 26deg,#d32407 0deg,#d32407 4deg,#d52606 31.5deg,#e43800 34deg,#f97f00 39deg,#fe9f00 41.5deg,#fabb00 44deg,#f6e200 46.5deg,#a2d500 49deg,#3cb804 51.5deg,#08ac08 54deg,#08ac08 59deg,#8acd00 61.5deg,#f7d400 64deg,#f8d000 66.5deg,#f7d400 69deg,#4bbc03 71.5deg,#0ed7d7 74deg,#1fbaf6 76.5deg,#23b0f9 79deg,#1dbcf5 81.5deg,#0bd1af 84deg,#0cad08 86.5deg,#72c500 89deg,#f3f000 91.5deg,#fcb000 94deg,#fe8e00 96.5deg,#fd8d00 116.5deg,#f77800 119deg,#ed5600 121.5deg,#ec5200 124deg,#ec5200 128deg,rgba(0,0,0,0) 128deg)"></i>
<i style="width:88.6px;height:88.6px;left:62px;top:62px;background:conic-gradient(from 26deg,#d32407 0deg,#d32407 4deg,#d52606 31.5deg,#e43800 34deg,#f97f00 39deg,#fe9f00 41.5deg,#fabb00 44deg,#f6e200 46.5deg,#a2d500 49deg,#3cb804 51.5deg,#08ac08 54deg,#08ac08 59deg,#8acd00 61.5deg,#f7d400 64deg,#f8d000 66.5deg,#f7d400 69deg,#4bbc03 71.5deg,#0ed7d7 74deg,#1fbaf6 76.5deg,#23b0f9 79deg,#1ebcf5 81.5deg,#0bd1af 84deg,#0dad08 86.5deg,#72c500 89deg,#f3f000 91.5deg,#fcb000 94deg,#fe8e00 96.5deg,#fd8d00 116.5deg,#f77800 119deg,#ed5600 121.5deg,#ec5200 124deg,#ec5200 128deg,rgba(0,0,0,0) 128deg)"></i>
<i style="width:86.6px;height:86.6px;left:63px;top:63px;background:conic-gradient(from 26deg,#d32407 0deg,#d32407 4deg,#d52606 31.5deg,#e43800 34deg,#f97f00 39deg,#fe9f00 41.5deg,#fabb00 44deg,#f6e200 46.5deg,#a2d500 49deg,#3cb804 51.5deg,#08ac08 54deg,#08ac08 59deg,#8acd00 61.5deg,#f7d400 64deg,#f8d000 66.5deg,#f7d400 69deg,#4bbc03 71.5deg,#0ed7d7 74deg,#1fbaf6 76.5deg,#23b0f9 79deg,#1ebcf5 81.5deg,#0bd1af 84deg,#0dad08 86.5deg,#72c500 89deg,#f3f000 91.5deg,#fcb000 94deg,#fe8e00 96.5deg,#fd8d00 116.5deg,#f87900 119deg,#ed5700 121.5deg,#ec5200 124deg,#ec5200 128deg,rgba(0,0,0,0) 128deg)"></i>
<i style="width:84.6px;height:84.6px;left:64px;top:64px;background:conic-gradient(from 26deg,#d32407 0deg,#d32407 4deg,#d52606 31.5deg,#e43800 34deg,#f97f00 39deg,#fe9f00 41.5deg,#fabb00 44deg,#f6e200 46.5deg,#a2d500 49deg,#3cb804 51.5deg,#08ac08 54deg,#08ac08 59deg,#88cd00 61.5deg,#f7d400 64deg,#f8d000 66.5deg,#f7d400 69deg,#4abb03 71.5deg,#0ed7d7 74deg,#1fbaf6 76.5deg,#23b0f9 79deg,#1ebcf5 81.5deg,#0bd1af 84deg,#0dad08 86.5deg,#72c500 89deg,#f3f000 91.5deg,#fcb000 94deg,#fe8e00 96.5deg,#fd8d00 116.5deg,#f87900 119deg,#ee5800 121.5deg,#ec5300 124deg,#ec5300 128deg,rgba(0,0,0,0) 128deg)"></i>
<i style="width:82.6px;height:82.6px;left:65px;top:65px;background:conic-gradient(from 26deg,#d32407 0deg,#d32407 4deg,#d52606 31.5deg,#e43800 34deg,#f97f00 39deg,#fe9f00 41.5deg,#fabb00 44deg,#f6e200 46.5deg,#a2d500 49deg,#3cb804 51.5deg,#08ac08 54deg,#08ac08 59deg,#86cc00 61.5deg,#f7d500 64deg,#f8d000 66.5deg,#f7d500 69deg,#48bb03 71.5deg,#0ed7d7 74deg,#1fbaf6 76.5deg,#23b0f9 79deg,#1ebcf5 81.5deg,#0bd1af 84deg,#0dad08 86.5deg,#72c500 89deg,#f3f000 91.5deg,#fcb000 94deg,#fe8e00 96.5deg,#fd8d00 116.5deg,#f87a00 119deg,#ee5900 121.5deg,#ec5300 124deg,#ec5300 128deg,rgba(0,0,0,0) 128deg)"></i>
<i style="width:80.6px;height:80.6px;left:66px;top:66px;background:conic-gradient(from 26deg,#d32407 0deg,#d32407 4deg,#d52606 31.5deg,#e43800 34deg,#f97f00 39deg,#fe9f00 41.5deg,#fabb00 44deg,#f6e200 46.5deg,#a2d500 49deg,#3cb804 51.5deg,#08ac08 54deg,#08ac08 59deg,#82ca00 61.5deg,#f7d600 64deg,#f8d000 66.5deg,#f7d600 69deg,#44ba03 71.5deg,#0ed7d7 74deg,#1fbaf6 76.5deg,#23b0f9 79deg,#1ebcf5 81.5deg,#0bd1af 84deg,#0dad08 86.5deg,#72c500 89deg,#f3f000 91.5deg,#fcb000 94deg,#fe8e00 96.5deg,#fd8d00 116.5deg,#f87b00 119deg,#ef5c00 121.5deg,#ec5300 124deg,#ec5300 128deg,rgba(0,0,0,0) 128deg)"></i>
<i style="width:78.6px;height:78.6px;left:67px;top:67px;background:conic-gradient(from 26deg,#d32407 0deg,#d32407 4deg,#d52606 31.5deg,#e43800 34deg,#f97f00 39deg,#fe9f00 41.5deg,#fabb00 44deg,#f6e200 46.5deg,#a2d500 49deg,#3cb804 51.5deg,#08ac08 54deg,#08ac08 59deg,#7cc900 61.5deg,#f7d700 64deg,#f8d000 66.5deg,#f7d700 69deg,#40b904 71.5deg,#0ed7d7 74deg,#1fbaf6 76.5deg,#23b0f9 79deg,#1ebcf5 81.5deg,#0bd1af 84deg,#0dad08 86.5deg,#72c500 89deg,#f3f000 91.5deg,#fcb000 94deg,#fe8e00 96.5deg,#fd8d00 116.5deg,#f97d00 119deg,#f05f00 121.5deg,#ed5400 124deg,#ed5400 128deg,rgba(0,0,0,0) 128deg)"></i>
<i style="width:76.6px;height:76.6px;left:68px;top:68px;background:conic-gradient(from 26deg,#d32407 0deg,#d32407 4deg,#d52606 31.5deg,#e43800 34deg,#f97f00 39deg,#fe9f00 41.5deg,#fabb00 44deg,#f6e200 46.5deg,#a2d500 49deg,#3cb804 51.5deg,#08ac08 54deg,#08ac08 59deg,#76c700 61.5deg,#f7d900 64deg,#f8d000 66.5deg,#f7d900 69deg,#3bb804 71.5deg,#0ed7d7 74deg,#1fbaf6 76.5deg,#23b0f9 79deg,#1ebcf5 81.5deg,#0bd1af 84deg,#0dad08 86.5deg,#72c500 89deg,#f3f000 91.5deg,#fcb000 94deg,#fe8e00 96.5deg,#fe8d00 116.5deg,#f97f00 119deg,#f16300 121.5deg,#ed5500 124deg,#ed5500 128deg,rgba(0,0,0,0) 128deg)"></i>
<i style="width:74.6px;height:74.6px;left:69px;top:69px;background:conic-gradient(from 26deg,#d32407 0deg,#d32407 4deg,#d52606 31.5deg,#e43800 34deg,#f97f00 39deg,#fe9f00 41.5deg,#fabb00 44deg,#f6e200 46.5deg,#a2d500 49deg,#3cb804 51.5deg,#08ac08 54deg,#08ac08 59deg,#6ec400 61.5deg,#f7db00 64deg,#f8d000 66.5deg,#f6db00 69deg,#35b605 71.5deg,#0ed7d7 74deg,#1fbaf6 76.5deg,#23b0f9 79deg,#1ebcf5 81.5deg,#0bd1af 84deg,#0dad08 86.5deg,#72c500 89deg,#f3f000 91.5deg,#fcb000 94deg,#fe8e00 96.5deg,#fe8d00 116.5deg,#fa8100 119deg,#f26700 121.5deg,#ed5500 124deg,#ed5500 128deg,rgba(0,0,0,0) 128deg)"></i>
<i style="width:72.6px;height:72.6px;left:70px;top:70px;background:conic-gradient(from 26deg,#d32407 0deg,#d32407 4deg,#d52606 31.5deg,#e43800 34deg,#f97f00 39deg,#fe9f00 41.5deg,#fabb00 44deg,#f6e200 46.5deg,#a2d500 49deg,#3cb804 51.5deg,#08ac08 54deg,#08ac08 59deg,#68c300 61.5deg,#f6dd00 64deg,#f8d000 66.5deg,#f6dd00 69deg,#2eb505 71.5deg,#0ed7d8 74deg,#1fbaf6 76.5deg,#23b0f9 79deg,#1ebcf5 81.5deg,#0bd1af 84deg,#0dad08 86.5deg,#72c500 89deg,#f3f000 91.5deg,#fcb000 94deg,#fe8e00 96.5deg,#fe8d00 116.5deg,#fb8300 119deg,#ed5600 124deg,#ed5600 128deg,rgba(0,0,0,0) 128deg)"></i>
<i style="width:70.6px;height:70.6px;left:71px;top:71px;background:conic-gradient(from 26deg,#d32407 0deg,#d32407 4deg,#d52606 31.5deg,#e43800 34deg,#f97f00 39deg,#fe9f00 41.5deg,#fabb00 44deg,#f6e200 46.5deg,#a2d500 49deg,#3cb804 51.5deg,#08ac08 54deg,#08ac09 59deg,#62c101 61.5deg,#f6de00 64deg,#f8d000 66.5deg,#f6df00 69deg,#28b405 71.5deg,#0ed7d8 74deg,#1ebaf6 76.5deg,#23b1f9 79deg,#1dbcf5 81.5deg,#0bd1af 84deg,#0dad08 86.5deg,#72c500 89deg,#f3f000 91.5deg,#fcb000 94deg,#fe8e00 96.5deg,#fe8d00 116.5deg,#fb8500 119deg,#ee5700 124deg,#ee5700 128deg,rgba(0,0,0,0) 128deg)"></i>
<i style="width:68.6px;height:68.6px;left:72px;top:72px;background:conic-gradient(from 26deg,#d32407 0deg,#d32407 4deg,#d52606 31.5deg,#e43800 34deg,#f97f00 39deg,#fe9f00 41.5deg,#fabb00 44deg,#f6e200 46.5deg,#a2d500 49deg,#3cb804 51.5deg,#08ac08 54deg,#08ac09 59deg,#5dc001 61.5deg,#f6e000 64deg,#f8d000 66.5deg,#f6e100 69deg,#22b206 71.5deg,#0ed7d8 74deg,#1ebaf6 76.5deg,#22b1f9 79deg,#1dbdf5 81.5deg,#0bd1ae 84deg,#0dad08 86.5deg,#72c500 89deg,#f3f000 91.5deg,#fcb000 94deg,#fe8e00 96.5deg,#fe8d00 116.5deg,#fc8800 119deg,#f67500 121.5deg,#ee5800 124deg,#ee5800 128deg,rgba(0,0,0,0) 128deg)"></i>
<i style="width:66.6px;height:66.6px;left:73px;top:73px;background:conic-gradient(from 26deg,#d32407 0deg,#d32407 4deg,#d52606 31.5deg,#e43800 34deg,#f97f00 39deg,#fe9f00 41.5deg,#fabb00 44deg,#f6e200 46.5deg,#a2d500 49deg,#3cb804 51.5deg,#08ac08 54deg,#08ac09 59deg,#58bf02 61.5deg,#f6e200 64deg,#f8d000 66.5deg,#f6e200 69deg,#1db106 71.5deg,#0ed7d8 74deg,#1ebbf5 76.5deg,#22b2f8 79deg,#1dbef5 81.5deg,#0bd1ad 84deg,#0ead08 86.5deg,#72c500 89deg,#f3f000 91.5deg,#fcb000 94deg,#fe8e00 96.5deg,#fe8d00 116.5deg,#fc8900 119deg,#f77800 121.5deg,#ee5900 124deg,#ee5900 128deg,rgba(0,0,0,0) 128deg)"></i>
<i style="width:64.6px;height:64.6px;left:74px;top:74px;background:conic-gradient(from 26deg,#d32407 0deg,#d32407 4deg,#d52606 31.5deg,#e43800 34deg,#f97f00 39deg,#fe9f00 41.5deg,#fabb00 44deg,#f6e200 46.5deg,#a2d500 49deg,#3cb804 51.5deg,#08ac08 54deg,#08ac09 59deg,#55be02 61.5deg,#f6e300 64deg,#f8d000 66.5deg,#f5e300 69deg,#19b007 71.5deg,#0ed7d8 74deg,#1ebcf5 76.5deg,#22b3f8 79deg,#1cbff4 81.5deg,#0bd1ac 84deg,#0ead08 86.5deg,#72c500 89deg,#f3f000 91.5deg,#fcb000 94deg,#fe8e00 96.5deg,#fd8b00 119deg,#f87b00 121.5deg,#ee5900 124deg,#ee5900 128deg,rgba(0,0,0,0) 128deg)"></i>
<i style="width:62.6px;height:62.6px;left:75px;top:75px;background:conic-gradient(from 26deg,#d32407 0deg,#d32407 4deg,#d52606 31.5deg,#e43800 34deg,#f97f00 39deg,#fe9f00 41.5deg,#fabb00 44deg,#f6e200 46.5deg,#a2d500 49deg,#3cb804 51.5deg,#08ac08 54deg,#08ac09 59deg,#52bd02 61.5deg,#f5e400 64deg,#f8d000 66.5deg,#f5e400 69deg,#16af07 71.5deg,#0ed7d8 74deg,#1dbdf5 76.5deg,#21b5f7 79deg,#1cc1f4 81.5deg,#0bd1ab 84deg,#0ead08 86.5deg,#72c500 89deg,#f3f000 91.5deg,#fcb000 94deg,#fe8e00 96.5deg,#fd8c00 119deg,#f97d00 121.5deg,#ee5900 124deg,#ee5900 128deg,rgba(0,0,0,0) 128deg)"></i>
<i style="width:60.6px;height:60.6px;left:76px;top:76px;background:conic-gradient(from 26deg,#d32407 0deg,#d32407 4deg,#d52606 31.5deg,#e43800 34deg,#f97f00 39deg,#fe9f00 41.5deg,#fabb00 44deg,#f6e200 46.5deg,#a2d500 49deg,#3cb804 51.5deg,#08ac08 54deg,#08ac09 59deg,#50bd02 61.5deg,#f5e400 64deg,#f8d000 66.5deg,#f5e500 69deg,#15af07 71.5deg,#0ed7d7 74deg,#1cbff4 76.5deg,#20b7f7 79deg,#1bc3f3 81.5deg,#0ad0a9 84deg,#0ead08 86.5deg,#72c500 89deg,#f3f000 91.5deg,#fcb000 94deg,#fe8e00 96.5deg,#fd8d00 119deg,#f97e00 121.5deg,#ee5a00 124deg,#ee5a00 128deg,rgba(0,0,0,0) 128deg)"></i>
<i style="width:58.6px;height:58.6px;left:77px;top:77px;background:conic-gradient(from 26deg,#d32407 0deg,#d32407 4deg,#d52606 31.5deg,#e43800 34deg,#f97f00 39deg,#fe9f00 41.5deg,#fabb00 44deg,#f6e200 46.5deg,#a2d500 49deg,#3cb804 51.5deg,#08ac08 54deg,#08ac09 59deg,#4fbd02 61.5deg,#f5e500 64deg,#f8d100 66.5deg,#f5e500 69deg,#14af07 71.5deg,#0ed7d7 74deg,#1cc1f4 76.5deg,#1fb9f6 79deg,#19c5f2 81.5deg,#0ad0a7 84deg,#0fae07 86.5deg,#72c500 89deg,#f3f000 91.5deg,#fcaf00 94deg,#fe8e00 96.5deg,#fd8d00 119deg,#f97f00 121.5deg,#ee5a00 124deg,#ee5a00 128deg,rgba(0,0,0,0) 128deg)"></i>
<i style="width:56.6px;height:56.6px;left:78px;top:78px;background:conic-gradient(from 26deg,#d32407 0deg,#d32407 4deg,#d52606 31.5deg,#e43800 34deg,#f97f00 39deg,#fe9f00 41.5deg,#fabb00 44deg,#f6e200 46.5deg,#a2d500 49deg,#3cb804 51.5deg,#08ac08 54deg,#08ac09 59deg,#4fbd02 61.5deg,#f5e500 64deg,#f8d100 66.5deg,#f5e500 69deg,#14af07 71.5deg,#0ed7d6 74deg,#1bc2f3 76.5deg,#1ebbf5 79deg,#18c8f2 81.5deg,#0ad0a4 84deg,#0fae07 86.5deg,#73c600 89deg,#f4f000 91.5deg,#fcaf00 94deg,#fe8e00 96.5deg,#fe8d00 119deg,#fa8000 121.5deg,#ee5a00 124deg,#ee5a00 128deg,rgba(0,0,0,0) 128deg)"></i>
<i style="width:54.6px;height:54.6px;left:79px;top:79px;background:conic-gradient(from 26deg,#d32407 0deg,#d32407 4deg,#d52606 31.5deg,#e43800 34deg,#f97f00 39deg,#fe9f00 41.5deg,#fabb00 44deg,#f6e200 46.5deg,#a2d500 49deg,#3cb804 51.5deg,#08ac08 54deg,#08ac09 59deg,#4fbd02 61.5deg,#f5e500 64deg,#f8d100 66.5deg,#f5e600 69deg,#14af07 71.5deg,#0ed7d6 74deg,#1ac4f3 76.5deg,#1dbef5 79deg,#17cbf1 81.5deg,#0acfa1 84deg,#11ae07 86.5deg,#75c600 89deg,#f4ef00 91.5deg,#fcaf00 94deg,#fe8e00 96.5deg,#fe8d00 119deg,#fa8000 121.5deg,#ee5a00 124deg,#ee5a00 128deg,rgba(0,0,0,0) 128deg)"></i>
<i style="width:52.6px;height:52.6px;left:80px;top:80px;background:conic-gradient(from 26deg,#d32407 0deg,#d32407 4deg,#d52606 31.5deg,#e43800 34deg,#f97f00 39deg,#fe9f00 41.5deg,#fabb00 44deg,#f6e200 46.5deg,#a2d500 49deg,#3cb804 51.5deg,#08ac08 54deg,#08ac09 59deg,#4fbd02 61.5deg,#f5e600 64deg,#f8d200 66.5deg,#f5e600 69deg,#15af07 71.5deg,#0ed7d4 74deg,#19c6f2 76.5deg,#1bc1f4 79deg,#15cef0 81.5deg,#09ce9d 84deg,#13af07 86.5deg,#78c700 89deg,#f4ee00 91.5deg,#fcaf00 94deg,#fe8e00 96.5deg,#fe8d00 119deg,#fa8000 121.5deg,#ee5a00 124deg,#ee5a00 128deg,rgba(0,0,0,0) 128deg)"></i>
<i style="width:50.6px;height:50.6px;left:81px;top:81px;background:conic-gradient(from 26deg,#d32407 0deg,#d32407 4deg,#d52606 31.5deg,#e43800 34deg,#f97f00 39deg,#fe9f00 41.5deg,#fabb00 44deg,#f6e200 46.5deg,#a2d500 49deg,#3cb804 51.5deg,#08ac08 54deg,#08ac09 59deg,#4fbd02 61.5deg,#f5e600 64deg,#f7d300 66.5deg,#f5e600 69deg,#17af07 71.5deg,#0ed6d3 74deg,#18c9f1 76.5deg,#1ac4f3 79deg,#14d2ef 81.5deg,#09ce98 84deg,#18b007 86.5deg,#7ec900 89deg,#f4ed00 91.5deg,#fcae00 94deg,#fe8e00 96.5deg,#fe8d00 119deg,#fa8000 121.5deg,#ee5a00 124deg,#ee5a00 128deg,rgba(0,0,0,0) 128deg)"></i>
<i style="width:48.6px;height:48.6px;left:82px;top:82px;background:conic-gradient(from 26deg,#d32407 0deg,#d32407 4deg,#d52606 31.5deg,#e43800 34deg,#f97f00 39deg,#fe9f00 41.5deg,#fabb00 44deg,#f6e200 46.5deg,#a2d500 49deg,#3cb804 51.5deg,#08ac08 54deg,#08ac09 59deg,#4fbd02 61.5deg,#f5e700 64deg,#f7d400 66.5deg,#f5e700 69deg,#19b007 71.5deg,#0ed6d1 74deg,#17cbf1 76.5deg,#19c6f2 79deg,#12d6ed 81.5deg,#08cd91 84deg,#1eb106 86.5deg,#86cc00 89deg,#f5ea00 91.5deg,#fcad00 94deg,#fe8e00 96.5deg,#fe8d00 119deg,#fa8000 121.5deg,#ee5a00 124deg,#ee5a00 128deg,rgba(0,0,0,0) 128deg)"></i>
<i style="width:46.6px;height:46.6px;left:83px;top:83px;background:conic-gradient(from 26deg,#d32407 0deg,#d32407 4deg,#d52606 31.5deg,#e43800 34deg,#f97f00 39deg,#fe9f00 41.5deg,#fabb00 44deg,#f6e200 46.5deg,#a2d500 49deg,#3cb804 51.5deg,#08ac08 54deg,#08ac09 59deg,#4fbd02 61.5deg,#f5e700 64deg,#f7d600 66.5deg,#f5e800 69deg,#1db106 71.5deg,#0ed6ce 74deg,#16cdf0 76.5deg,#18c9f1 79deg,#10daeb 81.5deg,#08cb89 84deg,#26b306 86.5deg,#91cf00 89deg,#f5e600 91.5deg,#fcac00 94deg,#fe8e00 96.5deg,#fe8d00 119deg,#fa8000 121.5deg,#ee5a00 124deg,#ee5a00 128deg,rgba(0,0,0,0) 128deg)"></i>
<i style="width:44.6px;height:44.6px;left:84px;top:84px;background:conic-gradient(from 26deg,#d32407 0deg,#d32407 4deg,#d52606 31.5deg,#e43800 34deg,#f97f00 39deg,#fe9f00 41.5deg,#fabb00 44deg,#f6e200 46.5deg,#a2d500 49deg,#3cb804 51.5deg,#08ac08 54deg,#08ac09 59deg,#4ebd02 61.5deg,#f5e900 64deg,#f7d800 66.5deg,#f5e900 69deg,#22b206 71.5deg,#0dd5cb 74deg,#15cfef 76.5deg,#16ccf0 79deg,#0fd9e5 81.5deg,#08c980 84deg,#30b505 86.5deg,#9ed400 89deg,#f6e200 91.5deg,#fcaa00 94deg,#fe8e00 96.5deg,#fe8d00 119deg,#fa8000 121.5deg,#ee5a00 124deg,#ee5a00 128deg,rgba(0,0,0,0) 128deg)"></i>
<i style="width:42.6px;height:42.6px;left:85px;top:85px;background:conic-gradient(from 26deg,#d32407 0deg,#d32407 4deg,#d52606 31.5deg,#e43800 34deg,#f97f00 39deg,#fe9f00 41.5deg,#fabb00 44deg,#f6e200 46.5deg,#a2d500 49deg,#3cb804 51.5deg,#08ac08 54deg,#08ac09 59deg,#4ebd02 61.5deg,#f5ea00 64deg,#f6db00 66.5deg,#f5ea00 69deg,#27b306 71.5deg,#0dd5c8 74deg,#14d2ef 76.5deg,#15cfef 79deg,#0fd8de 81.5deg,#08c675 84deg,#3cb804 86.5deg,#aed900 89deg,#f6dd00 91.5deg,#fca800 94deg,#fe8e00 96.5deg,#fe8d00 119deg,#fa8000 121.5deg,#ee5a00 124deg,#ee5a00 128deg,rgba(0,0,0,0) 128deg)"></i>
<i style="width:40.6px;height:40.6px;left:86px;top:86px;background:conic-gradient(from 26deg,#d32407 0deg,#d32407 4deg,#d52606 31.5deg,#e43800 34deg,#f97f00 39deg,#fe9f00 41.5deg,#fabb00 44deg,#f6e200 46.5deg,#a2d500 49deg,#3cb804 51.5deg,#08ac08 54deg,#08ac09 59deg,#4ebd02 61.5deg,#f5eb00 64deg,#f6de00 66.5deg,#f5eb00 69deg,#2cb505 71.5deg,#0dd4c3 74deg,#13d4ee 76.5deg,#13d3ee 79deg,#0ed7d6 81.5deg,#08c46a 84deg,#47bb03 86.5deg,#bede00 89deg,#f7d800 91.5deg,#fda600 94deg,#fe8e00 96.5deg,#fe8d00 119deg,#fa8000 121.5deg,#ee5a00 124deg,#ee5a00 128deg,rgba(0,0,0,0) 128deg)"></i>
<i style="width:38.6px;height:38.6px;left:87px;top:87px;background:conic-gradient(from 26deg,#d32407 0deg,#d32407 4deg,#d52606 31.5deg,#e43800 34deg,#f97f00 39deg,#fe9f00 41.5deg,#fabb00 44deg,#f6e200 46.5deg,#a2d500 49deg,#3cb804 51.5deg,#08ac08 54deg,#08ac09 59deg,#4ebd02 61.5deg,#f4ec00 64deg,#f6e100 66.5deg,#f4ec00 69deg,#32b605 71.5deg,#0cd3be 74deg,#11d7ed 76.5deg,#12d6ed 79deg,#0ed6ce 81.5deg,#08c15e 84deg,#53be02 86.5deg,#cee400 89deg,#f7d200 91.5deg,#fda400 94deg,#fe8e00 96.5deg,#fe8d00 119deg,#fa8000 121.5deg,#ee5a00 124deg,#ee5a00 128deg,rgba(0,0,0,0) 128deg)"></i>
<i style="width:36.6px;height:36.6px;left:88px;top:88px;background:conic-gradient(from 26deg,#d32407 0deg,#d32407 4deg,#d52606 31.5deg,#e43800 34deg,#f97f00 39deg,#fe9f00 41.5deg,#fabb00 44deg,#f6e200 46.5deg,#a2d500 49deg,#3cb804 51.5deg,#08ac08 54deg,#08ac09 59deg,#4ebd02 61.5deg,#f4ee00 64deg,#f5e300 66.5deg,#f4ee00 69deg,#37b704 71.5deg,#0cd2b7 74deg,#10daea 76.5deg,#10daec 79deg,#0dd4c6 81.5deg,#08be52 84deg,#5ec001 86.5deg,#dde800 89deg,#f8cd00 91.5deg,#fda200 94deg,#fe8e00 96.5deg,#fe8d00 119deg,#fa8000 121.5deg,#ee5a00 124deg,#ee5a00 128deg,rgba(0,0,0,0) 128deg)"></i>
<i style="width:34.6px;height:34.6px;left:89px;top:89px;background:conic-gradient(from 26deg,#d32407 0deg,#d32407 4deg,#d52606 31.5deg,#e43800 34deg,#f97f00 39deg,#fe9f00 41.5deg,#fabb00 44deg,#f6e200 46.5deg,#a2d500 49deg,#3cb804 51.5deg,#08ac08 54deg,#08ac09 59deg,#4ebd02 61.5deg,#f4ef00 64deg,#f5e600 66.5deg,#f4ef00 69deg,#3cb804 71.5deg,#0bd1af 74deg,#0fd9e4 76.5deg,#0fd9e5 79deg,#0cd3bc 81.5deg,#08bb47 84deg,#68c300 86.5deg,#eaed00 89deg,#f9c800 91.5deg,#fda000 94deg,#fe8e00 96.5deg,#fe8d00 119deg,#fa8000 121.5deg,#ee5a00 124deg,#ee5a00 128deg,rgba(0,0,0,0) 128deg)"></i>
<i style="width:32.6px;height:32.6px;left:90px;top:90px;background:conic-gradient(from 26deg,#d32407 0deg,#d32407 4deg,#d52606 31.5deg,#e43800 34deg,#f97f00 39deg,#fe9f00 41.5deg,#fabb00 44deg,#f6e200 46.5deg,#a2d500 49deg,#3cb804 51.5deg,#08ac08 54deg,#08ac09 59deg,#4ebd02 61.5deg,#f4ef00 64deg,#f5e800 66.5deg,#f4ef00 69deg,#40b904 71.5deg,#0ad0a4 74deg,#0fd8dc 76.5deg,#0fd8de 79deg,#0bd2b2 81.5deg,#08b93c 84deg,#70c500 86.5deg,#f4f000 89deg,#f9c300 91.5deg,#fe9e00 94deg,#fe8e00 96.5deg,#fe8d00 119deg,#fa8000 121.5deg,#ee5a00 124deg,#ee5a00 128deg,rgba(0,0,0,0) 128deg)"></i>
<i style="width:30.6px;height:30.6px;left:91px;top:91px;background:conic-gradient(from 26deg,#d32407 0deg,#d32407 4deg,#d52606 31.5deg,#e43800 34deg,#f97f00 39deg,#fe9f00 41.5deg,#fabb00 44deg,#f6e200 46.5deg,#a2d500 49deg,#3cb804 51.5deg,#08ac08 54deg,#08ac09 59deg,#4ebd02 61.5deg,#f4f000 64deg,#f5e900 66.5deg,#f4f000 69deg,#43ba03 71.5deg,#09ce97 74deg,#0ed6d1 76.5deg,#0ed7d6 79deg,#0ad0a7 81.5deg,#08b631 84deg,#78c700 86.5deg,#f4ed00 89deg,#fabe00 91.5deg,#fe9c00 94deg,#fe8e00 96.5deg,#fe8d00 119deg,#fa8000 121.5deg,#ee5a00 124deg,#ee5a00 128deg,rgba(0,0,0,0) 128deg)"></i>
<i style="width:28.6px;height:28.6px;left:92px;top:92px;background:conic-gradient(from 26deg,#d32407 0deg,#d32407 4deg,#d52606 31.5deg,#e43800 34deg,#f97f00 39deg,#fe9f00 41.5deg,#fabb00 44deg,#f6e200 46.5deg,#a2d500 49deg,#3cb804 51.5deg,#08ac08 54deg,#08ac09 59deg,#4ebd02 61.5deg,#f3f000 64deg,#f5ea00 66.5deg,#f3f000 69deg,#46bb03 71.5deg,#08cb88 74deg,#0dd4c5 76.5deg,#0dd5cc 79deg,#09ce9b 81.5deg,#08b326 84deg,#7ec900 86.5deg,#f5eb00 89deg,#faba00 91.5deg,#fe9a00 94deg,#fe8e00 96.5deg,#fe8d00 119deg,#fa8000 121.5deg,#ee5a00 124deg,#ee5a00 128deg,rgba(0,0,0,0) 128deg)"></i>
<i style="width:26.6px;height:26.6px;left:93px;top:93px;background:conic-gradient(from 26deg,#d32407 0deg,#d32407 4deg,#d52606 31.5deg,#e43800 34deg,#f97f00 39deg,#fe9f00 41.5deg,#fabb00 44deg,#f6e200 46.5deg,#a2d500 49deg,#3cb804 51.5deg,#08ac08 54deg,#08ac09 59deg,#4ebd02 61.5deg,#f3f000 64deg,#f5ea00 66.5deg,#f3f000 69deg,#48bb03 71.5deg,#08c777 74deg,#0cd2b8 76.5deg,#0cd4c2 79deg,#08cc8e 81.5deg,#08b11b 84deg,#81ca00 86.5deg,#f5e900 89deg,#fbb600 91.5deg,#fe9800 94deg,#fe8e00 96.5deg,#fe8d00 119deg,#fa8000 121.5deg,#ee5a00 124deg,#ee5a00 128deg,rgba(0,0,0,0) 128deg)"></i>
<i style="width:24.6px;height:24.6px;left:94px;top:94px;background:conic-gradient(from 26deg,#d32407 0deg,#d32407 4deg,#d52606 31.5deg,#e43800 34deg,#f97f00 39deg,#fe9f00 41.5deg,#fabb00 44deg,#f6e200 46.5deg,#a2d500 49deg,#3cb804 51.5deg,#08ac08 54deg,#08ac09 59deg,#4ebd02 61.5deg,#f2ef00 64deg,#f5ea00 66.5deg,#f3f000 69deg,#4abc03 71.5deg,#08c365 74deg,#0bd0ab 76.5deg,#0cd2b7 79deg,#08c981 81.5deg,#08ae11 84deg,#84cb00 86.5deg,#f5e800 89deg,#fbb200 91.5deg,#ff9600 94deg,#fe8e00 96.5deg,#fe8d00 119deg,#fa8000 121.5deg,#ee5a00 124deg,#ee5a00 128deg,rgba(0,0,0,0) 128deg)"></i>
<i style="width:22.6px;height:22.6px;left:95px;top:95px;background:conic-gradient(from 26deg,#d32407 0deg,#d32407 4deg,#d52606 31.5deg,#e43800 34deg,#f97f00 39deg,#fe9f00 41.5deg,#fabb00 44deg,#f6e200 46.5deg,#a2d500 49deg,#3cb804 51.5deg,#08ac08 54deg,#08ac09 59deg,#4ebd02 61.5deg,#f2ef00 64deg,#f5ea00 66.5deg,#f2ef00 69deg,#4cbc03 71.5deg,#08be54 74deg,#09cf9d 76.5deg,#0bd1ad 79deg,#08c675 81.5deg,#08ac08 84deg,#86cc00 86.5deg,#f5e700 89deg,#fcaf00 91.5deg,#ff9400 94deg,#fe8d00 119deg,#fa8000 121.5deg,#ee5a00 124deg,#ee5a00 128deg,rgba(0,0,0,0) 128deg)"></i>
<i style="width:20.6px;height:20.6px;left:96px;top:96px;background:conic-gradient(from 26deg,#d32407 0deg,#d32407 4deg,#d52606 31.5deg,#e43800 34deg,#f97f00 39deg,#fe9f00 41.5deg,#fabb00 44deg,#f6e200 46.5deg,#a2d500 49deg,#3cb804 51.5deg,#08ac08 54deg,#08ac09 59deg,#4ebd02 61.5deg,#f2ef00 64deg,#f5ea00 66.5deg,#f2ef00 69deg,#4ebc03 71.5deg,#08bb44 74deg,#08cd91 76.5deg,#0acfa3 79deg,#08c469 81.5deg,#11ae07 84deg,#87cc00 86.5deg,#f5e700 89deg,#fcac00 91.5deg,#ff9300 94deg,#fe8d00 119deg,#fa8000 121.5deg,#ee5a00 124deg,#ee5a00 128deg,rgba(0,0,0,0) 128deg)"></i>
<i style="width:18.6px;height:18.6px;left:97px;top:97px;background:conic-gradient(from 26deg,#d32407 0deg,#d32407 4deg,#d52606 31.5deg,#e43800 34deg,#f97f00 39deg,#fe9f00 41.5deg,#fabb00 44deg,#f6e200 46.5deg,#a2d500 49deg,#3cb804 51.5deg,#08ac08 54deg,#08ac09 59deg,#4ebd02 61.5deg,#f2ef00 64deg,#f5ea00 66.5deg,#f2ef00 69deg,#4fbd02 71.5deg,#08b736 74deg,#08cb87 76.5deg,#09ce9b 79deg,#08c160 81.5deg,#19b007 84deg,#88cd00 86.5deg,#f5e600 89deg,#fca900 91.5deg,#ff9100 94deg,#fe8d00 119deg,#fa8000 121.5deg,#ee5a00 124deg,#ee5a00 128deg,rgba(0,0,0,0) 128deg)"></i>
<i style="width:16.6px;height:16.6px;left:98px;top:98px;background:conic-gradient(from 26deg,#d32407 0deg,#d32407 4deg,#d52606 31.5deg,#e43800 34deg,#f97f00 39deg,#fe9f00 41.5deg,#fabb00 44deg,#f6e200 46.5deg,#a2d500 49deg,#3cb804 51.5deg,#08ac08 54deg,#08ac09 59deg,#4ebd02 61.5deg,#f2ef00 64deg,#f5ea00 66.5deg,#f2ef00 69deg,#50bd02 71.5deg,#08b52c 74deg,#08c97e 76.5deg,#09cd95 79deg,#08bf58 81.5deg,#1fb106 84deg,#f5e600 89deg,#fda700 91.5deg,#fe9000 94deg,#fe8d00 119deg,#fa8000 121.5deg,#ee5a00 124deg,#ee5a00 128deg,rgba(0,0,0,0) 128deg)"></i>
<i style="width:14.6px;height:14.6px;left:99px;top:99px;background:conic-gradient(from 26deg,#d32407 0deg,#d32407 4deg,#d52606 31.5deg,#e43800 34deg,#f97f00 39deg,#fe9f00 41.5deg,#fabb00 44deg,#f6e200 46.5deg,#a2d500 49deg,#3cb804 51.5deg,#08ac08 54deg,#08ac09 59deg,#4ebd02 61.5deg,#f2ef00 64deg,#f5ea00 66.5deg,#f2ef00 69deg,#51bd02 71.5deg,#08b324 74deg,#08c778 76.5deg,#08cd91 79deg,#08be53 81.5deg,#23b206 84deg,#f5e600 89deg,#fda600 91.5deg,#fe8f00 94deg,#fe8d00 119deg,#fa8000 121.5deg,#ee5a00 124deg,#ee5a00 128deg,rgba(0,0,0,0) 128deg)"></i>
<i style="width:12.6px;height:12.6px;left:100px;top:100px;background:conic-gradient(from 26deg,#d32407 0deg,#d32407 4deg,#d52606 31.5deg,#e43800 34deg,#f97f00 39deg,#fe9f00 41.5deg,#fabb00 44deg,#f6e200 46.5deg,#a2d500 49deg,#3cb804 51.5deg,#08ac08 54deg,#08ac09 59deg,#4ebd02 61.5deg,#f2ef00 64deg,#f5ea00 66.5deg,#f2ef00 69deg,#51bd02 71.5deg,#08b21f 74deg,#08c674 76.5deg,#08cc8e 79deg,#08bd4f 81.5deg,#26b306 84deg,#8acd00 86.5deg,#f5e500 89deg,#fda500 91.5deg,#fe8e00 94deg,#fe8d00 119deg,#fa8000 121.5deg,#ee5a00 124deg,#ee5a00 128deg,rgba(0,0,0,0) 128deg)"></i>
<i style="width:10.6px;height:10.6px;left:101px;top:101px;background:conic-gradient(from 26deg,#d32407 0deg,#d32407 4deg,#d52606 31.5deg,#e43800 34deg,#f97f00 39deg,#fe9f00 41.5deg,#fabb00 44deg,#f6e200 46.5deg,#a2d500 49deg,#3cb804 51.5deg,#08ac08 54deg,#08ac09 59deg,#4ebd02 61.5deg,#f2ef00 64deg,#f5ea00 66.5deg,#f2ef00 69deg,#51bd02 71.5deg,#08b11c 74deg,#08c672 76.5deg,#08cc8c 79deg,#08bd4d 81.5deg,#27b306 84deg,#8acd00 86.5deg,#f5e500 89deg,#fda400 91.5deg,#fe8e00 94deg,#fe8d00 119deg,#fa8000 121.5deg,#ee5a00 124deg,#ee5a00 128deg,rgba(0,0,0,0) 128deg)"></i>
<i style="width:8.6px;height:8.6px;left:102px;top:102px;background:conic-gradient(from 26deg,#d32407 0deg,#d32407 4deg,#d52606 31.5deg,#e43800 34deg,#f97f00 39deg,#fe9f00 41.5deg,#fabb00 44deg,#f6e200 46.5deg,#a2d500 49deg,#3cb804 51.5deg,#08ac08 54deg,#08ac09 59deg,#4ebd02 61.5deg,#f2ef00 64deg,#f5ea00 66.5deg,#f2ef00 69deg,#52bd02 71.5deg,#08b11b 74deg,#08c571 76.5deg,#08cc8b 79deg,#08bd4c 81.5deg,#28b405 84deg,#8acd00 86.5deg,#f5e500 89deg,#fda400 91.5deg,#fe8e00 94deg,#fe8d00 119deg,#fa8000 121.5deg,#ee5a00 124deg,#ee5a00 128deg,rgba(0,0,0,0) 128deg)"></i>
<i style="width:6.6px;height:6.6px;left:103px;top:103px;background:conic-gradient(from 26deg,#d32407 0deg,#d32407 4deg,#d52606 31.5deg,#e43800 34deg,#f97f00 39deg,#fe9f00 41.5deg,#fabb00 44deg,#f6e200 46.5deg,#a2d500 49deg,#3cb804 51.5deg,#08ac08 54deg,#08ac09 59deg,#4ebd02 61.5deg,#f2ef00 64deg,#f5ea00 66.5deg,#f2ef00 69deg,#52bd02 71.5deg,#08b01a 74deg,#08c570 76.5deg,#08cc8b 79deg,#08bc4c 81.5deg,#28b405 84deg,#8acd00 86.5deg,#f5e500 89deg,#fda400 91.5deg,#fe8e00 94deg,#fe8d00 119deg,#fa8000 121.5deg,#ee5a00 124deg,#ee5a00 128deg,rgba(0,0,0,0) 128deg)"></i>
<i style="width:4.6px;height:4.6px;left:104px;top:104px;background:conic-gradient(from 26deg,#d32407 0deg,#d32407 4deg,#d52606 31.5deg,#e43800 34deg,#f97f00 39deg,#fe9f00 41.5deg,#fabb00 44deg,#f6e200 46.5deg,#a2d500 49deg,#3cb804 51.5deg,#08ac08 54deg,#08ac09 59deg,#4ebd02 61.5deg,#f2ef00 64deg,#f5ea00 66.5deg,#f2ef00 69deg,#52bd02 71.5deg,#08b01a 74deg,#08c570 76.5deg,#08cc8b 79deg,#08bc4c 81.5deg,#28b405 84deg,#8acd00 86.5deg,#f5e500 89deg,#fda400 91.5deg,#fe8e00 94deg,#fe8d00 119deg,#fa8000 121.5deg,#ee5a00 124deg,#ee5a00 128deg,rgba(0,0,0,0) 128deg)"></i>
<i style="width:2.6px;height:2.6px;left:105px;top:105px;background:conic-gradient(from 26deg,#d32407 0deg,#d32407 4deg,#d52606 31.5deg,#e43800 34deg,#f97f00 39deg,#fe9f00 41.5deg,#fabb00 44deg,#f6e200 46.5deg,#a2d500 49deg,#3cb804 51.5deg,#08ac08 54deg,#08ac09 59deg,#4ebd02 61.5deg,#f2ef00 64deg,#f5ea00 66.5deg,#f2ef00 69deg,#52bd02 71.5deg,#08b01a 74deg,#08c570 76.5deg,#08cc8b 79deg,#08bc4b 81.5deg,#28b405 84deg,#8acd00 86.5deg,#f5e500 89deg,#fda400 91.5deg,#fe8e00 94deg,#fe8d00 119deg,#fa8000 121.5deg,#ee5a00 124deg,#ee5a00 128deg,rgba(0,0,0,0) 128deg)"></i>
</div>
<svg width="820" height="514" viewBox="0 0 820 514">
<defs><clipPath id="c1"><circle cx="170.6" cy="152.9" r="106.3"/></clipPath><clipPath id="c2"><circle cx="170.6" cy="378.8" r="106.3"/></clipPath></defs>
<polygon points="304.8,153.2 361.1,55.6 354.2,51.9 347.0,48.7" fill="#070b22"/>
<polygon points="304.8,153.2 361.1,250.8 354.2,254.5 347.0,257.7" fill="#070b22"/>
<polygon points="304.8,379.0 361.1,281.4 354.2,277.7 347.0,274.5" fill="#070b22"/>
<polygon points="304.8,379.0 361.1,476.6 354.2,480.3 347.0,483.5" fill="#070b22"/>
<circle cx="170.6" cy="152.9" r="63.8" fill="none" stroke="rgba(8,8,60,0.2)" stroke-width="0.8"/>
<path d="M336.7 97.6A63.8 63.8 0 0 1 336.7 208.2" fill="none" stroke="rgba(8,8,60,0.2)" stroke-width="0.8"/>
<circle cx="170.6" cy="378.8" r="63.8" fill="none" stroke="rgba(8,8,60,0.2)" stroke-width="0.8"/>
<path d="M336.7 323.5A63.8 63.8 0 0 1 336.7 434.1" fill="none" stroke="rgba(8,8,60,0.2)" stroke-width="0.8"/>
<circle cx="171.1" cy="153.1" r="4.6" fill="#f6ee2c" stroke="#0a0a0a" stroke-width="2.4"/>
<circle cx="234.9" cy="153.1" r="2.9" fill="#9cc878" stroke="#0a0a0a" stroke-width="1.9"/>
<circle cx="178.0" cy="86.1" r="2.9" fill="#7c74c8" stroke="#0a0a0a" stroke-width="1.9"/>
<circle cx="169.7" cy="214.1" r="2.9" fill="#e8887c" stroke="#0a0a0a" stroke-width="1.9"/>
<circle cx="304.2" cy="153.2" r="6.0" fill="#070b22"/>
<circle cx="304.6" cy="153.2" r="3.9" fill="#f6ee2c" stroke="#0a0a0a" stroke-width="1.8"/>
<circle cx="368.5" cy="151.5" r="2.8" fill="#9cc878" stroke="#0a0a0a" stroke-width="1.9"/>
<circle cx="171.1" cy="379.0" r="4.6" fill="#f6ee2c" stroke="#0a0a0a" stroke-width="2.4"/>
<circle cx="234.9" cy="379.0" r="2.9" fill="#9cc878" stroke="#0a0a0a" stroke-width="1.9"/>
<circle cx="178.0" cy="312.0" r="2.9" fill="#7c74c8" stroke="#0a0a0a" stroke-width="1.9"/>
<circle cx="169.7" cy="440.0" r="2.9" fill="#e8887c" stroke="#0a0a0a" stroke-width="1.9"/>
<circle cx="304.2" cy="379.1" r="6.0" fill="#070b22"/>
<circle cx="304.6" cy="379.1" r="3.9" fill="#f6ee2c" stroke="#0a0a0a" stroke-width="1.8"/>
<circle cx="368.5" cy="376.8" r="2.8" fill="#9cc878" stroke="#0a0a0a" stroke-width="1.9"/>
<linearGradient id="g1" x1="0" y1="1" x2="0" y2="0"><stop offset="0.000" stop-color="#6454c8"/><stop offset="0.030" stop-color="#4244e2"/><stop offset="0.060" stop-color="#3058f6"/><stop offset="0.090" stop-color="#2c9cff"/><stop offset="0.115" stop-color="#10daec"/><stop offset="0.145" stop-color="#08cc8c"/><stop offset="0.185" stop-color="#08ac08"/><stop offset="0.215" stop-color="#6ec400"/><stop offset="0.245" stop-color="#f4f000"/><stop offset="0.305" stop-color="#ff9200"/><stop offset="0.350" stop-color="#e23000"/><stop offset="0.378" stop-color="#b00a16"/><stop offset="0.403" stop-color="#dc3c70"/><stop offset="0.433" stop-color="#fa84c8"/><stop offset="0.466" stop-color="#ffccec"/><stop offset="0.495" stop-color="#ffffff"/><stop offset="0.580" stop-color="#dcdcdc"/><stop offset="0.700" stop-color="#aaaaaa"/><stop offset="0.800" stop-color="#6e6e6e"/><stop offset="0.900" stop-color="#3a3a3a"/><stop offset="1.000" stop-color="#0e0e0e"/></linearGradient><rect x="24.3" y="83.0" width="9.6" height="139.4" fill="url(#g1)" stroke="#c8c8d0" stroke-width="1"/>
<linearGradient id="g2" x1="0" y1="1" x2="0" y2="0"><stop offset="0.000" stop-color="#6454c8"/><stop offset="0.030" stop-color="#4244e2"/><stop offset="0.060" stop-color="#3058f6"/><stop offset="0.090" stop-color="#2c9cff"/><stop offset="0.115" stop-color="#10daec"/><stop offset="0.145" stop-color="#08cc8c"/><stop offset="0.185" stop-color="#08ac08"/><stop offset="0.215" stop-color="#6ec400"/><stop offset="0.245" stop-color="#f4f000"/><stop offset="0.305" stop-color="#ff9200"/><stop offset="0.350" stop-color="#e23000"/><stop offset="0.378" stop-color="#b00a16"/><stop offset="0.403" stop-color="#dc3c70"/><stop offset="0.433" stop-color="#fa84c8"/><stop offset="0.466" stop-color="#ffccec"/><stop offset="0.495" stop-color="#ffffff"/><stop offset="0.580" stop-color="#dcdcdc"/><stop offset="0.700" stop-color="#aaaaaa"/><stop offset="0.800" stop-color="#6e6e6e"/><stop offset="0.900" stop-color="#3a3a3a"/><stop offset="1.000" stop-color="#0e0e0e"/></linearGradient><rect x="24.3" y="308.8" width="9.6" height="139.4" fill="url(#g2)" stroke="#c8c8d0" stroke-width="1"/>
<text x="38.6" y="88.8" class="t">60</text>
<text x="38.6" y="122.8" class="t">45</text>
<text x="38.6" y="157.3" class="t">30</text>
<text x="38.6" y="192.1" class="t">15</text>
<text x="38.6" y="226.7" class="t">0</text>
<text x="38.2" y="314.1" class="t">1600</text>
<text x="38.2" y="348.7" class="t">1250</text>
<text x="38.2" y="383.5" class="t">900</text>
<text x="38.2" y="418.3" class="t">550</text>
<text x="38.2" y="452.7" class="t">200</text>
<text transform="translate(18.8 222.6) rotate(-90)" class="t" textLength="138" lengthAdjust="spacingAndGlyphs">Plasma Density (r<tspan dy="-4" font-size="8">2</tspan><tspan dy="4">N/cm</tspan><tspan dy="-4" font-size="8">3</tspan><tspan dy="4">)</tspan></text>
<text transform="translate(18.8 448.2) rotate(-90)" class="t" textLength="121" lengthAdjust="spacingAndGlyphs">Radial Velocity (km/s)</text>
<text y="36.0" class="h" xml:space="preserve"><tspan x="233.5">2</tspan><tspan x="252.1">0</tspan><tspan x="270.7">1</tspan><tspan x="289.3">9</tspan><tspan x="309.2" textLength="12.4" lengthAdjust="spacingAndGlyphs">-</tspan><tspan x="326.6">0</tspan><tspan x="345.2">7</tspan><tspan x="365.1" textLength="12.4" lengthAdjust="spacingAndGlyphs">-</tspan><tspan x="382.5">0</tspan><tspan x="401.1">7</tspan> <tspan x="438.4">2</tspan><tspan x="457.0">1</tspan><tspan x="479.4">:</tspan><tspan x="494.3">0</tspan><tspan x="512.9">0</tspan><tspan x="535.3">:</tspan><tspan x="550.2">0</tspan><tspan x="568.8">0</tspan></text>
<text x="568.8" y="62.0" class="t">Plasma Density (/cm<tspan dy="-4" font-size="8">3</tspan><tspan dy="4">)</tspan></text>
<text x="568.8" y="287.4" class="t">Radial Velocity (km/s)</text>
<rect x="453.8" y="66.4" width="348.9" height="51.2" fill="none" stroke="#a6a8c4" stroke-width="1"/>
<path d="M475.3 66.4v3.2M475.3 117.6v-3.2M525.0 66.4v3.2M525.0 117.6v-3.2M574.7 66.4v3.2M574.7 117.6v-3.2M624.4 66.4v3.2M624.4 117.6v-3.2M674.1 66.4v3.2M674.1 117.6v-3.2M723.8 66.4v3.2M723.8 117.6v-3.2M773.5 66.4v3.2M773.5 117.6v-3.2M453.8 76.6h4.5M802.7 76.6h-4.5M453.8 86.9h4.5M802.7 86.9h-4.5M453.8 97.1h4.5M802.7 97.1h-4.5M453.8 107.4h4.5M802.7 107.4h-4.5" stroke="#a6a8c4" stroke-width="1" fill="none"/>
<path d="M453.5 92.0C455.9 90.8 462.3 86.6 467.6 84.6C472.9 82.6 479.2 80.9 485.1 80.2C491.0 79.5 496.8 79.7 502.7 80.6C508.6 81.5 514.4 83.8 520.2 85.5C526.1 87.2 531.2 89.4 537.8 90.7C544.4 92.0 553.1 93.4 559.7 93.4C566.3 93.4 571.4 92.5 577.3 90.7C583.2 88.9 589.4 85.1 594.9 82.8C600.4 80.5 606.2 77.9 610.2 76.7C614.2 75.5 616.1 75.4 619.0 75.4C621.9 75.4 623.8 75.0 627.8 76.7C631.8 78.4 637.7 82.3 643.2 85.5C648.7 88.7 654.1 93.4 660.7 96.0C667.3 98.6 675.4 100.1 682.7 101.3C690.0 102.5 696.6 102.9 704.6 103.0C712.6 103.1 722.2 102.5 731.0 102.1C739.8 101.7 748.5 101.2 757.3 100.8C766.1 100.4 776.1 99.6 783.6 99.5C791.1 99.4 799.4 99.9 802.5 100.0" stroke="#a4cc7c" stroke-width="1" fill="none"/>
<text x="462.5" y="82.7" class="t">EARTH</text>
<text x="445.4" y="71.0" class="t" text-anchor="end">10</text>
<text x="445.4" y="91.2" class="t" text-anchor="end">6</text>
<text x="445.4" y="111.7" class="t" text-anchor="end">2</text>
<rect x="453.8" y="128.0" width="348.9" height="50.6" fill="none" stroke="#a6a8c4" stroke-width="1"/>
<path d="M475.3 128.0v3.2M475.3 178.6v-3.2M525.0 128.0v3.2M525.0 178.6v-3.2M574.7 128.0v3.2M574.7 178.6v-3.2M624.4 128.0v3.2M624.4 178.6v-3.2M674.1 128.0v3.2M674.1 178.6v-3.2M723.8 128.0v3.2M723.8 178.6v-3.2M773.5 128.0v3.2M773.5 178.6v-3.2M453.8 138.1h4.5M802.7 138.1h-4.5M453.8 148.2h4.5M802.7 148.2h-4.5M453.8 158.4h4.5M802.7 158.4h-4.5M453.8 168.5h4.5M802.7 168.5h-4.5" stroke="#a6a8c4" stroke-width="1" fill="none"/>
<path d="M453.5 158.9C455.9 158.3 462.3 156.7 467.6 155.4C472.9 154.2 479.2 152.2 485.1 151.4C491.0 150.6 497.6 150.3 502.7 150.5C507.8 150.7 511.4 151.9 515.8 152.7C520.2 153.5 522.4 154.7 529.0 155.4C535.6 156.1 546.6 156.1 555.4 156.7C564.2 157.3 573.7 158.0 581.7 158.9C589.7 159.8 596.3 161.4 603.6 161.9C610.9 162.4 617.6 161.8 625.6 161.9C633.6 162.0 642.4 162.1 651.9 162.4C661.4 162.7 672.5 163.4 682.7 163.7C693.0 164.0 704.6 164.1 713.4 164.1C722.2 164.1 728.7 164.5 735.3 163.7C741.9 162.9 747.8 161.1 752.9 159.3C758.0 157.5 762.4 154.3 766.1 152.7C769.8 151.1 771.6 150.1 774.9 149.7C778.2 149.3 782.5 149.6 785.8 150.5C789.1 151.4 791.8 153.8 794.6 155.4C797.4 157.0 801.2 159.1 802.5 159.8" stroke="#cc6a5e" stroke-width="1" fill="none"/>
<text x="462.5" y="144.3" class="t">STEREO A</text>
<text x="445.4" y="132.6" class="t" text-anchor="end">10</text>
<text x="445.4" y="152.5" class="t" text-anchor="end">6</text>
<text x="445.4" y="172.8" class="t" text-anchor="end">2</text>
<rect x="453.8" y="189.6" width="348.9" height="50.6" fill="none" stroke="#a6a8c4" stroke-width="1"/>
<path d="M475.3 189.6v3.2M475.3 240.2v-3.2M525.0 189.6v3.2M525.0 240.2v-3.2M574.7 189.6v3.2M574.7 240.2v-3.2M624.4 189.6v3.2M624.4 240.2v-3.2M674.1 189.6v3.2M674.1 240.2v-3.2M723.8 189.6v3.2M723.8 240.2v-3.2M773.5 189.6v3.2M773.5 240.2v-3.2M453.8 199.7h4.5M802.7 199.7h-4.5M453.8 209.8h4.5M802.7 209.8h-4.5M453.8 220.0h4.5M802.7 220.0h-4.5M453.8 230.1h4.5M802.7 230.1h-4.5" stroke="#a6a8c4" stroke-width="1" fill="none"/>
<path d="M453.5 223.9C455.9 224.3 462.3 225.7 467.6 226.1C472.9 226.5 479.2 226.7 485.1 226.6C491.0 226.5 496.8 226.2 502.7 225.3C508.6 224.4 514.4 221.9 520.2 220.9C526.1 219.9 532.7 219.1 537.8 219.1C542.9 219.1 545.9 219.9 551.0 220.9C556.1 221.9 561.9 224.6 568.5 225.3C575.1 226.0 583.9 225.9 590.5 225.3C597.1 224.7 602.1 222.8 608.0 221.8C613.9 220.8 619.7 219.2 625.6 219.1C631.5 218.9 635.9 219.9 643.2 220.9C650.5 221.9 660.7 224.4 669.5 225.3C678.3 226.2 687.0 226.4 695.8 226.6C704.6 226.8 714.9 226.8 722.2 226.6C729.5 226.4 733.9 226.4 739.7 225.7C745.6 225.0 751.4 223.5 757.3 222.2C763.2 220.9 769.0 219.6 774.9 217.8C780.8 216.0 787.8 212.6 792.4 211.2C797.0 209.8 800.8 209.8 802.5 209.5" stroke="#4149c8" stroke-width="1" fill="none"/>
<text x="462.5" y="205.9" class="t">STEREO B</text>
<text x="445.4" y="194.2" class="t" text-anchor="end">10</text>
<text x="445.4" y="214.1" class="t" text-anchor="end">6</text>
<text x="445.4" y="234.4" class="t" text-anchor="end">2</text>
<rect x="453.8" y="291.6" width="348.9" height="50.8" fill="none" stroke="#a6a8c4" stroke-width="1"/>
<path d="M475.3 291.6v3.2M475.3 342.4v-3.2M525.0 291.6v3.2M525.0 342.4v-3.2M574.7 291.6v3.2M574.7 342.4v-3.2M624.4 291.6v3.2M624.4 342.4v-3.2M674.1 291.6v3.2M674.1 342.4v-3.2M723.8 291.6v3.2M723.8 342.4v-3.2M773.5 291.6v3.2M773.5 342.4v-3.2M453.8 304.3h4.5M802.7 304.3h-4.5M453.8 317.0h4.5M802.7 317.0h-4.5M453.8 329.7h4.5M802.7 329.7h-4.5" stroke="#a6a8c4" stroke-width="1" fill="none"/>
<path d="M453.5 328.1C457.3 327.9 468.1 327.4 476.3 326.8C484.5 326.2 493.9 325.3 502.7 324.6C511.5 323.9 521.7 322.9 529.0 322.4C536.3 321.9 540.0 321.5 546.6 321.6C553.2 321.7 561.9 322.5 568.5 322.9C575.1 323.3 580.2 324.1 586.1 323.8C592.0 323.5 598.1 322.2 603.6 321.1C609.1 320.0 613.9 318.8 619.0 317.2C624.1 315.6 628.9 313.3 634.4 311.5C639.9 309.7 646.0 307.8 651.9 306.6C657.8 305.4 663.6 304.8 669.5 304.4C675.4 304.0 681.1 303.9 687.0 304.0C692.9 304.1 697.3 304.7 704.6 305.3C711.9 305.9 722.2 307.1 731.0 307.9C739.8 308.7 750.0 309.6 757.3 310.1C764.6 310.6 769.0 311.1 774.9 311.0C780.8 310.9 787.8 310.1 792.4 309.7C797.0 309.3 800.8 308.9 802.5 308.8" stroke="#a4cc7c" stroke-width="1" fill="none"/>
<text x="462.5" y="307.9" class="t">EARTH</text>
<text x="445.4" y="308.6" class="t" text-anchor="end">500</text>
<text x="445.4" y="334.0" class="t" text-anchor="end">300</text>
<rect x="453.8" y="353.0" width="348.9" height="51.0" fill="none" stroke="#a6a8c4" stroke-width="1"/>
<path d="M475.3 353.0v3.2M475.3 404.0v-3.2M525.0 353.0v3.2M525.0 404.0v-3.2M574.7 353.0v3.2M574.7 404.0v-3.2M624.4 353.0v3.2M624.4 404.0v-3.2M674.1 353.0v3.2M674.1 404.0v-3.2M723.8 353.0v3.2M723.8 404.0v-3.2M773.5 353.0v3.2M773.5 404.0v-3.2M453.8 365.8h4.5M802.7 365.8h-4.5M453.8 378.5h4.5M802.7 378.5h-4.5M453.8 391.2h4.5M802.7 391.2h-4.5" stroke="#a6a8c4" stroke-width="1" fill="none"/>
<path d="M453.5 373.0C455.9 373.4 462.3 375.1 467.6 375.7C472.9 376.3 479.2 376.6 485.1 376.5C491.0 376.4 496.8 375.8 502.7 375.2C508.6 374.6 512.9 373.6 520.2 372.6C527.5 371.6 537.8 370.6 546.6 369.1C555.4 367.6 564.9 365.5 572.9 363.8C580.9 362.1 588.7 359.9 594.9 359.0C601.1 358.1 605.1 357.9 610.2 358.1C615.3 358.3 618.7 359.5 625.6 360.3C632.5 361.1 643.1 362.2 651.9 362.9C660.7 363.6 669.5 364.0 678.3 364.7C687.1 365.4 695.8 366.0 704.6 366.9C713.4 367.8 723.7 369.0 731.0 370.0C738.3 371.0 743.8 372.3 748.5 373.0C753.2 373.7 755.8 374.4 759.5 374.3C763.2 374.2 766.5 373.6 770.5 372.1C774.5 370.7 779.6 367.7 783.6 365.6C787.6 363.5 791.5 360.9 794.6 359.4C797.8 357.9 801.2 357.2 802.5 356.8" stroke="#cc6a5e" stroke-width="1" fill="none"/>
<text x="462.5" y="369.3" class="t">STEREO A</text>
<text x="445.4" y="370.1" class="t" text-anchor="end">500</text>
<text x="445.4" y="395.6" class="t" text-anchor="end">300</text>
<rect x="453.8" y="414.4" width="348.9" height="51.0" fill="none" stroke="#a6a8c4" stroke-width="1"/>
<path d="M475.3 414.4v3.2M475.3 465.4v-3.2M525.0 414.4v3.2M525.0 465.4v-3.2M574.7 414.4v3.2M574.7 465.4v-3.2M624.4 414.4v3.2M624.4 465.4v-3.2M674.1 414.4v3.2M674.1 465.4v-3.2M723.8 414.4v3.2M723.8 465.4v-3.2M773.5 414.4v3.2M773.5 465.4v-3.2M453.8 427.1h4.5M802.7 427.1h-4.5M453.8 439.9h4.5M802.7 439.9h-4.5M453.8 452.6h4.5M802.7 452.6h-4.5" stroke="#a6a8c4" stroke-width="1" fill="none"/>
<path d="M453.5 433.1C455.9 433.2 462.3 433.5 467.6 434.0C472.9 434.5 479.2 435.4 485.1 436.2C491.0 437.0 497.6 438.2 502.7 438.9C507.8 439.6 510.7 440.1 515.8 440.2C520.9 440.3 527.5 440.0 533.4 439.3C539.3 438.6 545.9 436.9 551.0 436.2C556.1 435.5 559.0 435.1 564.1 435.3C569.2 435.5 575.8 436.4 581.7 437.1C587.6 437.8 593.8 438.8 599.3 439.3C604.8 439.8 609.5 440.4 614.6 440.2C619.7 440.0 624.5 439.1 630.0 438.4C635.5 437.7 641.6 436.4 647.5 436.2C653.4 436.0 658.5 436.6 665.1 437.1C671.7 437.6 679.0 438.5 687.0 439.3C695.0 440.1 704.6 441.0 713.4 441.9C722.2 442.8 731.7 443.8 739.7 444.6C747.8 445.4 754.4 446.3 761.7 446.8C769.0 447.3 776.8 447.6 783.6 447.6C790.4 447.6 799.4 446.9 802.5 446.8" stroke="#4149c8" stroke-width="1" fill="none"/>
<text x="462.5" y="430.7" class="t">STEREO B</text>
<text x="445.4" y="431.4" class="t" text-anchor="end">500</text>
<text x="445.4" y="456.9" class="t" text-anchor="end">300</text>
<text x="475.3" y="255.9" class="t" text-anchor="middle">05</text>
<text x="525.0" y="255.9" class="t" text-anchor="middle">06</text>
<text x="574.7" y="255.9" class="t" text-anchor="middle">07</text>
<text x="624.4" y="255.9" class="t" text-anchor="middle">08</text>
<text x="674.1" y="255.9" class="t" text-anchor="middle">09</text>
<text x="723.8" y="255.9" class="t" text-anchor="middle">10</text>
<text x="773.5" y="255.9" class="t" text-anchor="middle">11</text>
<text x="475.3" y="481.0" class="t" text-anchor="middle">05</text>
<text x="525.0" y="481.0" class="t" text-anchor="middle">06</text>
<text x="574.7" y="481.0" class="t" text-anchor="middle">07</text>
<text x="624.4" y="481.0" class="t" text-anchor="middle">08</text>
<text x="674.1" y="481.0" class="t" text-anchor="middle">09</text>
<text x="723.8" y="481.0" class="t" text-anchor="middle">10</text>
<text x="773.5" y="481.0" class="t" text-anchor="middle">11</text>
<rect x="617.3" y="65.6" width="2.1" height="400.6" fill="#eeea3c"/>
<text x="2.2" y="505.6" class="b" textLength="192" lengthAdjust="spacingAndGlyphs">Space Weather Prediction Center</text>
<text x="247.6" y="505.6" class="b" textLength="180" lengthAdjust="spacingAndGlyphs">Run Time: 2019-07-06 14:00 UT</text>
<text x="439.8" y="505.6" class="b" textLength="84.6" lengthAdjust="spacingAndGlyphs">Mode: Ambient</text>
<text x="604.2" y="505.6" class="b" textLength="211" lengthAdjust="spacingAndGlyphs">Image Created: 2019-07-06 15:35 UT</text>
<rect x="0" y="507.2" width="820" height="2" fill="#03040c"/>
<rect x="0" y="509" width="820" height="3.8" fill="#404042"/>
<rect x="0" y="512.8" width="820" height="1.2" fill="#ffffff"/>
<rect x="1" y="1" width="818" height="1" fill="#020208"/>
<rect x="1" y="1" width="0.8" height="512" fill="#020208"/>
<rect x="817.9" y="1" width="1.1" height="512" fill="#020208"/>
<rect x="0" y="0" width="820" height="1" fill="#ffffff"/>
<rect x="0" y="0" width="1.05" height="514" fill="#ffffff"/>
<rect x="818.95" y="0" width="1.05" height="514" fill="#ffffff"/>
</svg></div></body></html>
